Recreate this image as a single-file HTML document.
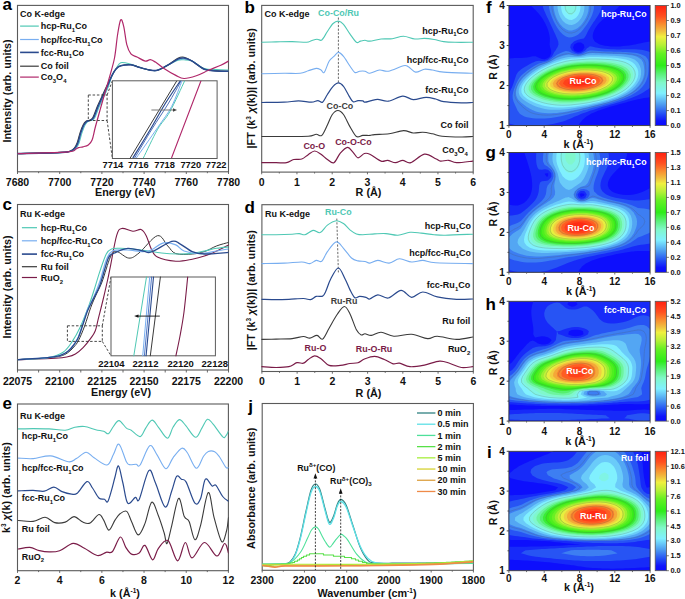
<!DOCTYPE html>
<html><head><meta charset="utf-8"><style>
html,body{margin:0;padding:0;background:#fff;width:685px;height:599px;overflow:hidden}
svg{display:block}
text{font-family:'Liberation Sans',sans-serif}
</style></head><body>
<svg width="685" height="599" viewBox="0 0 685 599">
<rect width="685" height="599" fill="#fff"/>
<text x="2.50" y="10.30" font-size="17" text-anchor="start" fill="#000" font-weight="bold">a</text>
<text x="244.50" y="13.00" font-size="17" text-anchor="start" fill="#000" font-weight="bold">b</text>
<text x="2.50" y="209.80" font-size="17" text-anchor="start" fill="#000" font-weight="bold">c</text>
<text x="244.50" y="213.20" font-size="17" text-anchor="start" fill="#000" font-weight="bold">d</text>
<text x="2.50" y="408.60" font-size="17" text-anchor="start" fill="#000" font-weight="bold">e</text>
<text x="248.30" y="412.00" font-size="17" text-anchor="start" fill="#000" font-weight="bold">j</text>
<text x="486.00" y="13.30" font-size="17" text-anchor="start" fill="#000" font-weight="bold">f</text>
<text x="485.50" y="157.70" font-size="17" text-anchor="start" fill="#000" font-weight="bold">g</text>
<text x="485.50" y="309.50" font-size="17" text-anchor="start" fill="#000" font-weight="bold">h</text>
<text x="487.00" y="458.00" font-size="17" text-anchor="start" fill="#000" font-weight="bold">i</text>
<rect x="17.50" y="5.40" width="211.00" height="166.40" stroke="#5a5a5a" stroke-width="1.1" fill="none"/>
<line x1="17.50" y1="171.80" x2="17.50" y2="174.00" stroke="#5a5a5a" stroke-width="0.9"/>
<text x="17.50" y="186.20" font-size="10.5" text-anchor="middle" fill="#111" font-weight="bold">7680</text>
<line x1="38.60" y1="171.80" x2="38.60" y2="173.20" stroke="#5a5a5a" stroke-width="0.9"/>
<line x1="59.70" y1="171.80" x2="59.70" y2="174.00" stroke="#5a5a5a" stroke-width="0.9"/>
<text x="59.70" y="186.20" font-size="10.5" text-anchor="middle" fill="#111" font-weight="bold">7700</text>
<line x1="80.80" y1="171.80" x2="80.80" y2="173.20" stroke="#5a5a5a" stroke-width="0.9"/>
<line x1="101.90" y1="171.80" x2="101.90" y2="174.00" stroke="#5a5a5a" stroke-width="0.9"/>
<text x="101.90" y="186.20" font-size="10.5" text-anchor="middle" fill="#111" font-weight="bold">7720</text>
<line x1="123.00" y1="171.80" x2="123.00" y2="173.20" stroke="#5a5a5a" stroke-width="0.9"/>
<line x1="144.10" y1="171.80" x2="144.10" y2="174.00" stroke="#5a5a5a" stroke-width="0.9"/>
<text x="144.10" y="186.20" font-size="10.5" text-anchor="middle" fill="#111" font-weight="bold">7740</text>
<line x1="165.20" y1="171.80" x2="165.20" y2="173.20" stroke="#5a5a5a" stroke-width="0.9"/>
<line x1="186.30" y1="171.80" x2="186.30" y2="174.00" stroke="#5a5a5a" stroke-width="0.9"/>
<text x="186.30" y="186.20" font-size="10.5" text-anchor="middle" fill="#111" font-weight="bold">7760</text>
<line x1="207.40" y1="171.80" x2="207.40" y2="173.20" stroke="#5a5a5a" stroke-width="0.9"/>
<line x1="228.50" y1="171.80" x2="228.50" y2="174.00" stroke="#5a5a5a" stroke-width="0.9"/>
<text x="228.50" y="186.20" font-size="10.5" text-anchor="middle" fill="#111" font-weight="bold">7780</text>
<text x="125.00" y="196.30" font-size="10.8" text-anchor="middle" fill="#111" font-weight="bold">Energy (eV)</text>
<text x="11.40" y="91.00" font-size="10.8" text-anchor="middle" fill="#111" font-weight="bold" transform="rotate(-90 11.4 91)">Intensity (arb. units)</text>
<text x="20.10" y="17.00" font-size="9" text-anchor="start" fill="#111" font-weight="bold">Co K-edge</text>
<line x1="20.10" y1="26.10" x2="38.80" y2="26.10" stroke="#4fc8b4" stroke-width="1.2"/>
<text x="40.80" y="29.30" font-size="9" text-anchor="start" fill="#111" font-weight="bold">hcp-Ru<tspan font-size="5.94" dy="2.88">1</tspan><tspan dy="-2.88">Co</tspan></text>
<line x1="20.10" y1="39.50" x2="38.80" y2="39.50" stroke="#78aef0" stroke-width="1.2"/>
<text x="40.80" y="42.70" font-size="9" text-anchor="start" fill="#111" font-weight="bold">hcp/fcc-Ru<tspan font-size="5.94" dy="2.88">1</tspan><tspan dy="-2.88">Co</tspan></text>
<line x1="20.10" y1="52.40" x2="38.80" y2="52.40" stroke="#2a4a8e" stroke-width="1.6"/>
<text x="40.80" y="55.60" font-size="9" text-anchor="start" fill="#111" font-weight="bold">fcc-Ru<tspan font-size="5.94" dy="2.88">1</tspan><tspan dy="-2.88">Co</tspan></text>
<line x1="20.10" y1="66.20" x2="38.80" y2="66.20" stroke="#3a3a3a" stroke-width="1.2"/>
<text x="40.80" y="69.40" font-size="9" text-anchor="start" fill="#111" font-weight="bold">Co foil</text>
<line x1="20.10" y1="77.10" x2="38.80" y2="77.10" stroke="#b0286a" stroke-width="1.2"/>
<text x="40.80" y="80.30" font-size="9" text-anchor="start" fill="#111" font-weight="bold">Co<tspan font-size="5.94" dy="2.88">3</tspan><tspan dy="-2.88">O</tspan><tspan font-size="5.94" dy="2.88">4</tspan></text>
<clipPath id="clipA"><rect x="17.5" y="5.4" width="211" height="166"/></clipPath><g clip-path="url(#clipA)">
<path d="M17.50,153.60 C24.92,153.40 52.88,152.85 62.00,152.40 C71.12,151.95 69.87,151.58 72.20,150.90 C74.53,150.22 74.87,149.62 76.00,148.30 C77.13,146.98 78.00,145.62 79.00,143.00 C80.00,140.38 81.00,135.60 82.00,132.60 C83.00,129.60 84.00,126.88 85.00,125.00 C86.00,123.12 86.87,122.10 88.00,121.30 C89.13,120.50 90.67,120.83 91.80,120.20 C92.93,119.57 93.55,119.82 94.80,117.50 C96.05,115.18 97.80,109.80 99.30,106.30 C100.80,102.80 102.30,99.75 103.80,96.50 C105.30,93.25 106.93,90.30 108.30,86.80 C109.67,83.30 110.72,78.47 112.00,75.50 C113.28,72.53 114.55,71.13 116.00,69.00 C117.45,66.87 118.22,63.50 120.70,62.70 C123.18,61.90 127.85,63.45 130.90,64.20 C133.95,64.95 135.93,66.25 139.00,67.20 C142.07,68.15 146.23,69.38 149.30,69.90 C152.37,70.42 154.33,71.08 157.40,70.30 C160.47,69.52 164.28,66.88 167.70,65.20 C171.12,63.52 175.18,61.10 177.90,60.20 C180.62,59.30 181.62,59.65 184.00,59.80 C186.38,59.95 188.80,59.65 192.20,61.10 C195.60,62.55 200.32,67.10 204.40,68.50 C208.48,69.90 212.68,69.25 216.70,69.50 C220.72,69.75 226.53,69.92 228.50,70.00" fill="none" stroke="#4fc8b4" stroke-width="1.1" stroke-linejoin="round" stroke-linecap="round"/>
<path d="M17.50,153.60 C24.92,153.40 53.00,152.85 62.00,152.40 C71.00,151.95 69.28,151.58 71.50,150.90 C73.72,150.22 74.17,149.62 75.30,148.30 C76.43,146.98 77.30,145.62 78.30,143.00 C79.30,140.38 80.30,135.60 81.30,132.60 C82.30,129.60 83.30,126.88 84.30,125.00 C85.30,123.12 86.17,122.10 87.30,121.30 C88.43,120.50 89.97,120.83 91.10,120.20 C92.23,119.57 92.85,119.82 94.10,117.50 C95.35,115.18 97.10,109.80 98.60,106.30 C100.10,102.80 101.60,99.75 103.10,96.50 C104.60,93.25 106.12,90.30 107.60,86.80 C109.08,83.30 110.60,78.47 112.00,75.50 C113.40,72.53 114.55,70.62 116.00,69.00 C117.45,67.38 118.22,66.50 120.70,65.80 C123.18,65.10 127.85,64.57 130.90,64.80 C133.95,65.03 135.93,66.35 139.00,67.20 C142.07,68.05 146.23,69.38 149.30,69.90 C152.37,70.42 154.33,71.08 157.40,70.30 C160.47,69.52 164.28,66.98 167.70,65.20 C171.12,63.42 175.18,60.67 177.90,59.60 C180.62,58.53 181.62,58.55 184.00,58.80 C186.38,59.05 188.80,59.35 192.20,61.10 C195.60,62.85 200.32,67.67 204.40,69.30 C208.48,70.93 212.68,70.57 216.70,70.90 C220.72,71.23 226.53,71.23 228.50,71.30" fill="none" stroke="#78aef0" stroke-width="1.1" stroke-linejoin="round" stroke-linecap="round"/>
<path d="M17.50,153.60 C24.92,153.40 53.20,152.85 62.00,152.40 C70.80,151.95 68.28,151.58 70.30,150.90 C72.32,150.22 72.97,149.62 74.10,148.30 C75.23,146.98 76.10,145.62 77.10,143.00 C78.10,140.38 79.10,135.60 80.10,132.60 C81.10,129.60 82.10,126.88 83.10,125.00 C84.10,123.12 84.97,122.10 86.10,121.30 C87.23,120.50 88.77,120.83 89.90,120.20 C91.03,119.57 91.65,119.82 92.90,117.50 C94.15,115.18 95.90,109.80 97.40,106.30 C98.90,102.80 100.40,99.75 101.90,96.50 C103.40,93.25 104.72,90.30 106.40,86.80 C108.08,83.30 110.40,78.47 112.00,75.50 C113.60,72.53 114.55,70.62 116.00,69.00 C117.45,67.38 118.22,66.50 120.70,65.80 C123.18,65.10 127.85,64.57 130.90,64.80 C133.95,65.03 135.93,66.35 139.00,67.20 C142.07,68.05 146.23,69.38 149.30,69.90 C152.37,70.42 154.33,71.08 157.40,70.30 C160.47,69.52 164.28,67.22 167.70,65.20 C171.12,63.18 175.18,59.53 177.90,58.20 C180.62,56.87 181.62,56.72 184.00,57.20 C186.38,57.68 188.80,59.08 192.20,61.10 C195.60,63.12 200.32,67.67 204.40,69.30 C208.48,70.93 212.68,70.57 216.70,70.90 C220.72,71.23 226.53,71.23 228.50,71.30" fill="none" stroke="#3a3a3a" stroke-width="1.1" stroke-linejoin="round" stroke-linecap="round"/>
<path d="M17.50,153.60 C24.92,153.40 53.08,152.85 62.00,152.40 C70.92,151.95 68.87,151.58 71.00,150.90 C73.13,150.22 73.67,149.62 74.80,148.30 C75.93,146.98 76.80,145.62 77.80,143.00 C78.80,140.38 79.80,135.60 80.80,132.60 C81.80,129.60 82.80,126.88 83.80,125.00 C84.80,123.12 85.67,122.10 86.80,121.30 C87.93,120.50 89.47,120.83 90.60,120.20 C91.73,119.57 92.35,119.82 93.60,117.50 C94.85,115.18 96.60,109.80 98.10,106.30 C99.60,102.80 101.10,99.75 102.60,96.50 C104.10,93.25 105.53,90.30 107.10,86.80 C108.67,83.30 110.52,78.47 112.00,75.50 C113.48,72.53 114.55,70.62 116.00,69.00 C117.45,67.38 118.22,66.50 120.70,65.80 C123.18,65.10 127.85,64.57 130.90,64.80 C133.95,65.03 135.93,66.35 139.00,67.20 C142.07,68.05 146.23,69.38 149.30,69.90 C152.37,70.42 154.33,71.08 157.40,70.30 C160.47,69.52 164.28,67.08 167.70,65.20 C171.12,63.32 175.18,60.20 177.90,59.00 C180.62,57.80 181.62,57.65 184.00,58.00 C186.38,58.35 188.80,59.22 192.20,61.10 C195.60,62.98 200.32,67.67 204.40,69.30 C208.48,70.93 212.68,70.57 216.70,70.90 C220.72,71.23 226.53,71.23 228.50,71.30" fill="none" stroke="#2a4a8e" stroke-width="1.5" stroke-linejoin="round" stroke-linecap="round"/>
<path d="M17.50,153.60 C25.92,153.30 58.32,152.55 68.00,151.80 C77.68,151.05 73.83,149.80 75.60,149.10 C77.37,148.40 77.37,147.98 78.60,147.60 C79.83,147.22 81.38,147.25 83.00,146.80 C84.62,146.35 86.78,146.03 88.30,144.90 C89.82,143.77 90.97,142.82 92.10,140.00 C93.23,137.18 93.98,132.25 95.10,128.00 C96.22,123.75 97.55,119.00 98.80,114.50 C100.05,110.00 101.40,105.25 102.60,101.00 C103.80,96.75 104.87,92.93 106.00,89.00 C107.13,85.07 107.98,82.57 109.40,77.40 C110.82,72.23 113.13,65.15 114.50,58.00 C115.87,50.85 116.57,40.87 117.60,34.50 C118.63,28.13 119.68,21.17 120.70,19.80 C121.72,18.43 122.68,22.15 123.70,26.30 C124.72,30.45 125.60,40.10 126.80,44.70 C128.00,49.30 129.20,51.85 130.90,53.90 C132.60,55.95 134.62,55.80 137.00,57.00 C139.38,58.20 142.98,60.65 145.20,61.10 C147.42,61.55 148.60,59.53 150.30,59.70 C152.00,59.87 153.18,60.68 155.40,62.10 C157.62,63.52 160.20,65.98 163.60,68.20 C167.00,70.42 172.40,73.68 175.80,75.40 C179.20,77.12 180.58,78.43 184.00,78.50 C187.42,78.57 192.22,77.17 196.30,75.80 C200.38,74.43 204.42,72.07 208.50,70.30 C212.58,68.53 217.47,66.73 220.80,65.20 C224.13,63.67 227.22,61.78 228.50,61.10" fill="none" stroke="#b0286a" stroke-width="1.2" stroke-linejoin="round" stroke-linecap="round"/>
</g>
<rect x="88.3" y="95" width="18.8" height="25.5" fill="none" stroke="#333" stroke-width="0.9" stroke-dasharray="2.5,1.8"/>
<line x1="107.10" y1="95.00" x2="112.40" y2="80.80" stroke="#333" stroke-width="0.9" stroke-dasharray="2.5,1.8"/>
<line x1="107.10" y1="120.50" x2="112.40" y2="158.50" stroke="#333" stroke-width="0.9" stroke-dasharray="2.5,1.8"/>
<rect x="112.40" y="80.80" width="104.70" height="77.70" stroke="#5a5a5a" stroke-width="1.0" fill="#fff"/>
<clipPath id="clipAi"><rect x="112.4" y="80.8" width="104.7" height="77.7"/></clipPath><g clip-path="url(#clipAi)">
<path d="M129.9,158.5 L176.8,80.8" fill="none" stroke="#3a3a3a" stroke-width="1.0" stroke-linejoin="round" stroke-linecap="round"/>
<path d="M133.00,157.70 C135.83,153.08 144.67,138.95 150.00,130.00 C155.33,121.05 159.95,112.20 165.00,104.00 C170.05,95.80 177.75,84.67 180.30,80.80" fill="none" stroke="#2a4a8e" stroke-width="1.2" stroke-linejoin="round" stroke-linecap="round"/>
<path d="M134.80,157.70 C137.67,152.92 146.47,137.95 152.00,129.00 C157.53,120.05 163.13,112.03 168.00,104.00 C172.87,95.97 179.00,84.67 181.20,80.80" fill="none" stroke="#3b5fb0" stroke-width="0.9" stroke-linejoin="round" stroke-linecap="round"/>
<path d="M136.50,157.70 C140.02,152.68 151.75,136.13 157.60,127.60 C163.45,119.07 167.53,114.30 171.60,106.50 C175.67,98.70 180.27,85.08 182.00,80.80" fill="none" stroke="#78aef0" stroke-width="1.0" stroke-linejoin="round" stroke-linecap="round"/>
<path d="M143.50,157.70 C145.85,152.97 153.22,136.95 157.60,129.30 C161.98,121.65 165.28,119.88 169.80,111.80 C174.32,103.72 182.22,85.97 184.70,80.80" fill="none" stroke="#4fc8b4" stroke-width="1.0" stroke-linejoin="round" stroke-linecap="round"/>
<path d="M171.6,157.7 L201,80.8" fill="none" stroke="#b0286a" stroke-width="1.1" stroke-linejoin="round" stroke-linecap="round"/>
</g>
<line x1="151.40" y1="110.00" x2="174.00" y2="110.00" stroke="#777" stroke-width="1.0"/>
<path d="M177,110 L173,108.2 L173,111.8 Z" fill="#444"/>
<text x="112.90" y="168.00" font-size="9.3" text-anchor="middle" fill="#111" font-weight="bold">7714</text>
<text x="138.30" y="168.00" font-size="9.3" text-anchor="middle" fill="#111" font-weight="bold">7716</text>
<text x="164.60" y="168.00" font-size="9.3" text-anchor="middle" fill="#111" font-weight="bold">7718</text>
<text x="190.80" y="168.00" font-size="9.3" text-anchor="middle" fill="#111" font-weight="bold">7720</text>
<text x="216.20" y="168.00" font-size="9.3" text-anchor="middle" fill="#111" font-weight="bold">7722</text>
<rect x="261.70" y="5.40" width="211.50" height="166.70" stroke="#5a5a5a" stroke-width="1.1" fill="none"/>
<line x1="261.70" y1="172.10" x2="261.70" y2="174.30" stroke="#5a5a5a" stroke-width="0.9"/>
<text x="261.70" y="185.90" font-size="10.5" text-anchor="middle" fill="#111" font-weight="bold">0</text>
<line x1="279.32" y1="172.10" x2="279.32" y2="173.50" stroke="#5a5a5a" stroke-width="0.9"/>
<line x1="296.95" y1="172.10" x2="296.95" y2="174.30" stroke="#5a5a5a" stroke-width="0.9"/>
<text x="296.95" y="185.90" font-size="10.5" text-anchor="middle" fill="#111" font-weight="bold">1</text>
<line x1="314.57" y1="172.10" x2="314.57" y2="173.50" stroke="#5a5a5a" stroke-width="0.9"/>
<line x1="332.20" y1="172.10" x2="332.20" y2="174.30" stroke="#5a5a5a" stroke-width="0.9"/>
<text x="332.20" y="185.90" font-size="10.5" text-anchor="middle" fill="#111" font-weight="bold">2</text>
<line x1="349.82" y1="172.10" x2="349.82" y2="173.50" stroke="#5a5a5a" stroke-width="0.9"/>
<line x1="367.45" y1="172.10" x2="367.45" y2="174.30" stroke="#5a5a5a" stroke-width="0.9"/>
<text x="367.45" y="185.90" font-size="10.5" text-anchor="middle" fill="#111" font-weight="bold">3</text>
<line x1="385.07" y1="172.10" x2="385.07" y2="173.50" stroke="#5a5a5a" stroke-width="0.9"/>
<line x1="402.70" y1="172.10" x2="402.70" y2="174.30" stroke="#5a5a5a" stroke-width="0.9"/>
<text x="402.70" y="185.90" font-size="10.5" text-anchor="middle" fill="#111" font-weight="bold">4</text>
<line x1="420.32" y1="172.10" x2="420.32" y2="173.50" stroke="#5a5a5a" stroke-width="0.9"/>
<line x1="437.95" y1="172.10" x2="437.95" y2="174.30" stroke="#5a5a5a" stroke-width="0.9"/>
<text x="437.95" y="185.90" font-size="10.5" text-anchor="middle" fill="#111" font-weight="bold">5</text>
<line x1="455.57" y1="172.10" x2="455.57" y2="173.50" stroke="#5a5a5a" stroke-width="0.9"/>
<line x1="473.20" y1="172.10" x2="473.20" y2="174.30" stroke="#5a5a5a" stroke-width="0.9"/>
<text x="473.20" y="185.90" font-size="10.5" text-anchor="middle" fill="#111" font-weight="bold">6</text>
<text x="368.50" y="196.30" font-size="10.8" text-anchor="middle" fill="#111" font-weight="bold">R (Å)</text>
<text x="255.40" y="88.30" font-size="10.8" text-anchor="middle" fill="#111" font-weight="bold" transform="rotate(-90 255.4 88.3)">|FT (k<tspan font-size="6.5" dy="-4">3</tspan><tspan dy="4"> <tspan font-style="italic">χ</tspan>(k))| (arb. units)</tspan></text>
<text x="264.50" y="17.00" font-size="9" text-anchor="start" fill="#111" font-weight="bold">Co K-edge</text>
<line x1="338.40" y1="17.50" x2="338.40" y2="83.00" stroke="#444" stroke-width="0.8" stroke-dasharray="2.2,1.5"/>
<path d="M261.90,42.30 C264.27,42.23 271.07,42.02 276.10,41.90 C281.13,41.78 287.02,41.53 292.10,41.60 C297.18,41.67 303.38,42.45 306.60,42.30 C309.82,42.15 309.67,41.22 311.40,40.70 C313.13,40.18 315.27,39.32 317.00,39.20 C318.73,39.08 320.07,41.28 321.80,40.00 C323.53,38.72 325.52,34.25 327.40,31.50 C329.28,28.75 331.27,25.23 333.10,23.50 C334.93,21.77 336.67,20.97 338.40,21.10 C340.13,21.23 341.58,22.17 343.50,24.30 C345.42,26.43 347.75,30.90 349.90,33.90 C352.05,36.90 354.65,41.10 356.40,42.30 C358.15,43.50 358.97,41.43 360.40,41.10 C361.83,40.77 363.43,40.30 365.00,40.30 C366.57,40.30 367.12,41.32 369.80,41.10 C372.48,40.88 377.35,39.40 381.10,39.00 C384.85,38.60 388.57,39.15 392.30,38.70 C396.03,38.25 399.75,36.25 403.50,36.30 C407.25,36.35 411.32,38.65 414.80,39.00 C418.28,39.35 421.18,38.32 424.40,38.40 C427.62,38.48 430.88,38.97 434.10,39.50 C437.32,40.03 440.23,41.13 443.70,41.60 C447.17,42.07 450.08,42.18 454.90,42.30 C459.72,42.42 469.65,42.30 472.60,42.30" fill="none" stroke="#4fc8b4" stroke-width="1.1" stroke-linejoin="round" stroke-linecap="round"/>
<path d="M261.90,73.70 C265.60,73.63 277.73,73.37 284.10,73.30 C290.47,73.23 296.08,73.72 300.10,73.30 C304.12,72.88 305.52,71.62 308.20,70.80 C310.88,69.98 314.07,68.53 316.20,68.40 C318.33,68.27 319.67,69.33 321.00,70.00 C322.33,70.67 322.85,73.87 324.20,72.40 C325.55,70.93 327.48,63.87 329.10,61.20 C330.72,58.53 332.35,57.87 333.90,56.40 C335.45,54.93 336.80,52.40 338.40,52.40 C340.00,52.40 341.58,54.13 343.50,56.40 C345.42,58.67 348.02,63.33 349.90,66.00 C351.78,68.67 353.18,71.53 354.80,72.40 C356.42,73.27 357.90,71.40 359.60,71.20 C361.30,71.00 363.30,70.85 365.00,71.20 C366.70,71.55 367.38,73.50 369.80,73.30 C372.22,73.10 376.42,70.35 379.50,70.00 C382.58,69.65 384.30,71.92 388.30,71.20 C392.30,70.48 400.15,66.43 403.50,65.70 C406.85,64.97 406.38,65.73 408.40,66.80 C410.42,67.87 412.93,71.70 415.60,72.10 C418.27,72.50 421.60,69.55 424.40,69.20 C427.20,68.85 429.18,69.52 432.40,70.00 C435.62,70.48 437.00,71.55 443.70,72.10 C450.40,72.65 467.78,73.10 472.60,73.30" fill="none" stroke="#78aef0" stroke-width="1.1" stroke-linejoin="round" stroke-linecap="round"/>
<path d="M261.90,102.50 C265.60,102.45 278.00,102.47 284.10,102.20 C290.20,101.93 293.95,100.90 298.50,100.90 C303.05,100.90 308.18,102.25 311.40,102.20 C314.62,102.15 315.93,100.60 317.80,100.60 C319.67,100.60 321.00,103.22 322.60,102.20 C324.20,101.18 325.65,97.13 327.40,94.50 C329.15,91.87 331.27,88.33 333.10,86.40 C334.93,84.47 336.67,82.90 338.40,82.90 C340.13,82.90 341.72,84.20 343.50,86.40 C345.28,88.60 347.50,93.55 349.10,96.10 C350.70,98.65 351.62,100.95 353.10,101.70 C354.58,102.45 356.38,100.73 358.00,100.60 C359.62,100.47 361.63,100.63 362.80,100.90 C363.97,101.17 363.57,102.25 365.00,102.20 C366.43,102.15 369.27,101.08 371.40,100.60 C373.53,100.12 374.98,99.20 377.80,99.30 C380.62,99.40 384.15,101.73 388.30,101.20 C392.45,100.67 398.55,96.37 402.70,96.10 C406.85,95.83 409.32,99.40 413.20,99.60 C417.08,99.80 422.25,97.40 426.00,97.30 C429.75,97.20 432.75,98.27 435.70,99.00 C438.65,99.73 439.42,101.07 443.70,101.70 C447.98,102.33 456.58,102.67 461.40,102.80 C466.22,102.93 470.73,102.55 472.60,102.50" fill="none" stroke="#2a4a8e" stroke-width="1.2" stroke-linejoin="round" stroke-linecap="round"/>
<path d="M261.90,136.50 C265.60,136.50 276.38,136.55 284.10,136.50 C291.82,136.45 302.85,136.57 308.20,136.20 C313.55,135.83 313.93,134.43 316.20,134.30 C318.47,134.17 319.93,136.95 321.80,135.40 C323.67,133.85 325.65,128.48 327.40,125.00 C329.15,121.52 330.55,116.92 332.30,114.50 C334.05,112.08 336.03,110.50 337.90,110.50 C339.77,110.50 341.50,111.82 343.50,114.50 C345.50,117.18 347.75,122.93 349.90,126.60 C352.05,130.27 354.25,135.03 356.40,136.50 C358.55,137.97 360.53,135.58 362.80,135.40 C365.07,135.22 368.03,135.53 370.00,135.40 C371.97,135.27 371.42,134.87 374.60,134.60 C377.78,134.33 384.28,134.47 389.10,133.80 C393.92,133.13 399.48,130.73 403.50,130.60 C407.52,130.47 409.98,132.73 413.20,133.00 C416.42,133.27 419.60,132.07 422.80,132.20 C426.00,132.33 429.18,133.13 432.40,133.80 C435.62,134.47 437.27,135.67 442.10,136.20 C446.93,136.73 456.32,136.95 461.40,137.00 C466.48,137.05 470.73,136.58 472.60,136.50" fill="none" stroke="#3a3a3a" stroke-width="1.1" stroke-linejoin="round" stroke-linecap="round"/>
<path d="M261.90,162.70 C264.27,162.70 272.00,162.70 276.10,162.70 C280.20,162.70 283.57,163.23 286.50,162.70 C289.43,162.17 291.15,160.12 293.70,159.50 C296.25,158.88 299.38,159.80 301.80,159.00 C304.22,158.20 306.07,156.03 308.20,154.70 C310.33,153.37 312.47,151.08 314.60,151.00 C316.73,150.92 318.87,152.78 321.00,154.20 C323.13,155.62 325.25,158.08 327.40,159.50 C329.55,160.92 331.75,163.77 333.90,162.70 C336.05,161.63 338.03,155.65 340.30,153.10 C342.57,150.55 345.37,147.53 347.50,147.40 C349.63,147.27 351.35,150.55 353.10,152.30 C354.85,154.05 356.12,157.70 358.00,157.90 C359.88,158.10 362.43,154.12 364.40,153.50 C366.37,152.88 367.02,152.93 369.80,154.20 C372.58,155.47 378.15,160.08 381.10,161.10 C384.05,162.12 385.10,160.03 387.50,160.30 C389.90,160.57 392.97,162.70 395.50,162.70 C398.03,162.70 400.15,160.30 402.70,160.30 C405.25,160.30 407.18,163.72 410.80,162.70 C414.42,161.68 420.25,154.87 424.40,154.20 C428.55,153.53 433.02,157.55 435.70,158.70 C438.38,159.85 438.37,160.83 440.50,161.10 C442.63,161.37 445.83,160.03 448.50,160.30 C451.17,160.57 452.48,162.57 456.50,162.70 C460.52,162.83 469.92,161.37 472.60,161.10" fill="none" stroke="#7a1c48" stroke-width="1.2" stroke-linejoin="round" stroke-linecap="round"/>
<text x="318.10" y="15.90" font-size="8.9" text-anchor="start" fill="#4fc8b4" font-weight="bold">Co-Co/Ru</text>
<text x="326.60" y="108.90" font-size="8.9" text-anchor="start" fill="#404040" font-weight="bold">Co-Co</text>
<text x="303.40" y="149.10" font-size="8.9" text-anchor="start" fill="#7a1c48" font-weight="bold">Co-O</text>
<text x="335.20" y="145.00" font-size="8.9" text-anchor="start" fill="#7a1c48" font-weight="bold">Co-O-Co</text>
<text x="468.60" y="33.60" font-size="9" text-anchor="end" fill="#111" font-weight="bold">hcp-Ru<tspan font-size="5.94" dy="2.88">1</tspan><tspan dy="-2.88">Co</tspan></text>
<text x="468.60" y="62.80" font-size="9" text-anchor="end" fill="#111" font-weight="bold">hcp/fcc-Ru<tspan font-size="5.94" dy="2.88">1</tspan><tspan dy="-2.88">Co</tspan></text>
<text x="468.60" y="93.20" font-size="9" text-anchor="end" fill="#111" font-weight="bold">fcc-Ru<tspan font-size="5.94" dy="2.88">1</tspan><tspan dy="-2.88">Co</tspan></text>
<text x="468.60" y="127.90" font-size="9" text-anchor="end" fill="#111" font-weight="bold">Co foil</text>
<text x="467.80" y="153.10" font-size="9" text-anchor="end" fill="#111" font-weight="bold">Co<tspan font-size="5.94" dy="2.88">3</tspan><tspan dy="-2.88">O</tspan><tspan font-size="5.94" dy="2.88">4</tspan></text>
<rect x="17.50" y="204.50" width="211.00" height="165.50" stroke="#5a5a5a" stroke-width="1.1" fill="none"/>
<line x1="17.50" y1="370.00" x2="17.50" y2="372.50" stroke="#5a5a5a" stroke-width="0.9"/>
<text x="17.50" y="384.50" font-size="10.5" text-anchor="middle" fill="#111" font-weight="bold">22075</text>
<line x1="38.60" y1="370.00" x2="38.60" y2="372.50" stroke="#5a5a5a" stroke-width="0.9"/>
<line x1="59.70" y1="370.00" x2="59.70" y2="372.50" stroke="#5a5a5a" stroke-width="0.9"/>
<text x="59.70" y="384.50" font-size="10.5" text-anchor="middle" fill="#111" font-weight="bold">22100</text>
<line x1="80.80" y1="370.00" x2="80.80" y2="372.50" stroke="#5a5a5a" stroke-width="0.9"/>
<line x1="101.90" y1="370.00" x2="101.90" y2="372.50" stroke="#5a5a5a" stroke-width="0.9"/>
<text x="101.90" y="384.50" font-size="10.5" text-anchor="middle" fill="#111" font-weight="bold">22125</text>
<line x1="123.00" y1="370.00" x2="123.00" y2="372.50" stroke="#5a5a5a" stroke-width="0.9"/>
<line x1="144.10" y1="370.00" x2="144.10" y2="372.50" stroke="#5a5a5a" stroke-width="0.9"/>
<text x="144.10" y="384.50" font-size="10.5" text-anchor="middle" fill="#111" font-weight="bold">22150</text>
<line x1="165.20" y1="370.00" x2="165.20" y2="372.50" stroke="#5a5a5a" stroke-width="0.9"/>
<line x1="186.30" y1="370.00" x2="186.30" y2="372.50" stroke="#5a5a5a" stroke-width="0.9"/>
<text x="186.30" y="384.50" font-size="10.5" text-anchor="middle" fill="#111" font-weight="bold">22175</text>
<line x1="207.40" y1="370.00" x2="207.40" y2="372.50" stroke="#5a5a5a" stroke-width="0.9"/>
<line x1="228.50" y1="370.00" x2="228.50" y2="372.50" stroke="#5a5a5a" stroke-width="0.9"/>
<text x="228.50" y="384.50" font-size="10.5" text-anchor="middle" fill="#111" font-weight="bold">22200</text>
<text x="121.00" y="395.60" font-size="10.8" text-anchor="middle" fill="#111" font-weight="bold">Energy (eV)</text>
<text x="11.40" y="287.00" font-size="10.8" text-anchor="middle" fill="#111" font-weight="bold" transform="rotate(-90 11.4 287)">Intensity (arb. units)</text>
<text x="20.10" y="217.00" font-size="9" text-anchor="start" fill="#111" font-weight="bold">Ru K-edge</text>
<line x1="21.90" y1="227.70" x2="37.00" y2="227.70" stroke="#4fc8b4" stroke-width="1.2"/>
<text x="40.80" y="230.90" font-size="9" text-anchor="start" fill="#111" font-weight="bold">hcp-Ru<tspan font-size="5.94" dy="2.88">1</tspan><tspan dy="-2.88">Co</tspan></text>
<line x1="21.90" y1="240.80" x2="37.00" y2="240.80" stroke="#78aef0" stroke-width="1.2"/>
<text x="40.80" y="244.00" font-size="9" text-anchor="start" fill="#111" font-weight="bold">hcp/fcc-Ru<tspan font-size="5.94" dy="2.88">1</tspan><tspan dy="-2.88">Co</tspan></text>
<line x1="21.90" y1="254.10" x2="37.00" y2="254.10" stroke="#2a4a8e" stroke-width="1.6"/>
<text x="40.80" y="257.30" font-size="9" text-anchor="start" fill="#111" font-weight="bold">fcc-Ru<tspan font-size="5.94" dy="2.88">1</tspan><tspan dy="-2.88">Co</tspan></text>
<line x1="21.90" y1="266.70" x2="37.00" y2="266.70" stroke="#3a3a3a" stroke-width="1.2"/>
<text x="40.80" y="269.90" font-size="9" text-anchor="start" fill="#111" font-weight="bold">Ru foil</text>
<line x1="21.90" y1="277.50" x2="37.00" y2="277.50" stroke="#7a1c48" stroke-width="1.2"/>
<text x="40.80" y="280.70" font-size="9" text-anchor="start" fill="#111" font-weight="bold">RuO<tspan font-size="5.94" dy="2.88">2</tspan><tspan dy="-2.88"></tspan></text>
<clipPath id="clipC"><rect x="17.5" y="204.5" width="211" height="166"/></clipPath><g clip-path="url(#clipC)">
<path d="M18.20,359.60 C24.40,359.38 47.15,358.77 55.40,358.30 C63.65,357.83 64.37,357.52 67.70,356.80 C71.03,356.08 72.83,355.53 75.40,354.00 C77.97,352.47 80.55,350.20 83.10,347.60 C85.65,345.00 88.67,341.22 90.70,338.40 C92.73,335.58 94.02,334.03 95.30,330.70 C96.58,327.37 97.12,323.52 98.40,318.40 C99.68,313.28 101.47,306.40 103.00,300.00 C104.53,293.60 106.37,285.62 107.60,280.00 C108.83,274.38 108.90,273.68 110.40,266.30 C111.90,258.92 114.72,242.00 116.60,235.70 C118.48,229.40 118.98,229.25 121.70,228.50 C124.42,227.75 129.67,231.03 132.90,231.20 C136.13,231.37 138.88,228.75 141.10,229.50 C143.32,230.25 144.50,232.47 146.20,235.70 C147.90,238.93 149.43,245.33 151.30,248.90 C153.17,252.47 153.32,255.05 157.40,257.10 C161.48,259.15 170.00,260.85 175.80,261.20 C181.60,261.55 187.43,260.05 192.20,259.20 C196.97,258.35 200.32,257.47 204.40,256.10 C208.48,254.73 212.67,252.87 216.70,251.00 C220.73,249.13 226.62,245.92 228.60,244.90" fill="none" stroke="#7a1c48" stroke-width="1.1" stroke-linejoin="round" stroke-linecap="round"/>
<path d="M18.20,359.60 C23.12,359.30 40.73,358.37 47.70,357.80 C54.67,357.23 56.67,357.03 60.00,356.20 C63.33,355.37 65.40,354.33 67.70,352.80 C70.00,351.27 72.02,349.02 73.80,347.00 C75.58,344.98 76.60,344.18 78.40,340.70 C80.20,337.22 82.55,331.62 84.60,326.10 C86.65,320.58 88.80,312.78 90.70,307.60 C92.60,302.42 94.12,299.27 96.00,295.00 C97.88,290.73 99.60,288.33 102.00,282.00 C104.40,275.67 107.97,262.08 110.40,257.00 C112.83,251.92 113.53,251.32 116.60,251.50 C119.67,251.68 125.07,257.85 128.80,258.10 C132.53,258.35 134.23,256.73 139.00,253.00 C143.77,249.27 152.62,236.88 157.40,235.70 C162.18,234.52 164.63,242.92 167.70,245.90 C170.77,248.88 171.72,252.25 175.80,253.60 C179.88,254.95 187.43,254.33 192.20,254.00 C196.97,253.67 200.32,252.95 204.40,251.60 C208.48,250.25 212.67,247.43 216.70,245.90 C220.73,244.37 226.62,242.98 228.60,242.40" fill="none" stroke="#3a3a3a" stroke-width="1.0" stroke-linejoin="round" stroke-linecap="round"/>
<path d="M18.20,359.60 C23.12,359.27 40.22,358.83 47.70,357.60 C55.18,356.37 59.00,354.90 63.10,352.20 C67.20,349.50 69.48,345.50 72.30,341.40 C75.12,337.30 77.18,333.73 80.00,327.60 C82.82,321.47 86.85,310.87 89.20,304.60 C91.55,298.33 92.27,295.70 94.10,290.00 C95.93,284.30 98.17,276.40 100.20,270.40 C102.23,264.40 104.42,257.58 106.30,254.00 C108.18,250.42 109.10,249.85 111.50,248.90 C113.90,247.95 115.77,248.12 120.70,248.30 C125.63,248.48 134.30,249.22 141.10,250.00 C147.90,250.78 155.37,252.33 161.50,253.00 C167.63,253.67 172.78,253.93 177.90,254.00 C183.02,254.07 187.78,253.90 192.20,253.40 C196.62,252.90 200.32,251.85 204.40,251.00 C208.48,250.15 212.67,248.98 216.70,248.30 C220.73,247.62 226.62,247.13 228.60,246.90" fill="none" stroke="#4fc8b4" stroke-width="1.1" stroke-linejoin="round" stroke-linecap="round"/>
<path d="M18.20,359.60 C23.12,359.27 40.73,358.27 47.70,357.60 C54.67,356.93 56.67,356.63 60.00,355.60 C63.33,354.57 65.40,353.25 67.70,351.40 C70.00,349.55 72.02,346.93 73.80,344.50 C75.58,342.07 76.85,340.38 78.40,336.80 C79.95,333.22 81.55,327.60 83.10,323.00 C84.65,318.40 85.92,313.55 87.70,309.20 C89.48,304.85 91.75,301.60 93.80,296.90 C95.85,292.20 97.92,287.15 100.00,281.00 C102.08,274.85 104.22,265.00 106.30,260.00 C108.38,255.00 109.08,252.67 112.50,251.00 C115.92,249.33 121.70,249.90 126.80,250.00 C131.90,250.10 139.02,251.60 143.10,251.60 C147.18,251.60 147.88,251.47 151.30,250.00 C154.72,248.53 159.52,243.65 163.60,242.80 C167.68,241.95 172.40,243.53 175.80,244.90 C179.20,246.27 179.90,249.55 184.00,251.00 C188.10,252.45 194.95,253.60 200.40,253.60 C205.85,253.60 212.00,251.78 216.70,251.00 C221.40,250.22 226.62,249.25 228.60,248.90" fill="none" stroke="#78aef0" stroke-width="1.2" stroke-linejoin="round" stroke-linecap="round"/>
<path d="M18.20,359.60 C23.12,359.27 40.73,358.27 47.70,357.60 C54.67,356.93 56.67,356.60 60.00,355.60 C63.33,354.60 65.40,353.37 67.70,351.60 C70.00,349.83 72.02,347.35 73.80,345.00 C75.58,342.65 76.85,341.00 78.40,337.50 C79.95,334.00 81.55,328.50 83.10,324.00 C84.65,319.50 85.92,314.83 87.70,310.50 C89.48,306.17 91.75,302.25 93.80,298.00 C95.85,293.75 97.57,291.67 100.00,285.00 C102.43,278.33 105.98,263.33 108.40,258.00 C110.82,252.67 111.27,254.62 114.50,253.00 C117.73,251.38 123.03,248.63 127.80,248.30 C132.57,247.97 139.18,250.38 143.10,251.00 C147.02,251.62 146.53,253.60 151.30,252.00 C156.07,250.40 166.93,242.77 171.70,241.40 C176.47,240.03 176.48,242.10 179.90,243.80 C183.32,245.50 188.12,249.90 192.20,251.60 C196.28,253.30 198.33,253.87 204.40,254.00 C210.47,254.13 224.57,252.67 228.60,252.40" fill="none" stroke="#2a4a8e" stroke-width="1.3" stroke-linejoin="round" stroke-linecap="round"/>
</g>
<rect x="67.4" y="325.8" width="34.9" height="15.6" fill="none" stroke="#333" stroke-width="0.9" stroke-dasharray="2.5,1.8"/>
<line x1="102.30" y1="325.80" x2="111.00" y2="277.00" stroke="#333" stroke-width="0.9" stroke-dasharray="2.5,1.8"/>
<line x1="102.30" y1="341.40" x2="111.00" y2="355.80" stroke="#333" stroke-width="0.9" stroke-dasharray="2.5,1.8"/>
<rect x="111.00" y="277.00" width="104.40" height="78.80" stroke="#5a5a5a" stroke-width="1.0" fill="#fff"/>
<path d="M133.8,355.8 L146.5,277" fill="none" stroke="#4fc8b4" stroke-width="1.0" stroke-linejoin="round" stroke-linecap="round"/>
<path d="M142.7,355.8 L149.7,277" fill="none" stroke="#78aef0" stroke-width="1.0" stroke-linejoin="round" stroke-linecap="round"/>
<path d="M144.4,355.8 L151.6,277" fill="none" stroke="#3b66c0" stroke-width="0.9" stroke-linejoin="round" stroke-linecap="round"/>
<path d="M146.1,355.8 L153.5,277" fill="none" stroke="#2a4a8e" stroke-width="1.1" stroke-linejoin="round" stroke-linecap="round"/>
<path d="M150.3,355.8 L160.4,277" fill="none" stroke="#3a3a3a" stroke-width="1.0" stroke-linejoin="round" stroke-linecap="round"/>
<path d="M175.90,355.80 C176.58,352.50 178.65,343.30 180.00,336.00 C181.35,328.70 182.72,321.83 184.00,312.00 C185.28,302.17 187.08,282.83 187.70,277.00" fill="none" stroke="#7a1c48" stroke-width="1.1" stroke-linejoin="round" stroke-linecap="round"/>
<line x1="137.00" y1="316.10" x2="159.80" y2="316.10" stroke="#111" stroke-width="0.9"/>
<path d="M134.2,316.1 L138.5,314.4 L138.5,317.8 Z" fill="#111"/>
<text x="111.40" y="366.80" font-size="9.5" text-anchor="middle" fill="#111" font-weight="bold">22104</text>
<text x="145.50" y="366.80" font-size="9.5" text-anchor="middle" fill="#111" font-weight="bold">22112</text>
<text x="180.70" y="366.80" font-size="9.5" text-anchor="middle" fill="#111" font-weight="bold">22120</text>
<text x="214.80" y="366.80" font-size="9.5" text-anchor="middle" fill="#111" font-weight="bold">22128</text>
<rect x="261.90" y="204.70" width="211.40" height="166.80" stroke="#5a5a5a" stroke-width="1.1" fill="none"/>
<line x1="261.90" y1="371.50" x2="261.90" y2="373.70" stroke="#5a5a5a" stroke-width="0.9"/>
<text x="261.90" y="384.60" font-size="10.5" text-anchor="middle" fill="#111" font-weight="bold">0</text>
<line x1="279.52" y1="371.50" x2="279.52" y2="372.90" stroke="#5a5a5a" stroke-width="0.9"/>
<line x1="297.13" y1="371.50" x2="297.13" y2="373.70" stroke="#5a5a5a" stroke-width="0.9"/>
<text x="297.13" y="384.60" font-size="10.5" text-anchor="middle" fill="#111" font-weight="bold">1</text>
<line x1="314.75" y1="371.50" x2="314.75" y2="372.90" stroke="#5a5a5a" stroke-width="0.9"/>
<line x1="332.37" y1="371.50" x2="332.37" y2="373.70" stroke="#5a5a5a" stroke-width="0.9"/>
<text x="332.37" y="384.60" font-size="10.5" text-anchor="middle" fill="#111" font-weight="bold">2</text>
<line x1="349.98" y1="371.50" x2="349.98" y2="372.90" stroke="#5a5a5a" stroke-width="0.9"/>
<line x1="367.60" y1="371.50" x2="367.60" y2="373.70" stroke="#5a5a5a" stroke-width="0.9"/>
<text x="367.60" y="384.60" font-size="10.5" text-anchor="middle" fill="#111" font-weight="bold">3</text>
<line x1="385.22" y1="371.50" x2="385.22" y2="372.90" stroke="#5a5a5a" stroke-width="0.9"/>
<line x1="402.83" y1="371.50" x2="402.83" y2="373.70" stroke="#5a5a5a" stroke-width="0.9"/>
<text x="402.83" y="384.60" font-size="10.5" text-anchor="middle" fill="#111" font-weight="bold">4</text>
<line x1="420.45" y1="371.50" x2="420.45" y2="372.90" stroke="#5a5a5a" stroke-width="0.9"/>
<line x1="438.07" y1="371.50" x2="438.07" y2="373.70" stroke="#5a5a5a" stroke-width="0.9"/>
<text x="438.07" y="384.60" font-size="10.5" text-anchor="middle" fill="#111" font-weight="bold">5</text>
<line x1="455.68" y1="371.50" x2="455.68" y2="372.90" stroke="#5a5a5a" stroke-width="0.9"/>
<line x1="473.30" y1="371.50" x2="473.30" y2="373.70" stroke="#5a5a5a" stroke-width="0.9"/>
<text x="473.30" y="384.60" font-size="10.5" text-anchor="middle" fill="#111" font-weight="bold">6</text>
<text x="368.50" y="397.20" font-size="10.8" text-anchor="middle" fill="#111" font-weight="bold">R (Å)</text>
<text x="255.40" y="290.20" font-size="10.8" text-anchor="middle" fill="#111" font-weight="bold" transform="rotate(-90 255.4 290.2)">|FT (k<tspan font-size="6.5" dy="-4">3</tspan><tspan dy="4"> <tspan font-style="italic">χ</tspan>(k))| (arb. units)</tspan></text>
<text x="265.10" y="216.60" font-size="9" text-anchor="start" fill="#111" font-weight="bold">Ru K-edge</text>
<line x1="336.80" y1="218.60" x2="338.40" y2="272.40" stroke="#444" stroke-width="0.8" stroke-dasharray="2.2,1.5"/>
<path d="M261.90,234.70 C264.27,234.70 271.07,234.78 276.10,234.70 C281.13,234.62 288.23,234.38 292.10,234.20 C295.97,234.02 297.15,233.52 299.30,233.60 C301.45,233.68 302.72,235.23 305.00,234.70 C307.28,234.17 310.47,230.75 313.00,230.40 C315.53,230.05 317.80,233.48 320.20,232.60 C322.60,231.72 324.72,227.08 327.40,225.10 C330.08,223.12 333.62,220.97 336.30,220.70 C338.98,220.43 341.23,221.97 343.50,223.50 C345.77,225.03 347.75,228.17 349.90,229.90 C352.05,231.63 354.25,233.10 356.40,233.90 C358.55,234.70 359.77,234.70 362.80,234.70 C365.83,234.70 370.75,234.08 374.60,233.90 C378.45,233.72 382.02,233.38 385.90,233.60 C389.78,233.82 393.88,235.42 397.90,235.20 C401.92,234.98 406.12,232.65 410.00,232.30 C413.88,231.95 417.18,232.70 421.20,233.10 C425.22,233.50 430.08,234.35 434.10,234.70 C438.12,235.05 438.88,235.28 445.30,235.20 C451.72,235.12 468.05,234.37 472.60,234.20" fill="none" stroke="#4fc8b4" stroke-width="1.1" stroke-linejoin="round" stroke-linecap="round"/>
<path d="M261.90,263.60 C265.60,263.52 277.45,263.37 284.10,263.10 C290.75,262.83 297.52,261.92 301.80,262.00 C306.08,262.08 307.40,263.87 309.80,263.60 C312.20,263.33 314.20,260.80 316.20,260.40 C318.20,260.00 319.93,262.67 321.80,261.20 C323.67,259.73 324.98,254.82 327.40,251.60 C329.82,248.38 333.62,242.43 336.30,241.90 C338.98,241.37 340.97,245.72 343.50,248.40 C346.03,251.08 349.08,255.92 351.50,258.00 C353.92,260.08 355.75,260.32 358.00,260.90 C360.25,261.48 363.03,261.13 365.00,261.50 C366.97,261.87 367.67,263.28 369.80,263.10 C371.93,262.92 374.58,260.40 377.80,260.40 C381.02,260.40 385.48,263.37 389.10,263.10 C392.72,262.83 395.75,258.98 399.50,258.80 C403.25,258.62 407.72,261.73 411.60,262.00 C415.48,262.27 418.78,260.27 422.80,260.40 C426.82,260.53 427.40,262.27 435.70,262.80 C444.00,263.33 466.45,263.47 472.60,263.60" fill="none" stroke="#78aef0" stroke-width="1.1" stroke-linejoin="round" stroke-linecap="round"/>
<path d="M261.90,299.30 C264.27,299.35 271.60,299.60 276.10,299.60 C280.60,299.60 284.35,299.48 288.90,299.30 C293.45,299.12 299.78,298.45 303.40,298.50 C307.02,298.55 308.47,299.95 310.60,299.60 C312.73,299.25 314.20,296.98 316.20,296.40 C318.20,295.82 321.00,296.97 322.60,296.10 C324.20,295.23 324.45,294.05 325.80,291.20 C327.15,288.35 328.60,282.87 330.70,279.00 C332.80,275.13 336.00,268.00 338.40,268.00 C340.80,268.00 343.18,275.40 345.10,279.00 C347.02,282.60 348.28,286.48 349.90,289.60 C351.52,292.72 353.18,296.57 354.80,297.70 C356.42,298.83 357.73,296.47 359.60,296.40 C361.47,296.33 364.30,296.87 366.00,297.30 C367.70,297.73 367.83,299.42 369.80,299.00 C371.77,298.58 374.72,294.97 377.80,294.80 C380.88,294.63 384.42,298.73 388.30,298.00 C392.18,297.27 397.22,290.52 401.10,290.40 C404.98,290.28 407.98,297.03 411.60,297.30 C415.22,297.57 418.52,292.07 422.80,292.00 C427.08,291.93 431.68,295.68 437.30,296.90 C442.92,298.12 450.62,298.95 456.50,299.30 C462.38,299.65 469.92,299.05 472.60,299.00" fill="none" stroke="#2a4a8e" stroke-width="1.2" stroke-linejoin="round" stroke-linecap="round"/>
<path d="M261.90,339.40 C264.27,339.35 271.07,339.23 276.10,339.10 C281.13,338.97 287.55,339.03 292.10,338.60 C296.65,338.17 300.45,336.58 303.40,336.50 C306.35,336.42 307.53,338.28 309.80,338.10 C312.07,337.92 314.87,335.23 317.00,335.40 C319.13,335.57 320.58,340.30 322.60,339.10 C324.62,337.90 326.68,332.30 329.10,328.20 C331.52,324.10 334.57,318.12 337.10,314.50 C339.63,310.88 342.17,306.63 344.30,306.50 C346.43,306.37 347.88,309.82 349.90,313.70 C351.92,317.58 354.52,326.27 356.40,329.80 C358.28,333.33 359.77,334.23 361.20,334.90 C362.63,335.57 363.30,333.72 365.00,333.80 C366.70,333.88 368.72,335.67 371.40,335.40 C374.08,335.13 377.35,332.07 381.10,332.20 C384.85,332.33 388.82,335.85 393.90,336.20 C398.98,336.55 405.98,333.90 411.60,334.30 C417.22,334.70 423.32,338.28 427.60,338.60 C431.88,338.92 432.48,336.07 437.30,336.20 C442.12,336.33 450.62,339.27 456.50,339.40 C462.38,339.53 469.92,337.40 472.60,337.00" fill="none" stroke="#3a3a3a" stroke-width="1.1" stroke-linejoin="round" stroke-linecap="round"/>
<path d="M261.90,366.70 C264.27,366.83 271.60,367.50 276.10,367.50 C280.60,367.50 285.43,367.50 288.90,366.70 C292.37,365.90 294.48,363.28 296.90,362.70 C299.32,362.12 301.52,363.73 303.40,363.20 C305.28,362.67 306.33,360.73 308.20,359.50 C310.07,358.27 312.47,355.93 314.60,355.80 C316.73,355.67 318.58,357.10 321.00,358.70 C323.42,360.30 325.88,364.28 329.10,365.40 C332.32,366.52 336.83,365.72 340.30,365.40 C343.77,365.08 346.95,363.95 349.90,363.50 C352.85,363.05 355.58,363.45 358.00,362.70 C360.42,361.95 361.63,360.07 364.40,359.00 C367.17,357.93 371.28,356.22 374.60,356.30 C377.92,356.38 381.22,358.25 384.30,359.50 C387.38,360.75 390.57,363.18 393.10,363.80 C395.63,364.42 396.68,362.72 399.50,363.20 C402.32,363.68 405.85,366.38 410.00,366.70 C414.15,367.02 419.45,366.03 424.40,365.10 C429.35,364.17 435.42,361.37 439.70,361.10 C443.98,360.83 446.48,362.43 450.10,363.50 C453.72,364.57 457.65,366.97 461.40,367.50 C465.15,368.03 470.73,366.83 472.60,366.70" fill="none" stroke="#7a1c48" stroke-width="1.2" stroke-linejoin="round" stroke-linecap="round"/>
<text x="325.00" y="215.40" font-size="8.9" text-anchor="start" fill="#4fc8b4" font-weight="bold">Ru-Co</text>
<text x="330.70" y="304.40" font-size="8.9" text-anchor="start" fill="#404040" font-weight="bold">Ru-Ru</text>
<text x="304.60" y="350.70" font-size="8.9" text-anchor="start" fill="#7a1c48" font-weight="bold">Ru-O</text>
<text x="355.80" y="352.30" font-size="8.9" text-anchor="start" fill="#7a1c48" font-weight="bold">Ru-O-Ru</text>
<text x="471.00" y="229.10" font-size="9" text-anchor="end" fill="#111" font-weight="bold">hcp-Ru<tspan font-size="5.94" dy="2.88">1</tspan><tspan dy="-2.88">Co</tspan></text>
<text x="471.00" y="255.60" font-size="9" text-anchor="end" fill="#111" font-weight="bold">hcp/fcc-Ru<tspan font-size="5.94" dy="2.88">1</tspan><tspan dy="-2.88">Co</tspan></text>
<text x="470.20" y="287.70" font-size="9" text-anchor="end" fill="#111" font-weight="bold">fcc-Ru<tspan font-size="5.94" dy="2.88">1</tspan><tspan dy="-2.88">Co</tspan></text>
<text x="470.20" y="324.20" font-size="9" text-anchor="end" fill="#111" font-weight="bold">Ru foil</text>
<text x="470.20" y="351.90" font-size="9" text-anchor="end" fill="#111" font-weight="bold">RuO<tspan font-size="5.94" dy="2.88">2</tspan><tspan dy="-2.88"></tspan></text>
<rect x="17.50" y="404.00" width="210.90" height="166.70" stroke="#5a5a5a" stroke-width="1.1" fill="none"/>
<line x1="17.50" y1="570.70" x2="17.50" y2="572.90" stroke="#5a5a5a" stroke-width="0.9"/>
<text x="17.50" y="584.20" font-size="10.5" text-anchor="middle" fill="#111" font-weight="bold">2</text>
<line x1="38.59" y1="570.70" x2="38.59" y2="572.10" stroke="#5a5a5a" stroke-width="0.9"/>
<line x1="59.68" y1="570.70" x2="59.68" y2="572.90" stroke="#5a5a5a" stroke-width="0.9"/>
<text x="59.68" y="584.20" font-size="10.5" text-anchor="middle" fill="#111" font-weight="bold">4</text>
<line x1="80.77" y1="570.70" x2="80.77" y2="572.10" stroke="#5a5a5a" stroke-width="0.9"/>
<line x1="101.86" y1="570.70" x2="101.86" y2="572.90" stroke="#5a5a5a" stroke-width="0.9"/>
<text x="101.86" y="584.20" font-size="10.5" text-anchor="middle" fill="#111" font-weight="bold">6</text>
<line x1="122.95" y1="570.70" x2="122.95" y2="572.10" stroke="#5a5a5a" stroke-width="0.9"/>
<line x1="144.04" y1="570.70" x2="144.04" y2="572.90" stroke="#5a5a5a" stroke-width="0.9"/>
<text x="144.04" y="584.20" font-size="10.5" text-anchor="middle" fill="#111" font-weight="bold">8</text>
<line x1="165.13" y1="570.70" x2="165.13" y2="572.10" stroke="#5a5a5a" stroke-width="0.9"/>
<line x1="186.22" y1="570.70" x2="186.22" y2="572.90" stroke="#5a5a5a" stroke-width="0.9"/>
<text x="186.22" y="584.20" font-size="10.5" text-anchor="middle" fill="#111" font-weight="bold">10</text>
<line x1="207.31" y1="570.70" x2="207.31" y2="572.10" stroke="#5a5a5a" stroke-width="0.9"/>
<line x1="228.40" y1="570.70" x2="228.40" y2="572.90" stroke="#5a5a5a" stroke-width="0.9"/>
<text x="228.40" y="584.20" font-size="10.5" text-anchor="middle" fill="#111" font-weight="bold">12</text>
<text x="125.00" y="596.50" font-size="10.8" text-anchor="middle" fill="#111" font-weight="bold">k (Å<tspan font-size="6.5" dy="-4">-1</tspan><tspan dy="4">)</tspan></text>
<text x="10.20" y="487.60" font-size="10.8" text-anchor="middle" fill="#111" font-weight="bold" transform="rotate(-90 10.2 487.6)">k<tspan font-size="6.5" dy="-4">3</tspan><tspan dy="4"> <tspan font-style="italic">χ</tspan>(k) (arb. units)</tspan></text>
<clipPath id="clipE"><rect x="17.5" y="404" width="211" height="166.7"/></clipPath><g clip-path="url(#clipE)">
<path d="M18.30,428.90 C20.77,428.85 27.97,428.60 33.10,428.60 C38.23,428.60 43.75,428.63 49.10,428.90 C54.45,429.17 60.92,430.47 65.20,430.20 C69.48,429.93 71.60,427.92 74.80,427.30 C78.00,426.68 80.92,426.10 84.40,426.50 C87.88,426.90 92.48,428.90 95.70,429.70 C98.92,430.50 101.57,430.63 103.70,431.30 C105.83,431.97 106.88,434.50 108.50,433.70 C110.12,432.90 111.65,428.68 113.40,426.50 C115.15,424.32 116.83,420.33 119.00,420.60 C121.17,420.87 124.37,426.50 126.40,428.10 C128.43,429.70 128.92,428.78 131.20,430.20 C133.48,431.62 137.68,436.95 140.10,436.60 C142.52,436.25 143.70,430.85 145.70,428.10 C147.70,425.35 149.97,420.23 152.10,420.10 C154.23,419.97 155.95,424.28 158.50,427.30 C161.05,430.32 164.98,438.20 167.40,438.20 C169.82,438.20 171.00,430.40 173.00,427.30 C175.00,424.20 177.27,419.87 179.40,419.60 C181.53,419.33 183.12,422.75 185.80,425.70 C188.48,428.65 192.82,436.90 195.50,437.30 C198.18,437.70 199.90,431.10 201.90,428.10 C203.90,425.10 205.63,419.97 207.50,419.30 C209.37,418.63 210.55,421.17 213.10,424.10 C215.65,427.03 220.65,434.97 222.80,436.90 C224.95,438.83 225.07,436.63 226.00,435.70 C226.93,434.77 228.00,432.03 228.40,431.30" fill="none" stroke="#4fc8b4" stroke-width="1.1" stroke-linejoin="round" stroke-linecap="round"/>
<path d="M18.30,458.10 C20.77,458.18 27.70,458.97 33.10,458.60 C38.50,458.23 44.82,455.37 50.70,455.90 C56.58,456.43 64.12,461.35 68.40,461.80 C72.68,462.25 73.45,460.20 76.40,458.60 C79.35,457.00 83.15,452.33 86.10,452.20 C89.05,452.07 90.62,455.67 94.10,457.80 C97.58,459.93 103.78,465.53 107.00,465.00 C110.22,464.47 111.40,458.07 113.40,454.60 C115.40,451.13 116.83,443.00 119.00,444.20 C121.17,445.40 124.63,458.40 126.40,461.80 C128.17,465.20 127.98,464.20 129.60,464.60 C131.22,465.00 134.35,464.13 136.10,464.20 C137.85,464.27 137.83,468.07 140.10,465.00 C142.37,461.93 146.90,447.53 149.70,445.80 C152.50,444.07 154.22,450.78 156.90,454.60 C159.58,458.42 163.12,468.17 165.80,468.70 C168.48,469.23 170.33,461.22 173.00,457.80 C175.67,454.38 179.38,449.00 181.80,448.20 C184.22,447.40 185.08,449.65 187.50,453.00 C189.92,456.35 193.63,467.77 196.30,468.30 C198.97,468.83 201.50,459.02 203.50,456.20 C205.50,453.38 206.43,452.15 208.30,451.40 C210.17,450.65 212.82,450.77 214.70,451.70 C216.58,452.63 217.72,454.38 219.60,457.00 C221.48,459.62 224.53,465.67 226.00,467.40 C227.47,469.13 228.00,467.40 228.40,467.40" fill="none" stroke="#78aef0" stroke-width="1.1" stroke-linejoin="round" stroke-linecap="round"/>
<path d="M18.30,490.90 C20.77,490.82 28.77,490.35 33.10,490.40 C37.43,490.45 40.83,491.73 44.30,491.20 C47.77,490.67 50.95,487.13 53.90,487.20 C56.85,487.27 59.05,490.45 62.00,491.60 C64.95,492.75 69.07,493.83 71.60,494.10 C74.13,494.37 74.65,495.28 77.20,493.20 C79.75,491.12 84.35,482.47 86.90,481.60 C89.45,480.73 90.50,485.27 92.50,488.00 C94.50,490.73 96.90,496.12 98.90,498.00 C100.90,499.88 103.03,498.68 104.50,499.30 C105.97,499.92 106.50,503.32 107.70,501.70 C108.90,500.08 110.48,493.72 111.70,489.60 C112.92,485.48 113.87,480.93 115.00,477.00 C116.13,473.07 117.18,465.00 118.50,466.00 C119.82,467.00 121.37,476.80 122.90,483.00 C124.43,489.20 125.62,500.80 127.70,503.20 C129.78,505.60 133.48,498.03 135.40,497.40 C137.32,496.77 136.97,503.87 139.20,499.40 C141.43,494.93 146.08,473.33 148.80,470.60 C151.52,467.87 152.78,476.93 155.50,483.00 C158.22,489.07 162.38,505.72 165.10,507.00 C167.82,508.28 169.88,495.82 171.80,490.70 C173.72,485.58 175.00,478.22 176.60,476.30 C178.20,474.38 179.80,478.23 181.40,479.20 C183.00,480.17 183.95,478.10 186.20,482.10 C188.45,486.10 192.50,500.48 194.90,503.20 C197.30,505.92 198.85,502.40 200.60,498.40 C202.35,494.40 203.48,481.28 205.40,479.20 C207.32,477.12 210.33,484.88 212.10,485.90 C213.87,486.92 214.23,483.53 216.00,485.30 C217.77,487.07 220.62,493.83 222.70,496.50 C224.78,499.17 227.53,500.50 228.50,501.30" fill="none" stroke="#2a4a8e" stroke-width="1.2" stroke-linejoin="round" stroke-linecap="round"/>
<path d="M18.30,520.50 C20.77,520.65 28.63,521.93 33.10,521.40 C37.57,520.87 41.50,517.10 45.10,517.30 C48.70,517.50 51.35,521.80 54.70,522.60 C58.05,523.40 61.98,523.10 65.20,522.10 C68.42,521.10 71.07,516.60 74.00,516.60 C76.93,516.60 80.12,521.03 82.80,522.10 C85.48,523.17 87.42,524.27 90.10,523.00 C92.78,521.73 96.63,514.98 98.90,514.50 C101.17,514.02 102.03,517.50 103.70,520.10 C105.37,522.70 107.02,530.10 108.90,530.10 C110.78,530.10 113.15,522.82 115.00,520.10 C116.85,517.38 118.05,515.25 120.00,513.80 C121.95,512.35 124.78,510.13 126.70,511.40 C128.62,512.67 129.58,517.48 131.50,521.40 C133.42,525.32 135.95,534.57 138.20,534.90 C140.45,535.23 142.75,528.85 145.00,523.40 C147.25,517.95 149.47,503.48 151.70,502.20 C153.93,500.92 156.32,510.57 158.40,515.70 C160.48,520.83 162.77,528.37 164.20,533.00 C165.63,537.63 165.73,544.78 167.00,543.50 C168.27,542.22 169.87,532.82 171.80,525.30 C173.73,517.78 176.52,499.85 178.60,498.40 C180.68,496.95 182.55,512.77 184.30,516.60 C186.05,520.43 187.33,517.55 189.10,521.40 C190.87,525.25 192.98,539.05 194.90,539.70 C196.82,540.35 198.37,533.15 200.60,525.30 C202.83,517.45 206.05,493.88 208.30,492.60 C210.55,491.32 211.87,509.43 214.10,517.60 C216.33,525.77 219.63,539.37 221.70,541.60 C223.77,543.83 225.37,535.00 226.50,531.00 C227.63,527.00 228.17,519.83 228.50,517.60" fill="none" stroke="#3a3a3a" stroke-width="1.1" stroke-linejoin="round" stroke-linecap="round"/>
<path d="M18.30,549.00 C20.22,548.73 26.27,547.12 29.80,547.40 C33.33,547.68 36.28,549.95 39.50,550.70 C42.72,551.45 45.75,551.90 49.10,551.90 C52.45,551.90 55.58,552.12 59.60,550.70 C63.62,549.28 69.07,543.80 73.20,543.40 C77.33,543.00 80.38,546.28 84.40,548.30 C88.42,550.32 93.68,554.83 97.30,555.50 C100.92,556.17 103.57,552.97 106.10,552.30 C108.63,551.63 110.13,554.05 112.50,551.50 C114.87,548.95 118.08,537.70 120.30,537.00 C122.52,536.30 123.93,544.45 125.80,547.30 C127.67,550.15 129.27,553.13 131.50,554.10 C133.73,555.07 136.95,554.55 139.20,553.10 C141.45,551.65 142.77,544.28 145.00,545.40 C147.23,546.52 150.37,559.32 152.60,559.80 C154.83,560.28 155.83,551.50 158.40,548.30 C160.97,545.10 164.80,538.52 168.00,540.60 C171.20,542.68 174.72,560.48 177.60,560.80 C180.48,561.12 182.90,542.98 185.30,542.50 C187.70,542.02 188.80,557.90 192.00,557.90 C195.20,557.90 200.35,542.82 204.50,542.50 C208.65,542.18 213.55,555.83 216.90,556.00 C220.25,556.17 222.67,543.98 224.60,543.50 C226.53,543.02 227.85,551.50 228.50,553.10" fill="none" stroke="#7a1c48" stroke-width="1.2" stroke-linejoin="round" stroke-linecap="round"/>
</g>
<text x="19.90" y="419.00" font-size="9" text-anchor="start" fill="#111" font-weight="bold">Ru K-edge</text>
<text x="21.80" y="439.30" font-size="9" text-anchor="start" fill="#111" font-weight="bold">hcp-Ru<tspan font-size="5.94" dy="2.88">1</tspan><tspan dy="-2.88">Co</tspan></text>
<text x="21.80" y="470.70" font-size="9" text-anchor="start" fill="#111" font-weight="bold">hcp/fcc-Ru<tspan font-size="5.94" dy="2.88">1</tspan><tspan dy="-2.88">Co</tspan></text>
<text x="21.80" y="500.90" font-size="9" text-anchor="start" fill="#111" font-weight="bold">fcc-Ru<tspan font-size="5.94" dy="2.88">1</tspan><tspan dy="-2.88">Co</tspan></text>
<text x="21.80" y="531.70" font-size="9" text-anchor="start" fill="#111" font-weight="bold">Ru foil</text>
<text x="21.80" y="559.50" font-size="9" text-anchor="start" fill="#111" font-weight="bold">RuO<tspan font-size="5.94" dy="2.88">2</tspan><tspan dy="-2.88"></tspan></text>
<rect x="262.20" y="403.50" width="211.20" height="166.80" stroke="#5a5a5a" stroke-width="1.1" fill="none"/>
<clipPath id="clipJ"><rect x="262.2" y="403.5" width="211.2" height="166.5"/></clipPath><g clip-path="url(#clipJ)">
<path d="M262.50,564.30 C265.42,564.28 276.08,564.33 280.00,564.20 C283.92,564.07 284.33,563.87 286.00,563.50 C287.67,563.13 288.45,563.57 290.00,562.00 C291.55,560.43 293.55,558.33 295.30,554.10 C297.05,549.87 298.75,543.62 300.50,536.60 C302.25,529.58 304.05,519.75 305.80,512.00 C307.55,504.25 309.40,494.77 311.00,490.10 C312.60,485.43 313.93,484.13 315.40,484.00 C316.87,483.87 318.20,485.22 319.80,489.30 C321.40,493.38 323.40,503.02 325.00,508.50 C326.60,513.98 327.93,521.03 329.40,522.20 C330.87,523.37 332.48,518.50 333.80,515.50 C335.12,512.50 336.13,506.88 337.30,504.20 C338.47,501.52 339.33,499.27 340.80,499.40 C342.27,499.53 344.05,500.57 346.10,505.00 C348.15,509.43 350.77,518.98 353.10,526.00 C355.43,533.02 357.77,541.55 360.10,547.10 C362.43,552.65 364.77,556.68 367.10,559.30 C369.43,561.92 368.62,562.15 374.10,562.80 C379.58,563.45 389.02,563.17 400.00,563.20 C410.98,563.23 427.83,563.20 440.00,563.00 C452.17,562.80 467.50,562.17 473.00,562.00" fill="none" stroke="#2f8080" stroke-width="1.2" stroke-linejoin="round" stroke-linecap="round"/>
<path d="M262.50,564.40 C265.42,564.38 276.08,564.40 280.00,564.30 C283.92,564.20 284.33,564.08 286.00,563.80 C287.67,563.52 288.45,564.07 290.00,562.60 C291.55,561.13 293.55,559.10 295.30,555.00 C297.05,550.90 298.75,544.83 300.50,538.00 C302.25,531.17 304.05,521.58 305.80,514.00 C307.55,506.42 309.40,497.08 311.00,492.50 C312.60,487.92 313.93,486.67 315.40,486.50 C316.87,486.33 318.20,487.50 319.80,491.50 C321.40,495.50 323.40,505.05 325.00,510.50 C326.60,515.95 327.93,523.03 329.40,524.20 C330.87,525.37 332.48,520.53 333.80,517.50 C335.12,514.47 336.13,508.67 337.30,506.00 C338.47,503.33 339.33,501.33 340.80,501.50 C342.27,501.67 344.05,502.75 346.10,507.00 C348.15,511.25 350.77,520.50 353.10,527.00 C355.43,533.50 357.77,540.92 360.10,546.00 C362.43,551.08 364.45,554.70 367.10,557.50 C369.75,560.30 370.52,561.78 376.00,562.80 C381.48,563.82 389.33,563.43 400.00,563.60 C410.67,563.77 427.83,563.90 440.00,563.80 C452.17,563.70 467.50,563.13 473.00,563.00" fill="none" stroke="#5ee0e6" stroke-width="1.3" stroke-linejoin="round" stroke-linecap="round"/>
<path d="M262.50,564.00 C265.42,563.97 275.42,564.00 280.00,563.80 C284.58,563.60 286.58,564.72 290.00,562.80 C293.42,560.88 297.58,556.38 300.50,552.30 C303.42,548.22 305.67,542.02 307.50,538.30 C309.33,534.58 310.18,531.90 311.50,530.00 C312.82,528.10 314.23,527.07 315.40,526.90 C316.57,526.73 317.48,527.68 318.50,529.00 C319.52,530.32 320.33,532.63 321.50,534.80 C322.67,536.97 324.18,539.95 325.50,542.00 C326.82,544.05 328.32,546.60 329.40,547.10 C330.48,547.60 330.98,546.17 332.00,545.00 C333.02,543.83 334.03,541.85 335.50,540.10 C336.97,538.35 339.38,535.18 340.80,534.50 C342.22,533.82 342.83,535.07 344.00,536.00 C345.17,536.93 345.70,537.08 347.80,540.10 C349.90,543.12 353.68,550.45 356.60,554.10 C359.52,557.75 362.38,560.40 365.30,562.00 C368.22,563.60 368.32,563.37 374.10,563.70 C379.88,564.03 383.52,564.03 400.00,564.00 C416.48,563.97 460.83,563.58 473.00,563.50" fill="none" stroke="#4ee09a" stroke-width="1.1" stroke-linejoin="round" stroke-linecap="round"/>
<path d="M262.5,565.63 L263.5,565.72 L264.5,565.80 L265.5,565.84 L266.5,565.84 L267.5,565.78 L268.5,565.66 L269.5,565.49 L270.5,565.29 L271.5,565.10 L272.5,564.94 L273.5,564.81 L274.5,564.73 L275.5,564.67 L276.5,564.64 L277.5,564.60 L278.5,564.56 L279.5,564.53 L280.5,564.49 L281.5,564.45 L282.5,564.42 L283.5,564.36 L284.5,564.26 L285.5,564.14 L286.5,563.98 L287.5,563.79 L288.5,563.58 L289.5,563.33 L290.5,563.07 L291.5,562.78 L292.5,562.78 L292.5,562.50 L293.5,562.50 L294.5,562.50 L294.5,561.25 L295.5,561.25 L296.5,561.25 L297.5,561.25 L297.5,560.00 L298.5,560.00 L299.5,560.00 L299.5,558.75 L300.5,558.75 L301.5,558.75 L301.5,557.50 L302.5,557.50 L303.5,557.50 L303.5,556.25 L304.5,556.25 L305.5,556.25 L306.5,556.25 L306.5,555.00 L307.5,555.00 L308.5,555.00 L309.5,555.00 L309.5,553.75 L310.5,553.75 L311.5,553.75 L312.5,553.75 L313.5,553.75 L314.5,553.75 L315.5,553.75 L316.5,553.75 L317.5,553.75 L318.5,553.75 L319.5,553.75 L320.5,553.75 L321.5,553.75 L322.5,553.75 L323.5,553.75 L323.5,555.00 L324.5,555.00 L325.5,555.00 L326.5,555.00 L327.5,555.00 L328.5,555.00 L329.5,555.00 L330.5,555.00 L331.5,555.00 L332.5,555.00 L333.5,555.00 L333.5,556.25 L334.5,556.25 L335.5,556.25 L336.5,556.25 L337.5,556.25 L338.5,556.25 L339.5,556.25 L340.5,556.25 L341.5,556.25 L342.5,556.25 L343.5,556.25 L344.5,556.25 L344.5,557.50 L345.5,557.50 L346.5,557.50 L347.5,557.50 L348.5,557.50 L349.5,557.50 L350.5,557.50 L351.5,557.50 L351.5,558.75 L352.5,558.75 L353.5,558.75 L354.5,558.75 L355.5,558.75 L355.5,560.00 L356.5,560.00 L357.5,560.00 L358.5,560.00 L358.5,561.25 L359.5,561.25 L360.5,561.25 L361.5,561.25 L362.5,561.25 L362.5,562.50 L363.5,562.50 L364.5,562.50 L365.5,562.50 L366.5,562.50 L366.5,563.75 L367.5,563.75 L368.5,563.75 L369.5,563.75 L370.5,563.75 L371.5,563.75 L372.5,564.16 L373.5,564.18 L374.5,564.17 L375.5,564.16 L376.5,564.16 L377.5,564.15 L378.5,564.14 L379.5,564.14 L380.5,564.13 L381.5,564.12 L382.5,564.12 L383.5,564.11 L384.5,564.10 L385.5,564.10 L386.5,564.09 L387.5,564.08 L388.5,564.08 L389.5,564.07 L390.5,564.06 L391.5,564.06 L392.5,564.05 L393.5,564.04 L394.5,564.04 L395.5,564.03 L396.5,564.02 L397.5,564.01 L398.5,564.00 L399.5,563.99 L400.5,563.97 L401.5,563.95 L402.5,563.92 L403.5,563.89 L404.5,563.86 L405.5,563.83 L406.5,563.81 L407.5,563.77 L408.5,563.74 L409.5,563.71 L410.5,563.68 L411.5,563.65 L412.5,563.62 L413.5,563.59 L414.5,563.57 L415.5,563.53 L416.5,563.50 L417.5,563.47 L418.5,563.44 L419.5,563.41 L420.5,563.38 L421.5,563.35 L422.5,563.33 L423.5,563.29 L424.5,563.26 L425.5,563.23 L426.5,563.20 L427.5,563.17 L428.5,563.14 L429.5,563.11 L430.5,563.09 L431.5,563.05 L432.5,563.02 L433.5,562.99 L434.5,562.96 L435.5,562.93 L436.5,562.90 L437.5,562.87 L438.5,562.84 L439.5,562.80 L440.5,562.76 L441.5,562.71 L442.5,562.66 L443.5,562.61 L444.5,562.55 L445.5,562.50 L446.5,562.45 L447.5,562.39 L448.5,562.34 L449.5,562.28 L450.5,562.23 L451.5,562.17 L452.5,562.12 L453.5,562.06 L454.5,562.01 L455.5,561.95 L456.5,561.90 L457.5,561.85 L458.5,561.79 L459.5,561.74 L460.5,561.68 L461.5,561.63 L462.5,561.57 L463.5,561.52 L464.5,561.46 L465.5,561.41 L466.5,561.35 L467.5,561.30 L468.5,561.25 L469.5,561.19 L470.5,561.14 L471.5,561.11 L472.5,561.07" fill="none" stroke="#58e048" stroke-width="1.2" stroke-linejoin="round" stroke-linecap="round"/>
<path d="M262.50,564.20 C268.75,564.22 285.42,564.27 300.00,564.30 C314.58,564.33 333.33,564.48 350.00,564.40 C366.67,564.32 385.00,564.03 400.00,563.80 C415.00,563.57 427.83,563.50 440.00,563.00 C452.17,562.50 467.50,561.17 473.00,560.80" fill="none" stroke="#a6ee3c" stroke-width="1.1" stroke-linejoin="round" stroke-linecap="round"/>
<path d="M262.50,565.00 C268.75,565.00 285.42,564.97 300.00,565.00 C314.58,565.03 333.33,565.27 350.00,565.20 C366.67,565.13 385.00,564.87 400.00,564.60 C415.00,564.33 427.83,564.15 440.00,563.60 C452.17,563.05 467.50,561.68 473.00,561.30" fill="none" stroke="#d6d232" stroke-width="1.1" stroke-linejoin="round" stroke-linecap="round"/>
<path d="M262.50,565.30 C264.55,565.55 271.05,566.72 274.80,566.80 C278.55,566.88 277.47,565.97 285.00,565.80 C292.53,565.63 307.50,565.83 320.00,565.80 C332.50,565.77 346.67,565.73 360.00,565.60 C373.33,565.47 386.67,565.30 400.00,565.00 C413.33,564.70 427.83,564.38 440.00,563.80 C452.17,563.22 467.50,561.88 473.00,561.50" fill="none" stroke="#dca040" stroke-width="1.1" stroke-linejoin="round" stroke-linecap="round"/>
<path d="M262.50,565.50 C264.55,565.78 271.05,567.12 274.80,567.20 C278.55,567.28 277.47,566.20 285.00,566.00 C292.53,565.80 307.50,566.03 320.00,566.00 C332.50,565.97 346.67,565.92 360.00,565.80 C373.33,565.68 386.67,565.57 400.00,565.30 C413.33,565.03 427.83,564.75 440.00,564.20 C452.17,563.65 467.50,562.37 473.00,562.00" fill="none" stroke="#ef8a48" stroke-width="1.4" stroke-linejoin="round" stroke-linecap="round"/>
</g>
<line x1="315.40" y1="477.00" x2="315.40" y2="570.00" stroke="#111" stroke-width="0.8" stroke-dasharray="2,1.4"/>
<line x1="340.70" y1="492.00" x2="340.70" y2="570.00" stroke="#111" stroke-width="0.8" stroke-dasharray="2,1.4"/>
<path d="M315.4,473.2 L313.5,478.6 L317.3,478.6 Z" fill="#111"/>
<path d="M340.7,488.3 L338.8,493.7 L342.6,493.7 Z" fill="#111"/>
<text x="297.20" y="470.80" font-size="8.8" text-anchor="start" fill="#111" font-weight="bold">Ru<tspan font-size="6.2" dy="-3.4">δ+</tspan><tspan dy="3.4">(CO)</tspan></text>
<text x="330.10" y="483.90" font-size="8.8" text-anchor="start" fill="#111" font-weight="bold">Ru<tspan font-size="6.2" dy="-3.4">δ+</tspan><tspan dy="3.4">(CO)</tspan><tspan font-size="6.2" dy="2.2">3</tspan></text>
<line x1="417.00" y1="413.00" x2="435.40" y2="413.00" stroke="#2f8080" stroke-width="1.3"/>
<text x="437.60" y="416.10" font-size="9" text-anchor="start" fill="#111" font-weight="bold">0 min</text>
<line x1="417.00" y1="424.21" x2="435.40" y2="424.21" stroke="#5ee0e6" stroke-width="1.3"/>
<text x="437.60" y="427.31" font-size="9" text-anchor="start" fill="#111" font-weight="bold">0.5 min</text>
<line x1="417.00" y1="435.42" x2="435.40" y2="435.42" stroke="#4ee09a" stroke-width="1.3"/>
<text x="437.60" y="438.52" font-size="9" text-anchor="start" fill="#111" font-weight="bold">1 min</text>
<line x1="417.00" y1="446.63" x2="435.40" y2="446.63" stroke="#58e048" stroke-width="1.3"/>
<text x="437.60" y="449.73" font-size="9" text-anchor="start" fill="#111" font-weight="bold">2 min</text>
<line x1="417.00" y1="457.84" x2="435.40" y2="457.84" stroke="#a6ee3c" stroke-width="1.3"/>
<text x="437.60" y="460.94" font-size="9" text-anchor="start" fill="#111" font-weight="bold">5 min</text>
<line x1="417.00" y1="469.05" x2="435.40" y2="469.05" stroke="#d6d232" stroke-width="1.3"/>
<text x="437.60" y="472.15" font-size="9" text-anchor="start" fill="#111" font-weight="bold">10 min</text>
<line x1="417.00" y1="480.26" x2="435.40" y2="480.26" stroke="#dca040" stroke-width="1.3"/>
<text x="437.60" y="483.36" font-size="9" text-anchor="start" fill="#111" font-weight="bold">20 min</text>
<line x1="417.00" y1="491.47" x2="435.40" y2="491.47" stroke="#ef8a48" stroke-width="1.3"/>
<text x="437.60" y="494.57" font-size="9" text-anchor="start" fill="#111" font-weight="bold">30 min</text>
<line x1="262.20" y1="570.30" x2="262.20" y2="572.50" stroke="#5a5a5a" stroke-width="0.9"/>
<text x="262.20" y="583.80" font-size="10.5" text-anchor="middle" fill="#111" font-weight="bold">2300</text>
<line x1="283.32" y1="570.30" x2="283.32" y2="571.70" stroke="#5a5a5a" stroke-width="0.9"/>
<line x1="304.44" y1="570.30" x2="304.44" y2="572.50" stroke="#5a5a5a" stroke-width="0.9"/>
<text x="304.44" y="583.80" font-size="10.5" text-anchor="middle" fill="#111" font-weight="bold">2200</text>
<line x1="325.56" y1="570.30" x2="325.56" y2="571.70" stroke="#5a5a5a" stroke-width="0.9"/>
<line x1="346.68" y1="570.30" x2="346.68" y2="572.50" stroke="#5a5a5a" stroke-width="0.9"/>
<text x="346.68" y="583.80" font-size="10.5" text-anchor="middle" fill="#111" font-weight="bold">2100</text>
<line x1="367.80" y1="570.30" x2="367.80" y2="571.70" stroke="#5a5a5a" stroke-width="0.9"/>
<line x1="388.92" y1="570.30" x2="388.92" y2="572.50" stroke="#5a5a5a" stroke-width="0.9"/>
<text x="388.92" y="583.80" font-size="10.5" text-anchor="middle" fill="#111" font-weight="bold">2000</text>
<line x1="410.04" y1="570.30" x2="410.04" y2="571.70" stroke="#5a5a5a" stroke-width="0.9"/>
<line x1="431.16" y1="570.30" x2="431.16" y2="572.50" stroke="#5a5a5a" stroke-width="0.9"/>
<text x="431.16" y="583.80" font-size="10.5" text-anchor="middle" fill="#111" font-weight="bold">1900</text>
<line x1="452.28" y1="570.30" x2="452.28" y2="571.70" stroke="#5a5a5a" stroke-width="0.9"/>
<line x1="473.40" y1="570.30" x2="473.40" y2="572.50" stroke="#5a5a5a" stroke-width="0.9"/>
<text x="473.40" y="583.80" font-size="10.5" text-anchor="middle" fill="#111" font-weight="bold">1800</text>
<text x="367.00" y="596.50" font-size="10.8" text-anchor="middle" fill="#111" font-weight="bold">Wavenumber (cm<tspan font-size="6.5" dy="-4">-1</tspan><tspan dy="4">)</tspan></text>
<text x="255.50" y="488.30" font-size="10.8" text-anchor="middle" fill="#111" font-weight="bold" transform="rotate(-90 255.5 488.3)">Absorbance (arb. units)</text>
<clipPath id="clipf"><rect x="0" y="0" width="141.2" height="120.1"/></clipPath>
<g transform="translate(508.9 5.5)" clip-path="url(#clipf)">
<rect x="0" y="0" width="141.2" height="120.1" fill="#0d0ffd"/>
<path d="M21 -3l3 0l3 0l3 0l3 0l3-0.1l3 0l3 0l3 0l3 0l3-0.1l3 0l3 0l3 0l3 0l3 0l3 0l3 0l3 0.1l3 0l3 0l3 0l3 0l3 0.1l3 0l3 0l3 0l3 0l3 0l3 0l3 0l0.7 0l-0.7 1.8l-0.4 1.2l-2.2 3l-0.4 0.2l-3 2.5l-0.2 0.3l-2.8 1.8l-1.5 1.2l-1.5 0.9l-2.7 2.1l-0.3 0.2l-3 2.6l-0.2 0.2l-2.8 2.8l-0.2 0.2l-2.3 3l-0.5 0.7l-1.3 2.3l-1.3 3l-0.4 1.9l-0.2 1.1l0.2 2.5l0.1 0.5l1.8 3l1.1 0.8l3 1.8l1 0.4l2 0.6l3 0.6l3 0.4l3 0.3l3 0.1l3 0l3-0.1l3-0.3l3-0.3l3-0.4l3-0.4l3-0.5l0.2 0l2.8-0.7l3-0.6l3-0.6l3-0.6l3-0.4l1.6-0.1l1.4-0.2l0 0.2l0 3l0 3l0 3l0 3l0 3l0.1 3l0 3l0 3l0 3l0 3l-0.1 3l0 3l0 3l0 3l0 3l0 3l0 3l0 3l0 1.5l-3 0.3l-3 0.4l-3 0.4l-1.9 0.4l-1.1 0.2l-3 0.6l-3 0.7l-3 0.8l-2.9 0.7l-0.1 0l-3 0.9l-3 0.8l-3 0.8l-1.8 0.5l-1.2 0.4l-3 0.9l-3 0.8l-3 0.8l-0.3 0.1l-2.7 1l-3 1l-3 0.9l-0.4 0.1l-2.6 1.2l-3 1.2l-1.5 0.6l-1.5 1l-3 1.7l-0.6 0.3l-2.4 2.2l-1 0.8l-2 2.6l-0.5 0.4l-2.3 3l-0.2 0.3l-3 2.6l-0.2 0.1l-2.8 0l-3 0l-3 0l-3 0l-3 0l-3 0l-3 0l-3 0l-3 0l-3 0l-3 0l-3 0l-3 0l-3 0l-3 0l-3 0l-3 0l-3 0l-3 0l-3 0l-3 0l-3 0l-3 0l0-3l0-3l0-3l-0.1-3l0-3l0-3l0-3l0.1-3l0-3l0-3l0-3l0-3l0-3l0-3l0-3l0-3l0-3l0-3l0-3l0-3l0-3l0-3l0-3l0-0.8l3-0.3l3-0.2l3-0.1l3 0l3-0.1l3-0.2l3-0.4l3-0.5l1.6-0.4l1.4-0.3l3 0.1l0.2 0.2l2.8 1.3l3 1.2l3 0.2l3-1.1l1.9-1.6l1.1-2.6l0.3-0.4l-0.1-3l-0.2-0.8l-0.7-2.2l-0.6-3l0.2-3l0.1-3l-0.4-3l-0.7-3l-0.9-3l-1.2-3l-1.4-3l-0.4-0.7l-1.3-2.3l-1.7-2.7l-0.2-0.3l-2.3-3l-0.5-0.7l-2.2-2.3l-0.8-1.1l-2.1-1.9l-0.9-1.1l-2.2-1.9l-0.8-1l-2.1-2zM66 38.4l-0.7 0.6l-1.2 3l1.3 3l0.6 0.4l3 1l3-0.4l1.7-1l1.3-2.2l0.6-0.8l-0.6-2.7l-0.1-0.3l-2.9-2l-3-0.1zM0 74.9l-0.1 0.1l0.1 0.1l0-0.1l0-0.1" fill="#172af9"/>
<path d="M36 -3l3 0l3-0.1l3 0l3 0l3 0l3 0l3-0.1l3 0l3 0l3 0l3 0.1l3 0l3 0l3 0l3 0l3 0.1l3 0l3 0l2.8 0l0 3l-0.4 3l-1 3l-1.4 2.5l-0.2 0.5l-1.9 3l-0.9 1.2l-1.1 1.8l-1.9 2.6l-0.2 0.4l-2 3l-0.8 1.4l-1 1.6l-1.6 3l-0.4 1l-1 2l-2 2.9l-0.2 0.1l-2.8 0.6l-3 0.6l-3 1.2l-0.9 0.6l-2.1 1.9l-1.1 1.1l-0.6 3l1.7 2.9l0 0.1l3 2.1l3 0.8l3-0.5l3-1.6l1.3-0.8l1.7-2.3l1.4-0.7l1.6-1.2l3 0.5l2.7 0.7l0.3 0.1l3 0.5l3 0.4l3 0.3l3 0.3l3 0.2l3 0l3 0.1l3 0l3-0.1l3 0l3-0.1l3 0l3 0.1l3 0.2l3 0.3l3 0.5l0.9 0.2l2.1 0.5l3 1l3 1.2l0 0.3l0 3l0 3l0 3l0 3l0 3l0 3l0 3l0 3l0 3l0 3l0 1.7l-1.2 1.3l-1.8 1.3l-2 1.7l-1 0.6l-3 1.9l-0.7 0.5l-2.3 1.2l-3 1.5l-0.7 0.3l-2.3 1l-3 1.2l-2 0.8l-1 0.3l-3 1.1l-3 1l-1.9 0.6l-1.1 0.4l-3 0.9l-3 0.9l-3 0.8l-3 1l-3 0.8l-3 0.8l-1.5 0.4l-1.5 0.5l-3 1l-3 0.9l-2.3 0.6l-0.7 0.3l-3 1.1l-3 1l-1.8 0.6l-1.2 0.6l-3 1.3l-2.9 1.1l-0.1 0l-3 1.5l-3 1.2l-1 0.3l-2 0.9l-3 1l-3 0.9l-1 0.2l-2 0.5l-3 0.7l-3 0.6l-3 0.4l-3 0.4l-3 0.3l-1.6 0.1l-1.4 0.1l-3 0.2l-3 0.1l-3 0.1l-3-0.1l-3-0.1l-3-0.2l-1-0.1l-2-0.2l-3-0.4l-3-0.6l-3-0.7l-3-0.9l0-0.2l0-3l0-3l0-3l0-3l0-3l0-3l0-3l0-3l0-1.8l0.8-1.2l2.2-2.1l0.4-0.9l1.5-3l1.1-1.9l0.4-1.1l1.1-3l1-3l0.5-1.6l0.5-1.4l1.1-3l1.4-2.3l0.7-0.7l2.3-2l1.4-1l1.6-1l3-1.7l0.5-0.3l2.5-1.4l3-1.5l0.2-0.1l2.8-1.3l3-0.4l3 0.1l3-0.2l3-1l0.3-0.2l2.7-2.2l1-0.8l1.7-3l0.3-0.9l1.6-2.1l1.4-2.5l0.5-0.5l1.1-3l-0.3-3l-1.1-3l-0.2-0.3l-1.1-2.7l-1.4-3l-0.5-1l-0.9-2l-1.4-3l-0.7-1.5l-0.7-1.5l-1.4-3l-0.9-1.9l-0.6-1.1l-1.4-3l-1-2.5l-0.3-0.5l-1.2-3l-0.8-3l-0.5-3z" fill="#2754f4"/>
<path d="M42 -3l3 0l3-0.1l3 0l3 0l3 0l3-0.1l3 0l3 0.1l3 0l3 0l3 0l3 0.1l3 0l3 0l0.8 0l0.3 3l-0.1 3l-0.6 3l-0.4 1.1l-0.6 1.9l-1.3 3l-1.1 1.9l-0.6 1.1l-1.8 3l-0.6 0.9l-1.5 2.1l-1.5 2.1l-0.7 0.9l-2.3 2.7l-0.4 0.3l-2.6 2.2l-1.4 0.8l-1.6 0.7l-3 1l-3 0.3l-3-0.9l-1.5-1.1l-1.5-1l-2-2l-1-1.1l-1.4-1.9l-1.6-2.3l-0.4-0.7l-1.7-3l-0.9-1.8l-0.6-1.2l-1.3-3l-1.1-2.9l0-0.1l-1-3l-0.7-3l-0.4-3l0-3zM51 47.8l3-1.4l3-0.8l3 0.4l3 1.5l1 0.5l2 0.6l3 0.5l3-0.3l2.2-0.8l0.8-0.4l3-1.6l3-0.9l3-0.1l3 0.2l3 0.3l3 0.2l3 0.2l3 0.1l3 0.1l3 0.1l3 0.1l3 0l3 0.1l3 0.1l3 0.2l3 0.2l3 0.4l3 0.5l0.7 0.2l2.3 0.7l3 1.2l1.8 1.1l1.2 1.4l1.1 1.6l0.6 3l0 3l-0.1 3l-0.1 3l-0.3 3l-0.7 3l-0.5 1.3l-0.6 1.7l-1.5 3l-0.9 1.2l-1.3 1.8l-1.7 1.7l-1.2 1.3l-1.8 1.4l-2.2 1.6l-0.8 0.5l-3 1.8l-1.3 0.7l-1.7 0.8l-3 1.3l-2.1 0.9l-0.9 0.3l-3 1.2l-3 1l-1.7 0.5l-1.3 0.4l-3 1l-3 0.8l-3 0.8l-3 0.9l-3 0.8l-3 0.8l-2.3 0.5l-0.7 0.2l-3 0.9l-3 0.8l-3 0.7l-1.6 0.4l-1.4 0.5l-3 0.9l-3 0.8l-3 0.7l-0.3 0.1l-2.7 0.8l-3 0.8l-3 0.7l-3 0.6l-0.5 0.1l-2.5 0.5l-3 0.5l-3 0.5l-3 0.3l-3 0.2l-3 0.1l-3 0l-3-0.1l-3-0.2l-3-0.5l-3-0.6l-2.4-0.7l-0.6-0.3l-3-1.7l-1.3-1l-1.7-2.4l-0.4-0.6l-1.3-3l-1.3-2.7l-0.1-0.3l-1.3-3l-0.8-3l-0.1-3l0.5-3l0.8-3l1-2.5l0.2-0.5l1.2-3l1.5-3l0.1-0.2l1.8-2.8l1.2-1.4l1.5-1.6l1.5-1.3l2.1-1.7l0.9-0.7l3-2.1l0.3-0.2l2.7-1.8l2.1-1.2l0.9-0.5l3-1.5l3-0.8l0.8-0.2l2.2-0.4l3-1l2.8-1.6l0.2-0.2l3-2.4l0.8-0.4l2.2-1.8l2.7-1.2z" fill="#3d7ef2"/>
<path d="M45 -3l3 0l3-0.1l3 0l3 0l3 0l3 0l3 0l3 0l3 0l3 0.1l3 0l1.5 0l0.4 3l-0.1 3l-0.4 3l-0.9 3l-0.5 1.2l-0.8 1.8l-1.7 3l-0.5 0.8l-1.6 2.2l-1.4 1.7l-1.4 1.3l-1.6 1.4l-2.8 1.6l-0.2 0.1l-3 0.9l-3-0.1l-2.4-0.9l-0.6-0.2l-3-2l-0.7-0.8l-2.3-2.6l-0.3-0.4l-1.9-3l-0.8-1.6l-0.7-1.4l-1.1-3l-0.8-3l-0.4-2.2l-0.2-0.8l-0.1-3l0.1-3zM81 47.7l3-0.1l3 0.1l3 0.1l3 0.2l0.9 0l2.1 0.1l3 0.1l3 0.1l3 0.1l3 0.1l3 0.1l3 0.2l3 0.2l3 0.4l3 0.4l3 0.8l1.4 0.4l1.6 0.7l3 2l0.4 0.3l1.8 3l0.7 3l0.1 0.4l0.3 2.6l0.2 3l-0.3 3l-0.2 0.8l-0.5 2.2l-1.1 3l-1.4 2.3l-0.4 0.7l-2.3 3l-0.3 0.3l-2.8 2.7l-0.2 0.2l-3 2.3l-0.8 0.5l-2.2 1.4l-3 1.6l-0.1 0l-2.9 1.4l-3 1.2l-0.9 0.4l-2.1 0.8l-3 1l-3 0.9l-0.9 0.3l-2.1 0.7l-3 0.8l-3 0.8l-2.9 0.7l-0.1 0l-3 0.8l-3 0.8l-3 0.7l-3 0.6l-0.6 0.1l-2.4 0.6l-3 0.7l-3 0.7l-3 0.6l-2.5 0.4l-0.5 0.1l-3 0.7l-3 0.5l-3 0.4l-3 0.4l-3 0.3l-3 0.2l-3 0.1l-3 0l-3-0.2l-3-0.3l-3-0.5l-3-0.8l-2.3-0.9l-0.7-0.2l-3-1.5l-2-1.3l-1-0.5l-3-2.2l-0.3-0.3l-2.7-2.1l-0.9-0.9l-2.1-2.3l-0.4-0.7l-1.3-3l-0.3-3l0.5-3l1-3l0.5-1.1l0.9-1.9l2-3l0.1-0.1l2.4-2.9l0.6-0.6l2.7-2.4l0.3-0.3l3-2.4l0.4-0.3l2.6-1.9l1.8-1.1l1.2-0.8l3-1.7l1.1-0.5l1.9-0.8l3-1l3-1.2l3-1.5l2.9-1.5l0.1-0.1l3-1.6l3-1l0.9-0.3l2.1-0.8l3-0.8l3-0.3l3 0.4l3 0.6l3 0.2l3-0.3l3-0.8l3-0.9l1.7-0.3z" fill="#53a6f3"/>
<path d="M51 -3l3 0l3-0.1l3 0l3 0l3 0l3 0l3 0.1l3 0l0.1 0l0.4 3l0 3l-0.5 3l-0.9 3l-1.5 3l-0.6 0.9l-1.6 2.1l-1.4 1.4l-2.2 1.6l-0.8 0.5l-3 0.9l-3-0.1l-3-1.2l-0.1-0.1l-2.9-2.5l-0.4-0.5l-2-3l-0.6-1.2l-0.8-1.8l-0.9-3l-0.6-3l-0.1-3l0.3-3zM75 50.7l3-0.6l3-0.3l3-0.1l3 0l3 0.1l3 0.1l3 0.1l3 0.1l3 0.1l3 0.1l3 0.2l3 0.2l2.7 0.3l0.3 0l3 0.5l3 0.6l3 0.9l2.4 1l0.6 0.3l3 2.6l0.1 0.1l1.7 3l1 3l0.2 1.3l0.2 1.7l-0.1 3l-0.1 0.6l-0.5 2.4l-1.2 3l-1.3 2.1l-0.6 0.9l-2.4 2.9l-0.1 0.1l-2.9 2.8l-0.3 0.2l-2.7 2l-1.4 1l-1.6 0.9l-3 1.6l-0.9 0.5l-2.1 1l-3 1.2l-2.2 0.8l-0.8 0.3l-3 1l-3 0.9l-2.7 0.8l-0.3 0.1l-3 0.8l-3 0.8l-3 0.7l-2.9 0.6l-0.1 0l-3 0.7l-3 0.7l-3 0.6l-3 0.5l-3 0.5l-0.1 0l-2.9 0.6l-3 0.4l-3 0.5l-3 0.3l-3 0.3l-3 0.1l-3 0.1l-3 0l-3-0.1l-3-0.3l-3-0.4l-3-0.7l-2.7-0.8l-0.3-0.1l-3-0.9l-3-1.3l-1.3-0.7l-1.7-0.8l-3-1.7l-0.8-0.5l-2.2-1.5l-1.8-1.5l-1.2-1.2l-1.3-1.8l-0.9-3l0.1-3l0.9-3l1.2-2.2l0.4-0.8l2.2-3l0.4-0.5l2.4-2.5l0.6-0.6l2.8-2.4l0.2-0.1l3-2.3l0.8-0.6l2.2-1.5l2.6-1.5l0.4-0.3l3-1.6l2.5-1.1l0.5-0.2l3-1.3l3-1.3l0.5-0.2l2.5-1.2l3-1.2l2-0.6l1-0.4l3-0.9l3-0.7l3-0.5l3-0.1l3 0.1l3 0l3-0.2l1.5-0.3z" fill="#6acbf9"/>
<path d="M54 -3l3 0l3-0.1l3 0l3 0.1l3 0l2.1 0l0.5 3l-0.1 3l-0.6 3l-1.3 3l-0.6 1l-1.7 2l-1.3 1.1l-3 1.3l-3-0.1l-3-1.7l-0.6-0.6l-2.2-3l-0.2-0.3l-1.1-2.7l-0.6-3l-0.2-3l0.4-3zM60 53.4l3-0.4l3-0.1l3-0.1l3-0.2l3-0.4l3-0.4l3-0.2l3 0l3 0l3 0l3 0.1l3 0.1l3 0.1l3 0.2l3 0.2l3 0.2l3 0.4l3 0.5l2.9 0.6l0.1 0l3 1l3 1.5l0.7 0.5l2.3 2.1l0.7 0.9l1.8 3l0.5 1.8l0.3 1.2l0.1 3l-0.4 2.1l-0.2 0.9l-1.2 3l-1.6 2.5l-0.3 0.5l-2.6 3l-0.1 0.1l-3 2.7l-0.3 0.2l-2.7 1.9l-1.7 1.1l-1.3 0.8l-3 1.5l-1.5 0.7l-1.5 0.7l-3 1.2l-3 1l-0.2 0.1l-2.8 0.9l-3 0.9l-3 0.8l-1.6 0.4l-1.4 0.4l-3 0.7l-3 0.7l-3 0.6l-3 0.5l-0.7 0.1l-2.3 0.5l-3 0.5l-3 0.5l-3 0.4l-3 0.3l-3 0.3l-3 0.2l-3 0.2l-3 0l-3 0l-3-0.2l-3-0.2l-3-0.4l-3-0.6l-3-0.8l-2.1-0.7l-0.9-0.3l-3-1l-3-1.3l-0.8-0.4l-2.2-1l-3-1.8l-0.2-0.2l-2.8-2.2l-0.7-0.8l-1.7-3l-0.2-3l0.7-3l1.6-3l0.3-0.3l2-2.7l1-1l2-2l1-0.9l2.6-2.1l0.4-0.3l3-2.2l0.8-0.5l2.2-1.4l2.9-1.6l0.1-0.1l3-1.5l3-1.3l0.2-0.1l2.8-1.2l3-1.3l1.6-0.5l1.4-0.6l3-1l3-0.8l3-0.6z" fill="#80f0fe"/>
<path d="M57 -3l3 0l3 0l3 0l1.2 0l0.5 3l-0.1 3l-1 3l-0.6 0.9l-2.4 2.1l-0.6 0.4l-3-0.1l-0.4-0.3l-2.6-2.5l-0.3-0.5l-0.9-3l-0.3-3l0.6-3zM72 53.9l3-0.3l3-0.2l3-0.2l3 0l3 0l3 0.1l3 0.1l3 0.1l3 0.2l3 0.2l1.3 0.1l1.7 0.2l3 0.3l3 0.5l3 0.8l3 0.9l0.6 0.3l2.4 1.2l2.5 1.8l0.5 0.4l2.2 2.6l0.8 1.7l0.5 1.3l0.4 3l-0.5 3l-0.4 0.9l-0.8 2.1l-2 3l-0.2 0.2l-2.5 2.8l-0.5 0.5l-3 2.5l-0.1 0l-2.9 2l-1.7 1l-1.3 0.7l-3 1.5l-1.9 0.8l-1.1 0.5l-3 1.1l-3 1l-1.2 0.4l-1.8 0.6l-3 0.8l-3 0.8l-3 0.6l-0.8 0.2l-2.2 0.5l-3 0.6l-3 0.6l-3 0.4l-3 0.5l-3 0.4l-0.4 0l-2.6 0.3l-3 0.4l-3 0.2l-3 0.1l-3 0.1l-3 0l-3-0.2l-3-0.2l-3-0.5l-1.2-0.2l-1.8-0.3l-3-0.6l-3-0.8l-3-1l-0.8-0.3l-2.2-0.8l-3-1.3l-1.7-0.9l-1.3-0.7l-3-2.1l-0.2-0.2l-2.3-3l-0.5-2l-0.2-1l0.2-0.9l0.4-2.1l1.6-3l1-1.3l1.3-1.7l1.7-1.7l1.3-1.3l1.7-1.4l2.1-1.6l0.9-0.7l3-2l0.6-0.3l2.4-1.5l3-1.5l3-1.4l3-1.3l0.8-0.3l2.2-0.9l3-1.1l3-0.9l0.5-0.1l2.5-0.7l3-0.8l3-0.5l3-0.4l3-0.3l3-0.2l1.6-0.1z" fill="#80f4e5"/>
<path d="M60 56.4l3-0.4l3-0.4l3-0.2l3-0.2l3-0.3l3-0.1l3-0.1l3 0l3 0l3 0.1l3 0.1l3 0.2l3 0.2l3 0.3l3 0.4l3 0.5l2.2 0.5l0.8 0.2l3 0.9l3 1.3l1 0.6l2 1.3l1.8 1.7l1.2 1.7l0.7 1.3l0.7 3l-0.3 3l-1.1 2.7l-0.1 0.3l-2 3l-0.9 1l-1.9 2l-1.1 0.9l-2.6 2.1l-0.4 0.2l-3 1.9l-1.6 0.9l-1.4 0.7l-3 1.4l-2.2 0.9l-0.8 0.3l-3 1.1l-3 1l-2.3 0.6l-0.7 0.2l-3 0.8l-3 0.7l-3 0.6l-3 0.6l-0.7 0.1l-2.3 0.4l-3 0.5l-3 0.4l-3 0.4l-3 0.3l-3 0.2l-3 0.2l-3 0.1l-3 0l-3-0.1l-3-0.2l-3-0.3l-3-0.5l-3-0.6l-3-0.7l-0.2-0.1l-2.8-0.7l-3-1l-3-1.3l-0.1 0l-2.9-1.4l-2.6-1.6l-0.4-0.3l-2.7-2.7l-0.3-0.9l-0.7-2.1l0.3-3l0.4-0.7l1.1-2.3l1.9-2.4l0.5-0.6l2.5-2.5l0.6-0.5l2.4-1.9l1.4-1.1l1.6-1.1l3-1.8l0.2-0.1l2.8-1.6l3-1.4l3-1.3l3-1.2l1.5-0.5l1.5-0.6l3-0.9l3-0.8l3-0.6l0.3-0.1z" fill="#80f7cc"/>
<path d="M66 56.9l3-0.3l3-0.2l3-0.2l3-0.1l3-0.1l3 0l3 0.1l3 0.1l3 0.1l3 0.3l3 0.3l1 0.1l2 0.2l3 0.5l3 0.7l3 0.8l2.1 0.8l0.9 0.4l3 1.6l1.3 1l1.7 1.7l0.9 1.3l1.1 3l-0.2 3l-1.1 3l-0.7 1l-1.3 2l-1.7 1.8l-1.2 1.2l-1.8 1.4l-2.1 1.6l-0.9 0.6l-3 1.7l-1.3 0.7l-1.7 0.8l-3 1.3l-2.4 0.9l-0.6 0.2l-3 1l-3 0.9l-3 0.8l-0.6 0.1l-2.4 0.6l-3 0.6l-3 0.6l-3 0.5l-3 0.4l-2.2 0.3l-0.8 0.1l-3 0.4l-3 0.3l-3 0.2l-3 0.1l-3 0l-3 0l-3-0.2l-3-0.3l-3-0.4l-1.2-0.2l-1.8-0.3l-3-0.6l-3-0.7l-3-1l-1.2-0.4l-1.8-0.7l-3-1.3l-1.9-1l-1.1-0.7l-2.7-2.3l-0.3-0.5l-1.3-2.5l0.1-3l1.2-2.5l0.2-0.5l2.3-3l0.5-0.5l2.7-2.5l0.3-0.2l3-2.3l0.7-0.5l2.3-1.4l2.8-1.6l0.2-0.1l3-1.6l3-1.3l0.1 0l2.9-1.2l3-1l2.6-0.8l0.4-0.1l3-0.9l3-0.7l3-0.6l3-0.4l2.5-0.3z" fill="#6df49f"/>
<path d="M57 59.5l3-0.6l3-0.4l3-0.4l3-0.3l3-0.2l3-0.2l3-0.1l3 0l3 0l3 0.1l3 0.1l3 0.2l3 0.3l3 0.3l3 0.5l3 0.6l2.4 0.6l0.6 0.2l3 1l3 1.4l0.6 0.4l2.4 1.9l1.1 1.1l1.5 3l0 3l-1 3l-1.6 2.3l-0.5 0.7l-2.5 2.5l-0.5 0.5l-2.5 1.9l-1.6 1.1l-1.4 0.8l-3 1.7l-1.1 0.5l-1.9 0.8l-3 1.2l-2.8 1l-0.2 0.1l-3 0.9l-3 0.8l-3 0.7l-2.3 0.5l-0.7 0.1l-3 0.6l-3 0.5l-3 0.5l-3 0.3l-3 0.3l-3 0.3l-3 0.1l-3 0.1l-3 0l-3-0.1l-3-0.2l-3-0.3l-3-0.4l-3-0.6l-3-0.7l-2-0.5l-1-0.3l-3-1l-3-1.2l-1.1-0.5l-1.9-1l-2.8-2l-0.2-0.3l-1.8-2.7l-0.2-3l1.3-3l0.7-0.9l1.6-2.1l1.4-1.3l1.8-1.7l1.2-0.9l3-2.1l3-1.8l2.3-1.2l0.7-0.3l3-1.4l3-1.2l0.2-0.1l2.8-1l3-1l3-0.7l1.1-0.3z" fill="#55f06e"/>
<path d="M63 59.6l3-0.4l3-0.3l3-0.2l3-0.2l3 0l3-0.1l3 0.1l3 0.1l3 0.1l3 0.3l3 0.3l3 0.4l1.4 0.3l1.6 0.3l3 0.7l3 0.9l2.7 1.1l0.3 0.2l3 1.8l1.2 1l1.8 2.8l0.1 0.2l0.3 3l-0.4 1.2l-0.6 1.8l-2 3l-0.4 0.4l-2.7 2.6l-0.3 0.2l-3 2.1l-1 0.7l-2 1.1l-3 1.5l-0.9 0.4l-2.1 0.9l-3 1l-3 1l-0.4 0.1l-2.6 0.7l-3 0.8l-3 0.6l-3 0.6l-2 0.3l-1 0.2l-3 0.4l-3 0.4l-3 0.2l-3 0.3l-3 0.1l-3 0l-3 0l-3-0.1l-3-0.3l-3-0.3l-3-0.5l-1.9-0.4l-1.1-0.2l-3-0.7l-3-0.9l-3-1.1l-0.2-0.1l-2.8-1.3l-2.7-1.7l-0.3-0.3l-2.3-2.7l-0.5-3l1.1-3l1.7-2.2l0.6-0.8l2.4-2.2l0.9-0.8l2.1-1.5l2.3-1.5l0.7-0.4l3-1.7l2-0.9l1-0.5l3-1.2l3-1.1l0.6-0.2l2.4-0.8l3-0.8l3-0.7l3-0.6l0.7-0.1z" fill="#3aed35"/>
<path d="M72 59.8l3-0.1l3-0.1l3 0l3 0l3 0.2l3 0.2l0.3 0l2.7 0.2l3 0.4l3 0.5l3 0.6l3 0.9l1.3 0.4l1.7 0.7l3 1.6l1.1 0.7l1.9 2.2l0.6 0.8l0.6 3l-0.9 3l-0.3 0.5l-1.7 2.5l-1.3 1.2l-1.9 1.8l-1.1 0.8l-3 1.9l-0.5 0.3l-2.5 1.3l-3 1.4l-0.8 0.3l-2.2 0.8l-3 1l-3 0.9l-1.2 0.3l-1.8 0.4l-3 0.7l-3 0.6l-3 0.5l-3 0.4l-3 0.3l-1.3 0.1l-1.7 0.2l-3 0.2l-3 0.1l-3 0l-3-0.1l-3-0.2l-2.4-0.2l-0.6-0.1l-3-0.3l-3-0.5l-3-0.7l-3-0.8l-1.9-0.6l-1.1-0.4l-3-1.2l-2.6-1.4l-0.4-0.4l-2.7-2.6l-0.3-0.9l-0.5-2.1l0.5-1.6l0.4-1.4l2.2-3l0.4-0.3l3-2.7l3-2l1.6-1l1.4-0.8l3-1.5l1.7-0.7l1.3-0.6l3-1.1l3-1l1.2-0.3l1.8-0.5l3-0.7l3-0.6l3-0.5l3-0.4l3-0.3l0.4 0z" fill="#38ed1b"/>
<path d="M57 62.8l3-0.6l3-0.5l3-0.4l3-0.3l3-0.2l3-0.1l3-0.1l3 0l3 0.1l3 0.2l3 0.2l3 0.3l3 0.5l3 0.5l2.3 0.6l0.7 0.2l3 1l3 1.3l0.8 0.5l2.2 1.9l1 1.1l0.9 3l-0.7 3l-1.2 1.7l-0.9 1.3l-2.1 2l-1.2 1l-1.8 1.2l-2.9 1.8l-0.1 0l-3 1.4l-3 1.3l-0.8 0.3l-2.2 0.7l-3 0.9l-3 0.8l-2.6 0.6l-0.4 0.1l-3 0.6l-3 0.5l-3 0.4l-3 0.3l-3 0.2l-3 0.2l-3 0.1l-3 0l-3-0.1l-3-0.2l-3-0.3l-3-0.5l-3-0.5l-3-0.7l-0.2-0.1l-2.8-0.8l-3-1.2l-2.2-1l-0.8-0.5l-3-2.4l-0.1-0.1l-1.1-3l0.7-3l0.5-0.7l1.7-2.3l1.3-1.2l2.2-1.8l0.8-0.6l3-1.9l0.9-0.5l2.1-1l3-1.4l1.5-0.6l1.5-0.6l3-1l3-0.8l2.4-0.6z" fill="#4fee1f"/>
<path d="M63 62.8l3-0.5l3-0.3l3-0.2l3-0.1l3 0l3 0l3 0.1l3 0.2l3 0.3l3 0.3l2.2 0.4l0.8 0.1l3 0.7l3 0.9l3 1.2l0.3 0.1l2.7 1.8l1.3 1.2l1.3 3l-0.6 3l-2 3l-3 2.6l-0.4 0.4l-2.6 1.6l-2.5 1.4l-0.5 0.2l-3 1.3l-3 1.1l-1.1 0.4l-1.9 0.6l-3 0.8l-3 0.7l-3 0.6l-2 0.3l-1 0.2l-3 0.4l-3 0.3l-3 0.2l-3 0.2l-3 0.1l-3-0.1l-3-0.1l-3-0.2l-3-0.4l-3-0.5l-0.6-0.1l-2.4-0.5l-3-0.8l-3-1l-1.7-0.7l-1.3-0.7l-3-2l-0.3-0.3l-1.6-3l0.6-3l1.3-1.9l0.8-1.1l2.2-1.9l1.3-1.1l1.7-1l3-1.8l0.4-0.2l2.6-1.2l3-1.2l1.6-0.6l1.4-0.5l3-0.9l3-0.7l3-0.6l1.6-0.3z" fill="#69f024"/>
<path d="M72 62.8l3-0.1l3 0l3 0l3 0.2l2 0.1l1 0.1l3 0.3l3 0.4l3 0.6l3 0.8l2.4 0.8l0.6 0.3l3 1.6l1.5 1.1l1.5 2.6l0.2 0.4l-0.2 1.3l-0.2 1.7l-2 3l-0.8 0.7l-2.8 2.3l-0.2 0.1l-3 1.8l-2.2 1.1l-0.8 0.3l-3 1.2l-3 1l-1.6 0.5l-1.4 0.4l-3 0.7l-3 0.6l-3 0.5l-3 0.4l-3 0.3l-1.3 0.1l-1.7 0.1l-3 0.2l-3 0l-3 0l-3-0.2l-1.1-0.1l-1.9-0.2l-3-0.4l-3-0.5l-3-0.7l-3-0.9l-0.8-0.3l-2.2-1l-3-1.7l-0.4-0.3l-2.1-3l0.4-3l2-3l0.1-0.1l3-2.4l0.6-0.5l2.4-1.4l2.9-1.6l0.1 0l3-1.3l3-1.1l1.9-0.6l1.1-0.3l3-0.8l3-0.6l3-0.5l3-0.4l3-0.3l0.8-0.1z" fill="#98f030"/>
<path d="M57 65.9l3-0.6l3-0.5l3-0.4l3-0.3l3-0.2l3-0.2l3 0l3 0.1l3 0.1l3 0.3l3 0.4l3 0.5l3 0.6l1 0.3l2 0.7l3 1.4l1.4 0.9l1.6 2l0.7 1l-0.2 3l-0.5 0.7l-1.5 2.3l-1.5 1.2l-2.2 1.8l-0.8 0.4l-3 1.6l-2.1 1l-0.9 0.4l-3 1l-3 0.9l-2.7 0.7l-0.3 0.1l-3 0.6l-3 0.5l-3 0.4l-3 0.3l-3 0.2l-3 0.1l-3 0.1l-3-0.1l-3-0.2l-3-0.3l-3-0.5l-3-0.6l-2.5-0.6l-0.5-0.2l-3-1.1l-3-1.5l-0.3-0.2l-2.6-3l0-3l2.1-3l0.8-0.7l2.9-2.3l0.1 0l3-1.7l2.7-1.3l0.3-0.1l3-1.2l3-0.9l2.8-0.8z" fill="#c3f039"/>
<path d="M63 65.8l3-0.4l3-0.3l3-0.3l3-0.1l3 0l3 0.1l3 0.2l3 0.3l3 0.4l1.5 0.3l1.5 0.3l3 0.9l3 1.2l1.1 0.6l1.9 1.8l1 1.2l0.1 3l-1.1 1.6l-0.9 1.4l-2.1 1.7l-1.8 1.3l-1.2 0.6l-3 1.5l-2.2 0.9l-0.8 0.3l-3 0.9l-3 0.8l-3 0.7l-1.8 0.3l-1.2 0.2l-3 0.4l-3 0.3l-3 0.2l-3 0.1l-3 0l-3-0.1l-3-0.2l-3-0.4l-3-0.5l-0.1 0l-2.9-0.7l-3-1l-3-1.3l-3-2.7l-0.2-0.3l-0.3-3l0.5-0.7l1.5-2.3l1.5-1.2l2.4-1.8l0.6-0.3l3-1.5l2.7-1.2l0.3-0.1l3-1l3-0.9l3-0.7l1.7-0.3z" fill="#e7f03f"/>
<path d="M72 65.8l3 0l3 0l3 0.1l1.9 0.1l1.1 0.1l3 0.4l3 0.5l3 0.8l3 1l0.5 0.2l2.5 1.9l1.2 1.1l0.3 3l-1.5 2.4l-0.4 0.6l-2.6 1.9l-1.6 1.1l-1.4 0.7l-3 1.3l-2.7 1l-0.3 0.1l-3 0.8l-3 0.7l-3 0.5l-3 0.5l-3 0.3l-1.5 0.1l-1.5 0.1l-3 0.1l-3 0l-3-0.2l-0.4 0l-2.6-0.3l-3-0.4l-3-0.7l-3-0.8l-2.3-0.8l-0.7-0.4l-3-2.3l-0.4-0.3l-0.5-3l0.9-1.4l1-1.6l2-1.5l2.1-1.5l0.9-0.5l3-1.3l3-1.2l3-0.9l3-0.7l3-0.6l3-0.4l3-0.3l0.7-0.1z" fill="#f0cf40"/>
<path d="M60 68.5l3-0.6l3-0.4l3-0.3l3-0.3l3 0l3 0l3 0.1l3 0.3l3 0.5l3 0.6l2.1 0.6l0.9 0.4l3 1.8l1.1 0.8l0.7 3l-1.8 2.9l-0.1 0.1l-2.9 2l-1.6 1l-1.4 0.6l-3 1.2l-3 1l-0.9 0.2l-2.1 0.5l-3 0.5l-3 0.5l-3 0.3l-3 0.2l-3 0.1l-3-0.1l-3-0.2l-3-0.3l-3-0.5l-3-0.7l-0.9-0.3l-2.1-1l-3-1.8l-0.2-0.2l-1-3l1.2-2l0.6-1l2.4-1.7l2-1.3l1-0.4l3-1.2l3-1.1l1-0.3z" fill="#f4a838"/>
<path d="M66 68.6l3-0.3l3-0.2l3-0.1l3 0.1l3 0.1l3 0.4l2.5 0.4l0.5 0.1l3 1.1l3 1.4l0.6 0.4l1.2 3l-1.8 3l-3 1.9l-1.9 1.1l-1.1 0.4l-3 1l-3 0.8l-3 0.7l-0.4 0.1l-2.6 0.4l-3 0.3l-3 0.2l-3 0l-3-0.1l-3-0.2l-3-0.4l-1.1-0.2l-1.9-0.5l-3-1.1l-2.7-1.4l-0.3-0.5l-1.2-2.5l1.2-2.1l0.5-0.9l2.5-1.6l2.3-1.4l0.7-0.3l3-1l3-0.9l3-0.8l0.2 0z" fill="#f9832d"/>
<path d="M60 71.2l3-0.8l3-0.5l3-0.4l3-0.3l3 0l3 0.1l3 0.3l3 0.6l3 0.8l2.5 1l0.5 0.6l1.5 2.4l-1.5 2.5l-0.3 0.5l-2.7 1.5l-2.9 1.5l-0.1 0l-3 0.9l-3 0.6l-3 0.6l-3 0.3l-3 0.2l-3 0.1l-3-0.2l-3-0.4l-3-0.6l-3-0.9l-1.5-0.6l-1.5-1.7l-0.9-1.3l0.9-1.6l0.8-1.4l2.2-1.3l3-1.6l0.2-0.1z" fill="#fe5d23"/>
<path d="M63 71.8l3-0.5l3-0.4l3-0.2l3 0l3 0.2l3 0.4l3 0.6l0.2 0.1l2.8 2.3l0.6 0.7l-0.6 1.1l-1.2 1.9l-1.8 0.9l-3 1.3l-2.3 0.8l-0.7 0.1l-3 0.5l-3 0.4l-3 0.1l-3 0l-3-0.2l-3-0.4l-2-0.5l-1-0.6l-3-2.4l1.7-3l1.3-0.7l3-1.4l2.4-0.9z" fill="#ff411b"/>
<path d="M63 74.2l3-0.9l3-0.6l3-0.3l3 0.1l3 0.5l3 1.1l1.5 0.9l-1.5 2.5l-0.3 0.5l-2.7 0.9l-3 0.8l-3 0.5l-3 0.2l-3-0.2l-3-0.6l-3-1.2l-0.7-0.4l0.7-1.6l0.7-1.4z" fill="#ff2b14"/>
<path d="M81.5 -3l0.3 3l-0.1 3l-0.5 3l-0.2 0.7l-0.6 2.3l-1.3 3l-1.1 2.1l-0.5 0.9l-2 3l-0.5 0.7l-1.9 2.3l-1.1 1.3l-1.9 1.7l-1.1 1l-3 1.7l-1.3 0.3l-1.7 0.5l-3-0.1l-1.2-0.4l-1.8-0.6l-3-2l-0.4-0.4l-2.6-2.7l-0.2-0.3l-2.1-3l-0.7-1.2l-0.9-1.8l-1.4-3l-0.7-1.8l-0.5-1.2l-0.8-3l-0.6-3l-0.2-3l0.1-3M78 47.4l3-0.7l3-0.1l3 0.1l3 0.2l3 0.2l3 0.1l3 0.1l3 0.1l3 0.1l3 0.1l3 0.1l3 0.1l2.5 0.2l0.5 0l3 0.3l3 0.4l3 0.6l3 0.8l2.3 0.9l0.7 0.4l3 2.6l1.3 3l0.4 3l0.2 3l0 3l-0.2 3l-0.7 3l-1 2.4l-0.2 0.6l-1.6 3l-1.2 1.5l-1.1 1.5l-1.9 1.9l-1.1 1.1l-1.9 1.5l-2.1 1.5l-0.9 0.6l-3 1.7l-1.3 0.7l-1.7 0.8l-3 1.4l-2.1 0.8l-0.9 0.3l-3 1.2l-3 0.9l-1.9 0.6l-1.1 0.4l-3 0.9l-3 0.8l-3 0.8l-0.5 0.1l-2.5 0.7l-3 0.8l-3 0.7l-3 0.7l-0.6 0.1l-2.4 0.7l-3 0.7l-3 0.7l-3 0.7l-1.1 0.2l-1.9 0.5l-3 0.8l-3 0.6l-3 0.6l-3 0.4l-0.5 0.1l-2.5 0.5l-3 0.4l-3 0.3l-3 0.3l-3 0.1l-3 0l-3-0.2l-3-0.3l-3-0.5l-2.3-0.6l-0.7-0.2l-3-1.2l-2.7-1.6l-0.3-0.2l-3-2.3l-0.5-0.5l-2.5-2.2l-0.7-0.8l-2.3-2.4l-0.4-0.6l-1.9-3l-0.7-2.6l-0.1-0.4l0-3l0.1-0.2l0.6-2.8l1-3l1.3-3l0.1-0.1l1.7-2.9l1.3-1.8l1.1-1.2l1.9-2l1.1-1l1.9-1.6l1.8-1.4l1.2-0.9l3-2l0.2-0.1l2.8-1.8l2.2-1.2l0.8-0.4l3-1.2l3-0.9l1.3-0.5l1.7-0.6l3-1.5l1.6-0.9l1.4-1.1l3-1.6l0.9-0.3l2.1-1l3-1l3-0.7l3-0.2l3 0.6l3 0.8l3 0.3l3-0.3l3-0.9l1.8-0.6z" fill="none" stroke="#505050" stroke-opacity="0.4" stroke-width="0.5"/>
<path d="M66.4 -3l0.6 3l-0.3 3l-0.7 2.1l-0.5 0.9l-2.5 2.2l-3-0.1l-2.2-2.1l-0.8-1.4l-0.5-1.6l-0.3-3l0.6-3M75 53.9l3-0.2l3-0.2l3 0l3 0l3 0.1l3 0.1l3 0.1l2.9 0.2l0.1 0l3 0.2l3 0.3l3 0.4l3 0.6l3 0.7l2.3 0.8l0.7 0.3l3 1.5l1.7 1.2l1.3 1.2l1.5 1.8l1.4 3l0.1 0.3l0.4 2.7l-0.4 2.4l-0.1 0.6l-1.2 3l-1.7 2.6l-0.3 0.4l-2.7 3l-3 2.6l-0.6 0.4l-2.4 1.6l-2.3 1.4l-0.7 0.4l-3 1.5l-2.5 1.1l-0.5 0.2l-3 1.2l-3 1l-2 0.6l-1 0.3l-3 0.9l-3 0.7l-3 0.7l-1.9 0.4l-1.1 0.2l-3 0.7l-3 0.5l-3 0.5l-3 0.4l-3 0.4l-2.8 0.3l-0.2 0l-3 0.3l-3 0.3l-3 0.1l-3 0.1l-3-0.1l-3-0.2l-3-0.3l-1.6-0.2l-1.4-0.2l-3-0.5l-3-0.6l-3-0.8l-2.5-0.9l-0.5-0.1l-3-1.1l-3-1.4l-0.8-0.4l-2.2-1.2l-2.5-1.8l-0.5-0.5l-2-2.5l-0.7-3l0.6-3l1.5-3l0.6-0.8l1.7-2.2l1.3-1.3l1.8-1.7l1.2-1l2.5-2l0.5-0.3l3-2l1.1-0.7l1.9-1.1l3-1.6l0.6-0.3l2.4-1.2l3-1.2l1.5-0.6l1.5-0.6l3-1.1l3-0.9l1.6-0.4l1.4-0.4l3-0.8l3-0.5l3-0.5l3-0.2l3-0.2l3-0.3l1.9-0.1z" fill="none" stroke="#505050" stroke-opacity="0.4" stroke-width="0.5"/>
<path d="M72 59.8l3-0.1l3-0.1l3 0l3 0l3 0.2l3 0.2l0.3 0l2.7 0.2l3 0.4l3 0.5l3 0.6l3 0.9l1.3 0.4l1.7 0.7l3 1.6l1.1 0.7l1.9 2.2l0.6 0.8l0.6 3l-0.9 3l-0.3 0.5l-1.7 2.5l-1.3 1.2l-1.9 1.8l-1.1 0.8l-3 1.9l-0.5 0.3l-2.5 1.3l-3 1.4l-0.8 0.3l-2.2 0.8l-3 1l-3 0.9l-1.2 0.3l-1.8 0.4l-3 0.7l-3 0.6l-3 0.5l-3 0.4l-3 0.3l-1.3 0.1l-1.7 0.2l-3 0.2l-3 0.1l-3 0l-3-0.1l-3-0.2l-2.4-0.2l-0.6-0.1l-3-0.3l-3-0.5l-3-0.7l-3-0.8l-1.9-0.6l-1.1-0.4l-3-1.2l-2.6-1.4l-0.4-0.4l-2.7-2.6l-0.3-0.9l-0.5-2.1l0.5-1.6l0.4-1.4l2.2-3l0.4-0.3l3-2.7l3-2l1.6-1l1.4-0.8l3-1.5l1.7-0.7l1.3-0.6l3-1.1l3-1l1.2-0.3l1.8-0.5l3-0.7l3-0.6l3-0.5l3-0.4l3-0.3l0.4 0z" fill="none" stroke="#505050" stroke-opacity="0.4" stroke-width="0.5"/>
<path d="M63 65.6l3-0.4l3-0.3l3-0.3l3-0.1l3 0l3 0.1l3 0.2l3 0.3l3 0.4l2.8 0.5l0.2 0.1l3 0.8l3 1.2l1.8 0.9l1.2 1.1l1.5 1.9l0 3l-1.5 2.4l-0.4 0.6l-2.6 2l-1.3 1l-1.7 0.9l-3 1.4l-1.6 0.7l-1.4 0.5l-3 0.9l-3 0.8l-3 0.7l-0.7 0.1l-2.3 0.4l-3 0.4l-3 0.3l-3 0.2l-3 0.1l-3 0l-3-0.1l-3-0.2l-3-0.3l-3-0.5l-1.3-0.3l-1.7-0.4l-3-1l-3-1.3l-0.7-0.3l-2.3-2.1l-0.8-0.9l-0.1-3l0.9-1.4l1-1.6l2-1.5l1.9-1.5l1.1-0.6l3-1.5l2.1-0.9l0.9-0.4l3-0.9l3-0.9l3-0.7l0.6-0.1z" fill="none" stroke="#505050" stroke-opacity="0.4" stroke-width="0.5"/>
<path d="M69 68.7l3-0.2l3 0l3 0l3 0.2l2.4 0.3l0.6 0.1l3 0.8l3 1.1l2.1 1l0.9 1.7l0.6 1.3l-0.6 1l-1.3 2l-1.7 1.1l-3 1.7l-0.4 0.2l-2.6 0.8l-3 0.9l-3 0.7l-3 0.5l-0.7 0.1l-2.3 0.2l-3 0.2l-3 0l-3-0.1l-3-0.2l-0.8-0.1l-2.2-0.4l-3-0.9l-3-1.1l-1.1-0.6l-1.9-3l1.8-3l1.2-0.8l3-1.8l0.8-0.4l2.2-0.8l3-0.9l3-0.7l3-0.6l0.2 0z" fill="none" stroke="#505050" stroke-opacity="0.4" stroke-width="0.5"/>
</g>
<rect x="508.90" y="5.50" width="141.20" height="120.10" stroke="#333" stroke-width="0.9" fill="none"/>
<linearGradient id="cbf" x1="0" y1="1" x2="0" y2="0"><stop offset="0.0" stop-color="#0a0aff"/><stop offset="0.04" stop-color="#0f14fc"/><stop offset="0.09" stop-color="#2046f5"/><stop offset="0.17" stop-color="#4a96f0"/><stop offset="0.27" stop-color="#80f0ff"/><stop offset="0.36" stop-color="#80f8c8"/><stop offset="0.43" stop-color="#5af078"/><stop offset="0.5" stop-color="#2dec19"/><stop offset="0.6" stop-color="#64f023"/><stop offset="0.67" stop-color="#b4f037"/><stop offset="0.74" stop-color="#f0f040"/><stop offset="0.785" stop-color="#f0c040"/><stop offset="0.84" stop-color="#f89030"/><stop offset="0.91" stop-color="#ff5020"/><stop offset="1.0" stop-color="#ff2010"/></linearGradient><rect x="655.2" y="5.5" width="11.199999999999932" height="120.1" fill="url(#cbf)" stroke="#555" stroke-width="0.8"/>
<line x1="666.40" y1="5.50" x2="668.90" y2="5.50" stroke="#555" stroke-width="0.8"/>
<text x="670.40" y="8.10" font-size="7.4" text-anchor="start" fill="#111" font-weight="bold">1.0</text>
<line x1="666.40" y1="20.51" x2="668.90" y2="20.51" stroke="#555" stroke-width="0.8"/>
<text x="670.40" y="23.11" font-size="7.4" text-anchor="start" fill="#111" font-weight="bold">0.9</text>
<line x1="666.40" y1="35.52" x2="668.90" y2="35.52" stroke="#555" stroke-width="0.8"/>
<text x="670.40" y="38.12" font-size="7.4" text-anchor="start" fill="#111" font-weight="bold">0.7</text>
<line x1="666.40" y1="50.54" x2="668.90" y2="50.54" stroke="#555" stroke-width="0.8"/>
<text x="670.40" y="53.14" font-size="7.4" text-anchor="start" fill="#111" font-weight="bold">0.6</text>
<line x1="666.40" y1="65.55" x2="668.90" y2="65.55" stroke="#555" stroke-width="0.8"/>
<text x="670.40" y="68.15" font-size="7.4" text-anchor="start" fill="#111" font-weight="bold">0.5</text>
<line x1="666.40" y1="80.56" x2="668.90" y2="80.56" stroke="#555" stroke-width="0.8"/>
<text x="670.40" y="83.16" font-size="7.4" text-anchor="start" fill="#111" font-weight="bold">0.4</text>
<line x1="666.40" y1="95.57" x2="668.90" y2="95.57" stroke="#555" stroke-width="0.8"/>
<text x="670.40" y="98.17" font-size="7.4" text-anchor="start" fill="#111" font-weight="bold">0.2</text>
<line x1="666.40" y1="110.59" x2="668.90" y2="110.59" stroke="#555" stroke-width="0.8"/>
<text x="670.40" y="113.19" font-size="7.4" text-anchor="start" fill="#111" font-weight="bold">0.1</text>
<line x1="666.40" y1="125.60" x2="668.90" y2="125.60" stroke="#555" stroke-width="0.8"/>
<text x="670.40" y="128.20" font-size="7.4" text-anchor="start" fill="#111" font-weight="bold">0.0</text>
<line x1="508.90" y1="125.60" x2="508.90" y2="127.80" stroke="#5a5a5a" stroke-width="0.9"/>
<text x="508.90" y="137.50" font-size="10" text-anchor="middle" fill="#111" font-weight="bold">0</text>
<line x1="526.55" y1="125.60" x2="526.55" y2="127.00" stroke="#5a5a5a" stroke-width="0.9"/>
<line x1="544.20" y1="125.60" x2="544.20" y2="127.80" stroke="#5a5a5a" stroke-width="0.9"/>
<text x="544.20" y="137.50" font-size="10" text-anchor="middle" fill="#111" font-weight="bold">4</text>
<line x1="561.85" y1="125.60" x2="561.85" y2="127.00" stroke="#5a5a5a" stroke-width="0.9"/>
<line x1="579.50" y1="125.60" x2="579.50" y2="127.80" stroke="#5a5a5a" stroke-width="0.9"/>
<text x="579.50" y="137.50" font-size="10" text-anchor="middle" fill="#111" font-weight="bold">8</text>
<line x1="597.15" y1="125.60" x2="597.15" y2="127.00" stroke="#5a5a5a" stroke-width="0.9"/>
<line x1="614.80" y1="125.60" x2="614.80" y2="127.80" stroke="#5a5a5a" stroke-width="0.9"/>
<text x="614.80" y="137.50" font-size="10" text-anchor="middle" fill="#111" font-weight="bold">12</text>
<line x1="632.45" y1="125.60" x2="632.45" y2="127.00" stroke="#5a5a5a" stroke-width="0.9"/>
<line x1="650.10" y1="125.60" x2="650.10" y2="127.80" stroke="#5a5a5a" stroke-width="0.9"/>
<text x="650.10" y="137.50" font-size="10" text-anchor="middle" fill="#111" font-weight="bold">16</text>
<line x1="508.90" y1="125.60" x2="506.70" y2="125.60" stroke="#3a3a3a" stroke-width="0.9"/>
<text x="504.90" y="129.30" font-size="10" text-anchor="end" fill="#111" font-weight="bold">1</text>
<line x1="508.90" y1="105.58" x2="507.50" y2="105.58" stroke="#3a3a3a" stroke-width="0.9"/>
<line x1="508.90" y1="85.57" x2="506.70" y2="85.57" stroke="#3a3a3a" stroke-width="0.9"/>
<text x="504.90" y="89.27" font-size="10" text-anchor="end" fill="#111" font-weight="bold">2</text>
<line x1="508.90" y1="65.55" x2="507.50" y2="65.55" stroke="#3a3a3a" stroke-width="0.9"/>
<line x1="508.90" y1="45.53" x2="506.70" y2="45.53" stroke="#3a3a3a" stroke-width="0.9"/>
<text x="504.90" y="49.23" font-size="10" text-anchor="end" fill="#111" font-weight="bold">3</text>
<line x1="508.90" y1="25.52" x2="507.50" y2="25.52" stroke="#3a3a3a" stroke-width="0.9"/>
<line x1="508.90" y1="5.50" x2="506.70" y2="5.50" stroke="#3a3a3a" stroke-width="0.9"/>
<text x="504.90" y="9.20" font-size="10" text-anchor="end" fill="#111" font-weight="bold">4</text>
<text x="578.50" y="147.60" font-size="10.9" text-anchor="middle" fill="#111" font-weight="bold">k (Å<tspan font-size="6.5" dy="-4">-1</tspan><tspan dy="4">)</tspan></text>
<text x="497.30" y="67.15" font-size="10.5" text-anchor="middle" fill="#111" font-weight="bold" transform="rotate(-90 497.3 67.14999999999999)">R (Å)</text>
<text x="601.30" y="17.00" font-size="8.8" text-anchor="start" fill="#fff" font-weight="bold">hcp-Ru<tspan font-size="5.81" dy="2.82">1</tspan><tspan dy="-2.82">Co</tspan></text>
<text x="569.60" y="84.30" font-size="9" text-anchor="start" fill="#fff" font-weight="bold">Ru-Co</text>
<clipPath id="clipg"><rect x="0" y="0" width="141.2" height="119.8"/></clipPath>
<g transform="translate(508.9 152.5)" clip-path="url(#clipg)">
<rect x="0" y="0" width="141.2" height="119.8" fill="#0d0ffd"/>
<path d="M15 -3l3 0l3 0l3 0l3 0l3 0l3-0.1l3 0l3 0l3 0l3 0l3-0.1l3 0l3 0l3 0l3 0l3 0l3 0l3 0l3 0l3 0l3 0.1l3 0l3 0l3 0l3 0l3 0l3 0.1l3 0l3 0l3 0l3 0l3 0l3 0l3 0l0.7 0l0.4 3l-0.1 3l-0.8 3l-0.2 0.3l-1.3 2.7l-1.7 2l-0.6 1l-2.4 2.3l-0.5 0.7l-2.5 2.3l-0.6 0.7l-2.4 2.4l-0.5 0.6l-2.5 3l-1.8 3l-1.1 3l-0.1 1.3l-0.1 1.7l0.1 0.3l1 2.7l2 2.1l1.1 0.9l1.9 0.9l3 1.1l3 0.8l1.2 0.2l1.8 0.2l3 0.2l3 0l3-0.2l1.7-0.2l1.3-0.2l3-0.8l3-1l2.6-1l0.4-0.2l3-1.6l2.5-1.2l0.5-0.4l3-1.9l0 2.3l0 3l0 3l0 3l0 3l0.1 3l0 3l0 3l0 3l0 3l0 3l0 3l0 3l0 3l0 3l0 3l0 3l0 3l-0.1 3l0 3l0 3l0 2.5l-3-0.1l-3 0l-3 0.1l-3 0l-3 0.1l-3 0.2l-1.8 0.2l-1.2 0.1l-3 0.4l-3 0.5l-3 0.5l-3 0.6l-3 0.5l-2.2 0.4l-0.8 0.2l-3 0.7l-3 0.7l-3 0.6l-3 0.7l-0.5 0.1l-2.5 0.8l-3 1l-3 0.9l-1 0.3l-2 1l-3 1.5l-1.1 0.5l-1.9 1.6l-1.9 1.4l-1.1 1.5l-1.3 1.5l-1.7 3l-1.6 3l-1.4 0l-3 0l-3 0l-3 0l-3 0l-3 0l-3 0l-3 0l-3 0l-3 0l-3 0l-3 0l-3 0l-3 0l-3 0l-3 0l-3 0l-3 0l-3 0l-3 0l-3 0l-3 0l-3 0l-3 0l0-3l0-3l0-3l-0.1-3l0-3l0-3l0-3l0-3l0-3l0-3l0-3l0-3l0-3l0-3l0-3l0-3l0-3l0-3l0.1-3l0-3l0-3l0-3l0-3l0-3l0-0.2l0.5 0.2l2.5 0.9l3 0.8l3 0.4l3-0.2l3-0.8l2-1.1l1-0.6l2.8-2.4l0.2-0.2l2.1-2.8l0.9-1.6l0.7-1.4l0.9-3l0.5-3l0.2-3l-0.1-3l-0.3-3l-0.4-3l-0.7-3l-0.7-3l-0.1-0.4l-0.8-2.6l-0.9-3l-0.9-3l-0.4-1.4l-0.6-1.6l-1-3l-0.9-3l-0.5-2.5l-0.2-0.5zM36 21l-0.1 0l0.1 0.7l1.5 2.3l1.5 0.1l0.1-0.1l0.2-3l-0.3-0.3zM72 40.7l-1.2 1.3l1.2 2.5l3-1.2l0.6-1.3l-0.6-0.8l-3-0.5" fill="#172af9"/>
<path d="M30 -3l3 0l3 0l3-0.1l3 0l3 0l3 0l3-0.1l3 0l3 0l3 0l3 0l3 0l3 0l3 0l3 0.1l3 0l3 0l3 0l3 0.1l3 0l3 0l3 0l2.7 0l0.3 1.3l0.5 1.7l0.5 3l0.1 3l-0.2 3l-0.7 3l-0.2 0.5l-0.8 2.5l-1.4 3l-0.8 1.5l-0.7 1.5l-1.4 3l-0.9 2.1l-0.4 0.9l-0.8 3l-0.3 3l0.4 3l1.1 2.1l0.6 0.9l2.4 2l1.4 1l1.6 0.7l3 1.2l3 0.9l0.6 0.2l2.4 0.5l3 0.6l3 0.4l3 0.5l3 0.4l3 0.4l2.6 0.2l0.4 0l3 0.1l1.1-0.1l1.9-0.2l3-0.4l3-0.4l3-0.3l3-0.4l0 1.7l0 3l0 3l0 3l0 3l0 3l0 3l0 3l0 3l0 3l0 3l0 3l0 3l0 3l0 3l0 0.4l-3 0.6l-3 0.4l-3 0.5l-3 0.4l-3 0.5l-0.8 0.2l-2.2 0.5l-3 0.8l-3 0.9l-2.8 0.8l-0.2 0.1l-3 0.8l-3 0.8l-3 0.7l-3 0.6l-0.1 0l-2.9 0.7l-3 0.6l-3 0.7l-3 0.5l-2.7 0.5l-0.3 0.1l-3 0.7l-3 0.7l-3 0.6l-3 0.6l-1.6 0.3l-1.4 0.4l-3 0.9l-3 0.8l-3 0.8l-0.5 0.1l-2.5 1l-3 1.1l-2.6 0.9l-0.4 0.2l-3 1.3l-3 1.2l-0.8 0.3l-2.2 1l-3 1.1l-2.9 0.9l-0.1 0l-3 1l-3 0.7l-3 0.6l-3 0.4l-2.8 0.3l-0.2 0l-3 0.2l-3 0.1l-3 0l-3-0.2l-1-0.1l-2-0.2l-3-0.4l-3-0.5l-3-0.7l-3-0.8l-1.3-0.4l-1.7-0.5l0-2.5l0-3l0-3l0-3l0-3l-0.1-3l0-3l0-3l0-3l0-3l0-3l0-3l0.1-3l0-3l0-3l0-3l0-3l0-2.5l3-0.3l2-0.2l1-0.1l3-0.4l3-0.6l3-1.2l0.9-0.7l2.1-1.5l1.7-1.5l1.3-1.1l2.2-1.9l0.8-0.8l2.3-2.2l0.7-0.8l2-2.2l1-1.6l0.9-1.4l1.2-3l0.7-3l0.2-2l0.1-1l0.2-3l0.9-3l1.8-1.3l3-0.1l3-0.7l1.1-0.9l1.9-2l0.5-1l-0.1-3l-0.4-0.8l-2.1-2.2l-0.9-0.7l-3-0.6l-3 0.5l-3-0.2l-1.4-2l-0.9-3l-0.4-3l-0.1-3l0-3l0.2-3l0.4-3zM72 38.4l-0.9 0.6l-2.1 2.4l-0.3 0.6l0.3 1.1l0.8 1.9l2.2 1.2l3-0.3l1.5-0.9l1.4-3l-1.9-3l-1-0.5z" fill="#2754f4"/>
<path d="M36 -3l3 0l3 0l3-0.1l3 0l3 0l3 0l3-0.1l3 0l3 0l3 0l3 0.1l3 0l3 0l3 0l3 0l3 0.1l3 0l2.5 0l0.5 1.9l0.3 1.1l0.7 3l0.4 3l0 3l-0.3 3l-0.6 3l-0.5 1.6l-0.4 1.4l-1 3l-1.2 3l-0.4 1.1l-0.7 1.9l-0.9 3l-0.6 3l-0.2 3l0.6 3l1.8 1.6l1.3 1.4l1.7 0.9l3 1.6l1.1 0.5l1.9 0.6l3 0.9l3 0.8l2.6 0.7l0.4 0.1l3 0.6l3 0.6l3 0.7l3 0.8l0.8 0.2l2.2 0.7l3 1.1l2.8 1.2l0.2 0.1l3 1.3l3 0.4l3 0.3l3 0.5l2.2 0.4l0.8 0.2l3 1l0 1.8l0 3l0 3l0 3l0 3l0 3l0 3l0 0.4l-3 1.7l-1.7 0.9l-1.3 0.6l-3 1.2l-2.9 1.2l-0.1 0l-3 1.1l-2.6 1.9l-0.4 0.2l-3 2.1l-1 0.7l-2 1.1l-3 1.4l-1.2 0.5l-1.8 0.7l-3 1.1l-3 0.8l-1.4 0.4l-1.6 0.5l-3 0.7l-3 0.7l-3 0.6l-2.8 0.5l-0.2 0l-3 0.7l-3 0.5l-3 0.6l-3 0.4l-3 0.5l-2.5 0.3l-0.5 0.1l-3 0.6l-3 0.5l-3 0.5l-3 0.5l-3 0.4l-2.7 0.4l-0.3 0.1l-3 0.6l-3 0.6l-3 0.6l-3 0.5l-3 0.5l-0.7 0.1l-2.3 0.5l-3 0.5l-3 0.4l-3 0.4l-3 0.2l-3 0.1l-3 0l-3-0.1l-3-0.3l-3-0.5l-3-0.6l-2.5-0.6l-0.5-0.1l-3-0.9l-3-1.2l-1.8-0.8l-1.2-0.6l0-2.4l0-3l0-3l0-3l0-3l0-3l0-3l0-3l0-3l0-2.5l0.8-0.5l2.2-1.1l3-1.3l1.5-0.6l1.5-0.6l3-1.1l2.1-1.3l0.9-0.5l2.2-2.5l0.8-0.8l1.8-2.2l1.2-1.3l1.6-1.7l1.4-1.3l1.9-1.7l1.1-1l2.4-2l0.6-0.5l3-2.5l3-2.8l0.2-0.2l2.4-3l0.4-0.9l0.9-2.1l0.5-3l0.3-3l1-3l0.3-0.3l2.3-2.7l0.7-0.5l1.6-2.5l1-3l-0.2-3l-1.4-3l-1-1.3l-2.3-1.7l-0.7-0.7l-3-1.9l-0.5-0.4l-1.4-3l-0.1-3l0.2-3l0.4-3l0.7-3zM69 38.3l-0.7 0.7l-1.4 3l0.8 3l1.3 1.2l3 1.3l3-0.2l3-1.6l1.2-0.7l1.6-3l-0.3-3l-2.5-1.8l-3-0.8l-3 0.3z" fill="#3d7ef2"/>
<path d="M42 -3l3 0l3-0.1l3 0l3 0l3 0l3 0l3 0l3 0l3 0l3 0l3 0l3 0.1l3 0l2.4 0l0.6 2.4l0.2 0.6l0.6 3l0.4 3l0 3l-0.2 3l-0.5 3l-0.5 2l-0.2 1l-1 3l-1.2 3l-0.6 1.6l-0.6 1.4l-1.3 3l-1.1 1.6l-1.6 1.4l-1.4 0.4l-3 0.8l-3 1.7l-0.1 0.1l-2.9 2.8l-0.2 0.2l-1.2 3l1 3l0.4 0.3l3 2.5l0.4 0.2l2.6 0.7l3-0.1l2.1-0.6l0.9-0.4l3-1.6l3-0.6l3 0.6l3 0.9l3 0.9l0.6 0.2l2.4 0.5l3 0.7l3 0.7l3 0.7l1.7 0.4l1.3 0.3l3 0.8l3 0.9l2.6 1l0.4 0.2l3 1.6l1.8 1.2l1.2 1.2l1.8 1.8l1.2 2.4l0.5 0.6l1.2 3l0.4 3l-0.1 3l-0.7 3l-1.2 3l-0.1 0.2l-1.2 2.8l-1.8 2.6l-0.3 0.4l-2.7 2.8l-0.2 0.2l-2.8 2.1l-1.4 0.9l-1.6 0.8l-3 1.4l-2.2 0.8l-0.8 0.3l-3 1l-3 0.8l-3 0.7l-0.8 0.2l-2.2 0.5l-3 0.7l-3 0.5l-3 0.5l-3 0.5l-2.6 0.3l-0.4 0.1l-3 0.4l-3 0.5l-3 0.3l-3 0.4l-3 0.3l-3 0.3l-3 0.3l-3 0.2l-2.2 0.2l-0.8 0.1l-3 0.3l-3 0.3l-3 0.3l-3 0.3l-3 0.2l-3 0.2l-3 0.2l-3 0.1l-3 0l-3-0.2l-3-0.2l-3-0.4l-3-0.7l-1.8-0.5l-1.2-0.3l-3-0.9l-3-1.2l-1.3-0.6l-1.7-1.1l-2.4-1.9l-0.6-0.9l-1.3-2.1l-0.5-3l0.8-3l1-1.7l0.9-1.3l2.1-2.1l1.1-0.9l1.9-1.3l2.8-1.7l0.2-0.1l3-2.2l0.4-0.7l2.2-3l0.4-0.5l1.5-2.5l1.5-2.1l0.6-0.9l2.4-2.9l0.1-0.1l2.9-3l3-2.6l0.6-0.4l2.4-1.8l1.9-1.2l1.1-0.8l3-1.9l0.6-0.3l2.4-1.7l2.2-1.3l0.8-0.8l2.5-2.2l0.5-0.9l1.1-2.1l0.1-3l-0.6-3l-0.3-3l0.5-3l0.7-3l0.3-3l-0.3-3l-1.2-3l-0.3-0.5l-1.7-2.5l-1.3-1.9l-1.1-1.1l-1.4-3l-0.2-3l0.1-3l0.5-3l0.6-3z" fill="#53a6f3"/>
<path d="M45 -3l3 0l3-0.1l3 0l3 0l3 0l3 0l3 0l3 0l3 0l3 0.1l3 0l0.7 0l0.8 3l0.5 3l0.3 3l0 3l-0.3 3l-0.5 3l-0.9 3l-0.6 1.6l-0.6 1.4l-1.4 3l-1 1.9l-0.7 1.1l-2.3 2.9l-0.1 0.1l-2.9 2l-1.4 1l-1.6 1l-2.8 2l-0.2 0.2l-3 1.4l-3-1.1l-0.5-0.5l-2.5-1.9l-0.8-1.1l-2.2-3l-0.9-3l-0.6-3l-0.7-3l-0.8-1.9l-0.4-1.1l-1.4-3l-1.2-2.5l-0.3-0.5l-0.9-3l-0.3-3l0.2-3l0.4-3l0.7-3zM60 44.4l0.5 0.6l2.5 0.9l3 2.1l3 1.2l3 0.6l3 0l3-0.6l3-0.7l3-0.1l3 0.4l3 0.6l3 0.7l3 0.6l1.1 0.3l1.9 0.4l3 0.6l3 0.7l3 0.9l1.4 0.4l1.6 0.5l3 1.3l2.3 1.2l0.7 0.5l2.8 2.5l0.2 0.2l1.9 2.8l0.9 3l0.2 1.2l0.3 1.8l0 3l-0.3 1.9l-0.1 1.1l-0.8 3l-1.3 3l-0.8 1.1l-1.3 1.9l-1.7 1.7l-1.5 1.3l-1.5 1.1l-3 1.7l-0.4 0.2l-2.6 1.2l-3 1.1l-2.1 0.7l-0.9 0.3l-3 0.9l-3 0.7l-3 0.6l-2.9 0.5l-0.1 0l-3 0.6l-3 0.5l-3 0.4l-3 0.4l-3 0.3l-3 0.3l-3 0.2l-3 0.2l-1 0.1l-2 0.2l-3 0.2l-3 0.2l-3 0.2l-3 0.2l-3 0.1l-3 0.1l-3 0.1l-3 0.1l-3 0l-3 0l-3-0.1l-3-0.3l-3-0.4l-3-0.6l-3-0.9l-3-1.3l-1.4-0.8l-1.6-1.4l-2-1.6l-1-2.1l-0.4-0.9l0.4-2l0.2-1l1.8-3l1-1.1l1-1.9l1.8-3l0.2-0.3l1.4-2.7l1.6-2.9l0-0.1l1.7-3l1.3-1.9l0.8-1.1l2.2-2.6l0.4-0.4l2.6-2.5l0.7-0.5l2.3-1.8l1.9-1.2l1.1-0.7l3-1.7l1.3-0.6l1.7-1l3-1.4l1.7-0.6l1.3-0.7l3-1.4l2.6-0.9l0.4-0.3l3-1.5l3-1.1l0.8-0.1z" fill="#6acbf9"/>
<path d="M51 -3l3 0l3-0.1l3 0l3 0l3 0l3 0.1l3 0l2.5 0l0.5 1.7l0.3 1.3l0.5 3l0.2 3l-0.1 3l-0.4 3l-0.5 1.9l-0.3 1.1l-1.2 3l-1.5 2.8l-0.1 0.2l-2.4 3l-0.5 0.5l-3 2.3l-0.6 0.2l-2.4 0.9l-3 0l-2.2-0.9l-0.8-0.3l-3-2.6l-0.1-0.1l-1.6-3l-1.3-2.3l-0.3-0.7l-1.2-3l-1.2-3l-0.3-1.4l-0.4-1.6l-0.2-3l0.1-3l0.4-3l0.1-0.4l0.6-2.6zM54 50.3l3-0.8l3-0.4l3 0.1l3 0.6l3 0.8l3 0.3l3 0l3-0.3l3-0.2l3 0.1l3 0.5l0.2 0l2.8 0.4l3 0.5l3 0.6l3 0.6l3 0.8l0.4 0.1l2.6 0.7l3 0.9l3 1.2l0.3 0.2l2.7 1.5l2 1.5l1 1.2l1.4 1.8l1.3 3l0.3 1.9l0.2 1.1l0.1 3l-0.3 2.2l-0.1 0.8l-0.8 3l-1.4 3l-0.7 1l-1.6 2l-1.4 1.3l-2.1 1.7l-0.9 0.6l-3 1.6l-1.7 0.8l-1.3 0.6l-3 1.1l-3 0.9l-1.7 0.4l-1.3 0.3l-3 0.8l-3 0.6l-3 0.5l-3 0.4l-3 0.4l-0.3 0l-2.7 0.4l-3 0.3l-3 0.3l-3 0.3l-3 0.2l-3 0.1l-3 0.2l-3 0.1l-3 0.1l-3 0l-3 0.1l-3 0l-3 0l-3-0.1l-3-0.1l-3-0.2l-3-0.2l-3-0.5l-3-0.7l-0.8-0.3l-2.2-0.8l-3-1.9l-0.4-0.3l-2.1-3l-0.4-3l0.5-3l1-3l1.3-3l0.1-0.1l1.2-2.9l1.5-3l0.3-0.5l1.4-2.5l1.6-2.3l0.5-0.7l2.5-2.7l0.3-0.3l2.7-2.2l1.1-0.8l1.9-1.3l3-1.7l0.1 0l2.9-1.5l3-1.2l0.8-0.3l2.2-0.9l3-1.1l3-0.8l0.9-0.2z" fill="#80f0fe"/>
<path d="M54 -3l3 0l3 0l3 0l3 0l3 0l1.3 0l0.9 3l0.5 3l0.2 3l-0.4 3l-0.7 3l-1.3 3l-0.5 0.8l-1.9 2.2l-1.1 1.1l-3 1.4l-3-0.1l-3-1.5l-0.8-0.9l-2.2-2.7l-0.2-0.3l-1.2-3l-0.9-3l-0.3-3l0-3l0.4-3l0.9-3zM51 53.3l3-0.7l3-0.6l3-0.4l3-0.2l3 0.1l3 0.4l3 0.2l3 0l3-0.1l3-0.1l3 0.2l3 0.4l3 0.5l3 0.6l2.1 0.4l0.9 0.2l3 0.6l3 0.7l3 0.9l1.5 0.6l1.5 0.6l3 1.5l1.3 0.9l1.7 1.5l1.4 1.5l1.5 3l0.1 0.4l0.6 2.6l0.1 3l-0.3 3l-0.4 1.4l-0.4 1.6l-1.6 3l-1 1.3l-1.5 1.7l-1.5 1.3l-2.5 1.7l-0.5 0.3l-3 1.6l-2.8 1.1l-0.2 0.1l-3 1l-3 0.9l-3 0.7l-1.6 0.3l-1.4 0.3l-3 0.6l-3 0.5l-3 0.4l-3 0.3l-3 0.3l-3 0.3l-3 0.1l-2.9 0.2l-0.1 0l-3 0.2l-3 0.1l-3 0.1l-3 0l-3 0l-3 0l-3-0.1l-3-0.1l-3-0.2l-0.5 0l-2.5-0.2l-3-0.3l-3-0.5l-3-0.7l-3-1.1l-0.3-0.2l-2.7-2l-1-1l-1.2-3l0-3l0.6-3l1.1-3l0.5-1.2l0.7-1.8l1.3-3l1-1.7l0.7-1.3l2.3-2.9l0-0.1l3-2.9l0.1-0.1l2.9-2.2l1.4-0.8l1.6-1l3-1.5l1.3-0.5l1.7-0.8l3-1.1l3-0.9l0.9-0.2z" fill="#80f4e5"/>
<path d="M60 -3l3 0l0.7 0l2.3 3l0.6 3l0 3l-0.6 2.4l-0.3 0.6l-2.7 3l-3-0.1l-2.6-2.9l-0.4-0.8l-0.6-2.2l0-3l0.5-3l0.1-0.2l2.2-2.8zM57 53.8l3-0.5l3-0.2l3-0.1l3 0.1l3 0.2l3 0l3 0l3 0.1l3 0.2l2.5 0.4l0.5 0.1l3 0.4l3 0.5l3 0.5l3 0.8l2.6 0.7l0.4 0.1l3 1.1l3 1.4l0.8 0.4l2.2 1.6l1.5 1.4l1.5 2.3l0.4 0.7l0.9 3l0.1 3l-0.3 3l-0.9 3l-0.2 0.4l-1.4 2.6l-1.6 1.8l-1.2 1.2l-1.8 1.4l-2.6 1.6l-0.4 0.2l-3 1.4l-3 1.1l-0.8 0.3l-2.2 0.7l-3 0.8l-3 0.6l-3 0.6l-2 0.3l-1 0.2l-3 0.4l-3 0.4l-3 0.3l-3 0.2l-3 0.2l-3 0.2l-3 0.1l-3 0.1l-3 0l-3 0l-3-0.1l-3 0l-3-0.2l-3-0.1l-3-0.3l-3-0.3l-3-0.6l-2.3-0.5l-0.7-0.2l-3-1.1l-2.7-1.7l-0.3-0.3l-1.9-2.7l-0.5-3l0.3-3l0.9-3l1.1-3l0.1-0.2l1.2-2.8l1.8-3l2.4-3l0.6-0.6l2.8-2.4l0.2-0.2l3-1.9l1.6-0.9l1.4-0.7l3-1.4l2.6-0.9l0.4-0.1l3-1.1l3-0.8l3-0.6l2.3-0.4z" fill="#80f7cc"/>
<path d="M51 56.5l3-0.7l3-0.6l3-0.4l3-0.3l3-0.1l3 0l3 0l3 0l3 0.1l3 0.1l3 0.3l3 0.4l3 0.4l3 0.6l3 0.6l0.3 0.1l2.7 0.7l3 0.9l3 1.3l0.3 0.1l2.7 1.7l1.7 1.3l1.3 1.6l1 1.4l1 3l0.3 3l-0.3 3l-0.9 3l-1.1 1.8l-0.8 1.2l-2.2 2.3l-0.8 0.7l-2.2 1.5l-2.7 1.5l-0.3 0.1l-3 1.3l-3 1l-2 0.6l-1 0.3l-3 0.7l-3 0.6l-3 0.5l-3 0.4l-3 0.4l-1.3 0.1l-1.7 0.2l-3 0.2l-3 0.2l-3 0.2l-3 0.1l-3 0l-3 0l-3 0l-3-0.1l-3-0.2l-3-0.2l-3-0.2l-1.3-0.2l-1.7-0.2l-3-0.5l-3-0.7l-3-1l-1.2-0.6l-1.8-1.3l-1.7-1.7l-1.1-3l0.1-3l0.7-3l1-3l1-2.4l0.3-0.6l1.8-3l0.9-1.1l1.7-1.9l1.3-1.2l2.4-1.8l0.6-0.4l3-1.7l1.9-0.9l1.1-0.5l3-1.2l3-0.9l1.4-0.4z" fill="#6df49f"/>
<path d="M57 56.6l3-0.5l3-0.4l3-0.2l3 0l3 0l3 0l3 0.1l3 0.2l3 0.3l3 0.4l3 0.5l0.1 0l2.9 0.5l3 0.7l3 0.9l2.6 0.9l0.4 0.2l3 1.5l2 1.3l1 1l1.7 2l1.2 3l0.1 1.3l0.2 1.7l-0.2 1.9l-0.1 1.1l-1 3l-1.9 3l-3 2.8l-0.3 0.2l-2.7 1.6l-2.8 1.4l-0.2 0.1l-3 1.1l-3 1l-3 0.7l-0.4 0.1l-2.6 0.6l-3 0.5l-3 0.5l-3 0.3l-3 0.3l-3 0.2l-3 0.2l-3 0.1l-3 0.1l-3 0l-3 0l-3-0.1l-3-0.1l-3-0.2l-3-0.3l-3-0.3l-3-0.5l-3-0.6l-2.3-0.7l-0.7-0.3l-3-1.6l-1.4-1.1l-1.6-2.6l-0.2-0.4l-0.3-3l0.5-2.6l0.1-0.4l0.9-3l1.3-3l0.7-1.2l1.2-1.8l1.8-2.1l0.9-0.9l2.1-1.6l2-1.4l1-0.6l3-1.5l2.3-0.9l0.7-0.3l3-1l3-0.9l3-0.6l0.9-0.2z" fill="#55f06e"/>
<path d="M63 57l3-0.3l3-0.1l3 0l3 0l3 0.1l3 0.2l0.6 0.1l2.4 0.2l3 0.4l3 0.5l3 0.6l3 0.8l1.7 0.5l1.3 0.5l3 1.3l2.2 1.2l0.8 0.7l2.3 2.3l0.7 1.3l0.8 1.7l0.4 3l-0.3 3l-0.9 2.7l-0.1 0.3l-2.1 3l-0.8 0.8l-2.8 2.2l-0.2 0.1l-3 1.6l-2.9 1.3l-0.1 0l-3 1l-3 0.9l-3 0.6l-2.5 0.5l-0.5 0.1l-3 0.5l-3 0.4l-3 0.3l-3 0.2l-3 0.2l-3 0.1l-3 0l-3 0l-3 0l-3-0.1l-3-0.2l-3-0.2l-3-0.4l-3-0.4l-2.4-0.5l-0.6-0.1l-3-0.9l-3-1.4l-1-0.6l-2-2.1l-0.6-0.9l-0.6-3l0.3-3l0.9-3l0-0.1l1.2-2.9l1.8-2.7l0.2-0.3l2.8-2.8l0.2-0.2l2.8-2l1.7-1l1.3-0.7l3-1.3l2.9-1l0.1 0l3-1l3-0.7l3-0.6l3-0.4l2.7-0.3z" fill="#3aed35"/>
<path d="M54 59.4l3-0.6l3-0.5l3-0.3l3-0.3l3-0.1l3 0l3 0l3 0.1l3 0.2l3 0.4l3 0.4l3 0.5l3 0.7l0.5 0.1l2.5 0.8l3 1.1l2.3 1.1l0.7 0.5l3 2.5l1.7 3l0.5 3l-0.3 3l-1 3l-0.9 1.2l-1.4 1.8l-1.6 1.4l-2.3 1.6l-0.7 0.4l-3 1.4l-3 1.1l-0.2 0.1l-2.8 0.8l-3 0.8l-3 0.6l-3 0.4l-2.8 0.4l-0.2 0l-3 0.3l-3 0.3l-3 0.2l-3 0.1l-3 0l-3 0l-3-0.1l-3-0.2l-3-0.2l-3-0.3l-0.8-0.1l-2.2-0.3l-3-0.6l-3-0.8l-3-1.1l-0.4-0.2l-2.6-2l-0.9-1l-1.1-3l0.2-3l0.7-3l1.1-2.6l0.2-0.4l2-3l0.8-0.8l2.4-2.2l0.6-0.4l3-1.9l1.4-0.7l1.6-0.7l3-1.2l3-0.9l0.9-0.2z" fill="#38ed1b"/>
<path d="M57 59.9l3-0.5l3-0.4l3-0.3l3-0.1l3-0.1l3 0.1l3 0.1l3 0.2l3 0.4l3 0.4l1.4 0.3l1.6 0.3l3 0.8l3 1l2.3 0.9l0.7 0.4l3 2.1l0.6 0.5l2 3l0.4 2.1l0.2 0.9l-0.2 2.4l0 0.6l-1.1 3l-1.9 2.4l-0.5 0.6l-2.5 1.8l-1.9 1.2l-1.1 0.5l-3 1.3l-3 1l-0.8 0.2l-2.2 0.6l-3 0.6l-3 0.5l-3 0.4l-3 0.4l-3 0.2l-3 0.1l-3 0.1l-3 0.1l-3-0.1l-3-0.1l-3-0.2l-3-0.3l-3-0.3l-3-0.5l-3-0.7l-2.4-0.8l-0.6-0.3l-3-1.7l-1.2-1l-1.6-3l0-3l0.7-3l1.2-3l0.9-1.3l1.2-1.7l1.8-1.6l1.7-1.4l1.3-0.8l3-1.6l1.3-0.6l1.7-0.7l3-1l3-0.8l2.5-0.5z" fill="#4fee1f"/>
<path d="M63 60l3-0.3l3-0.2l3 0l3 0l3 0.2l3 0.2l0.6 0.1l2.4 0.3l3 0.5l3 0.6l3 0.9l2.1 0.7l0.9 0.4l3 1.7l1.2 0.9l1.8 2.3l0.5 0.7l0.7 3l-0.2 3l-1 2.6l-0.2 0.4l-2.6 3l-0.2 0.2l-3 1.9l-1.6 0.9l-1.4 0.6l-3 1.1l-3 0.9l-1.8 0.4l-1.2 0.3l-3 0.5l-3 0.4l-3 0.4l-3 0.2l-3 0.2l-3 0.1l-3 0l-3-0.1l-3-0.1l-3-0.3l-3-0.3l-3-0.5l-3-0.6l-0.9-0.2l-2.1-0.7l-3-1.4l-1.3-0.9l-1.7-2.2l-0.4-0.8l-0.3-3l0.5-3l0.2-0.4l1.1-2.6l1.9-2.6l0.3-0.4l2.7-2.2l1.1-0.8l1.9-1.1l3-1.4l1.4-0.5l1.6-0.6l3-0.8l3-0.7l3-0.5l3-0.4z" fill="#69f024"/>
<path d="M54 62.6l3-0.7l3-0.5l3-0.4l3-0.3l3-0.2l3-0.1l3 0.1l3 0.1l3 0.3l3 0.4l3 0.6l3 0.7l1.5 0.4l1.5 0.6l3 1.4l1.7 1l1.3 1.4l1.3 1.6l0.8 3l-0.1 3l-1.2 3l-0.8 0.9l-2 2.1l-1 0.6l-3 1.7l-1.4 0.7l-1.6 0.6l-3 0.9l-3 0.8l-3 0.6l-0.6 0.1l-2.4 0.4l-3 0.3l-3 0.3l-3 0.1l-3 0.1l-3 0l-3-0.1l-3-0.2l-3-0.3l-3-0.4l-1.3-0.2l-1.7-0.3l-3-0.9l-3-1.2l-1.2-0.6l-1.8-1.7l-1.1-1.3l-0.5-3l0.5-3l1.1-2.8l0.1-0.2l2.3-3l0.6-0.5l3-2.2l0.5-0.3l2.5-1.2l3-1.2l1.8-0.6z" fill="#98f030"/>
<path d="M57 62.9l3-0.6l3-0.4l3-0.3l3-0.2l3 0l3 0l3 0.2l3 0.3l3 0.4l3 0.6l0.4 0.1l2.6 0.8l3 1.2l2 1l1 0.9l2.1 2.1l0.9 2.7l0.1 0.3l-0.1 1.7l-0.1 1.3l-1.3 3l-1.6 1.7l-1.4 1.3l-1.6 0.9l-3 1.5l-1.4 0.6l-1.6 0.5l-3 0.8l-3 0.6l-3 0.5l-3 0.4l-2 0.2l-1 0.1l-3 0.1l-3 0.1l-3 0l-3-0.1l-2.3-0.2l-0.7-0.1l-3-0.3l-3-0.5l-3-0.8l-3-0.9l-0.9-0.4l-2.1-1.5l-1.5-1.5l-1-3l0.4-3l1.2-3l0.9-1.1l1.6-1.9l1.4-1l3-1.9l0.1-0.1l2.9-1.2l3-1l2.7-0.8z" fill="#c3f039"/>
<path d="M63 62.9l3-0.4l3-0.1l3-0.1l3 0.1l3 0.1l3 0.4l0.9 0.1l2.1 0.4l3 0.7l3 1l2.1 0.9l0.9 0.6l2.8 2.4l0.2 0.6l0.9 2.4l-0.1 3l-0.8 1.8l-0.5 1.2l-2.5 2.3l-0.9 0.7l-2.1 1.1l-3 1.2l-1.9 0.7l-1.1 0.3l-3 0.7l-3 0.5l-3 0.4l-3 0.3l-3 0.1l-3 0.1l-3-0.1l-3-0.1l-3-0.3l-3-0.4l-3-0.6l-3-0.9l-0.1 0l-2.9-1.6l-1.9-1.4l-1.1-2.5l-0.2-0.5l0.2-2.3l0.1-0.7l1.2-3l1.7-2l0.9-1l2.1-1.4l2.9-1.6l0.1 0l3-1.1l3-0.9l3-0.6l2.1-0.4z" fill="#e7f03f"/>
<path d="M57 65.1l3-0.7l3-0.5l3-0.4l3-0.2l3-0.1l3 0.1l3 0.3l3 0.4l3 0.6l3 0.8l1.8 0.6l1.2 0.7l3 2.1l0.3 0.2l1.4 3l-0.1 3l-1.4 3l-0.2 0.1l-3 2.5l-0.6 0.4l-2.4 1.1l-3 1l-3 0.9l-3 0.6l-3 0.4l-3 0.2l-3 0.2l-3 0l-3 0l-3-0.2l-3-0.4l-3-0.5l-1.6-0.3l-1.4-0.5l-3-1.3l-2-1.2l-1-1.5l-0.8-1.5l0.1-3l0.7-1.8l0.5-1.2l2.5-2.7l0.4-0.3l2.6-1.5l3-1.5l0.1 0z" fill="#f0cf40"/>
<path d="M60 65.5l3-0.6l3-0.3l3-0.2l3-0.1l3 0.1l3 0.3l3 0.4l3 0.6l0.9 0.3l2.1 0.9l3 1.7l0.6 0.4l1.7 3l-0.1 3l-1.5 3l-0.7 0.6l-3 2.1l-0.6 0.3l-2.4 0.9l-3 0.9l-3 0.7l-2.8 0.5l-0.2 0l-3 0.3l-3 0.2l-3 0l-3-0.1l-3-0.2l-1.3-0.2l-1.7-0.3l-3-0.7l-3-1.1l-1.9-0.9l-1.1-1.3l-1.2-1.7l-0.1-3l1.2-3l0.1-0.1l3-2.9l3-1.5l3-1.2l0.9-0.3z" fill="#f4a838"/>
<path d="M63 66l3-0.4l3-0.2l3-0.1l3 0.2l3 0.2l1.7 0.3l1.3 0.3l3 1l3 1.4l0.6 0.3l2.1 3l0 3l-1.7 3l-1 0.7l-3 1.8l-1 0.5l-2 0.6l-3 0.7l-3 0.6l-3 0.3l-3 0.2l-3 0l-3-0.2l-3-0.3l-3-0.6l-3-0.9l-1.2-0.4l-1.8-1.5l-1.4-1.5l-0.3-3l1.2-3l0.5-0.5l2.9-2.5l0.1 0l3-1.3l3-1l3-0.7z" fill="#f9832d"/>
<path d="M60 68.2l3-0.8l3-0.5l3-0.3l3-0.1l3 0.2l3 0.5l3 0.7l3 1.1l0.1 0l2.8 3l0 3l-2 3l-0.9 0.6l-3 1.4l-2.4 1l-0.6 0.1l-3 0.6l-3 0.3l-3 0.2l-3 0l-3-0.2l-3-0.4l-2.6-0.6l-0.4-0.2l-3-1.8l-1.2-1l-0.6-3l1.2-3l0.6-0.5l3-2.2l0.5-0.3z" fill="#fe5d23"/>
<path d="M63 68.8l3-0.5l3-0.3l3 0l3 0.2l3 0.5l1.2 0.3l1.8 1l2.4 2l0.2 3l-2.3 3l-0.3 0.1l-3 1.2l-3 0.9l-3 0.5l-3 0.3l-3-0.1l-3-0.4l-3-0.8l-3-1.4l-0.5-0.3l-1-3l1.2-3l0.3-0.2l3-1.8l2.2-1z" fill="#ff411b"/>
<path d="M63 71.2l3-0.9l3-0.5l3 0l3 0.5l3 1.1l0.9 0.6l0.5 3l-1.4 1.4l-2.1 1.6l-0.9 0.3l-3 0.5l-3 0.2l-3-0.2l-3-0.5l-1-0.3l-2-2.4l-0.3-0.6l0.3-0.7l1.3-2.3z" fill="#ff2b14"/>
<path d="M85.6 -3l0.8 3l0.6 3l0.4 3l0.1 3l-0.2 3l-0.3 1.5l-0.2 1.5l-0.8 3l-1 3l-1 2.7l-0.1 0.3l-1.1 3l-1.1 3l-0.7 1.9l-0.6 1.1l-2.4 1.4l-3 0.3l-3 0.6l-1.2 0.7l-1.8 0.9l-2.1 2.1l-0.9 2.5l-0.2 0.5l0.2 0.6l0.5 2.4l2.5 2.2l2.1 0.8l0.9 0.2l3-0.1l0.4-0.1l2.6-1.2l3-1.8l3-1.5l3 0.9l1.1 0.6l1.9 0.6l3 0.9l3 1l1.8 0.5l1.2 0.3l3 0.6l3 0.7l3 0.7l2.8 0.7l0.2 0.1l3 0.7l3 1l2.8 1.2l0.2 0.1l3 1.8l1.6 1.1l1.4 1.5l1.8 1.5l1.2 1.9l2.3 1.1l0.7 0.7l2.9 2.3l0.1 0.4l0.9 2.6l-0.9 2.8l-0.1 0.2l-2.5 3l-0.4 0.3l-3 2.6l0 0.1l-1.7 3l-1.3 1.4l-1 1.6l-2 2l-1 1l-2 1.5l-2.2 1.5l-0.8 0.5l-3 1.5l-2.6 1l-0.4 0.2l-3 1l-3 0.9l-3 0.8l-0.5 0.1l-2.5 0.6l-3 0.7l-3 0.6l-3 0.5l-3 0.5l-0.7 0.1l-2.3 0.4l-3 0.5l-3 0.5l-3 0.4l-3 0.4l-3 0.3l-3 0.4l-1.5 0.1l-1.5 0.2l-3 0.5l-3 0.4l-3 0.3l-3 0.4l-3 0.3l-3 0.4l-3 0.3l-2.4 0.2l-0.6 0.1l-3 0.3l-3 0.3l-3 0.2l-3 0.1l-3 0l-3-0.2l-3-0.3l-3-0.5l-0.1 0l-2.9-0.6l-3-0.7l-3-0.9l-2.1-0.8l-0.9-0.4l-3-1.7l-1.3-0.9l-1.7-1.6M-3 83.1l2-2.1l1-0.8l3-2.1l0.2-0.1l2.8-1.6l2.9-1.4l0.1 0l3-2.1l0.6-0.9l2.4-3l2-3l1-1.1l1.5-1.9l1.5-1.6l1.4-1.4l1.6-1.5l1.8-1.5l1.2-1l2.7-2l0.3-0.2l3-2.2l0.9-0.6l2.1-1.7l1.9-1.3l1.1-1.2l1.8-1.8l1.2-2.6l0.2-0.4l0.3-3l-0.1-3l0.4-3l1.2-3l1-2.1l0.3-0.9l0.6-3l-0.3-3l-0.6-1.5l-0.6-1.5l-2.3-3l-0.1-0.1l-2.9-2.9l-0.1-0.3l-1.5-2.7l-0.2-3l0.2-3l0.4-3l0.7-3" fill="none" stroke="#505050" stroke-opacity="0.4" stroke-width="0.5"/>
<path d="M69.4 -3l0.9 3l0.5 3l0.1 3l-0.3 3l-0.9 3l-0.7 1.6l-0.9 1.4l-2.1 2.4l-1 0.6l-2 1l-3-0.1l-1.8-0.9l-1.2-0.7l-1.8-2.3l-1.2-1.9l-0.5-1.1l-0.8-3l-0.4-3l0-3l0.4-3l0.9-3M51 53.7l3-0.7l3-0.6l3-0.5l3-0.2l3 0.1l3 0.3l3 0.2l3 0.1l3-0.2l3 0l3 0.2l3 0.4l3 0.5l3 0.6l0.6 0.1l2.4 0.4l3 0.7l3 0.7l3 1l0.6 0.2l2.4 1l3 1.6l0.6 0.4l2.4 2.1l0.8 0.9l1.6 3l0.6 2.5l0.1 0.5l0.1 3l-0.2 2.2l-0.1 0.8l-0.8 3l-1.6 3l-0.5 0.6l-2 2.4l-1 0.8l-3 2.1l-0.1 0.1l-2.9 1.5l-3 1.3l-0.6 0.2l-2.4 0.8l-3 0.9l-3 0.7l-2.8 0.6l-0.2 0.1l-3 0.5l-3 0.5l-3 0.5l-3 0.3l-3 0.3l-3 0.2l-3 0.2l-3 0.2l-3 0.1l-3 0.1l-0.9 0l-2.1 0l-3 0.1l-3 0l-3-0.1l-1.5 0l-1.5 0l-3-0.1l-3-0.2l-3-0.2l-3-0.4l-3-0.5l-3-0.8l-2-0.8l-1-0.5l-3-2.4l-0.1-0.1l-1.4-3l-0.1-3l0.6-3l1-3l1.1-3l1.4-3l0.5-0.9l1.2-2.1l1.8-2.4l0.5-0.6l2.5-2.4l0.7-0.6l2.3-1.8l2-1.2l1-0.6l3-1.5l2.1-0.9l0.9-0.4l3-1.1l3-1l2.2-0.5z" fill="none" stroke="#505050" stroke-opacity="0.4" stroke-width="0.5"/>
<path d="M54 59.4l3-0.6l3-0.5l3-0.3l3-0.3l3-0.1l3 0l3 0l3 0.1l3 0.2l3 0.4l3 0.4l3 0.5l3 0.7l0.5 0.1l2.5 0.8l3 1.1l2.3 1.1l0.7 0.5l3 2.5l1.7 3l0.5 3l-0.3 3l-1 3l-0.9 1.2l-1.4 1.8l-1.6 1.4l-2.3 1.6l-0.7 0.4l-3 1.4l-3 1.1l-0.2 0.1l-2.8 0.8l-3 0.8l-3 0.6l-3 0.4l-2.8 0.4l-0.2 0l-3 0.3l-3 0.3l-3 0.2l-3 0.1l-3 0l-3 0l-3-0.1l-3-0.2l-3-0.2l-3-0.3l-0.8-0.1l-2.2-0.3l-3-0.6l-3-0.8l-3-1.1l-0.4-0.2l-2.6-2l-0.9-1l-1.1-3l0.2-3l0.7-3l1.1-2.6l0.2-0.4l2-3l0.8-0.8l2.4-2.2l0.6-0.4l3-1.9l1.4-0.7l1.6-0.7l3-1.2l3-0.9l0.9-0.2z" fill="none" stroke="#505050" stroke-opacity="0.4" stroke-width="0.5"/>
<path d="M63 62.7l3-0.4l3-0.1l3-0.1l3 0.1l3 0.2l3 0.3l2.2 0.3l0.8 0.2l3 0.7l3 1l2.7 1.1l0.3 0.2l3 2.6l0.2 0.2l1.2 3l-0.2 3l-1.2 2.8l-0.1 0.2l-2.9 2.7l-0.4 0.3l-2.6 1.3l-3 1.3l-1.2 0.4l-1.8 0.5l-3 0.7l-3 0.5l-3 0.4l-3 0.3l-3 0.1l-3 0.1l-3-0.1l-3-0.1l-3-0.3l-3-0.4l-3-0.6l-3-0.8l-0.9-0.3l-2.1-1.1l-2.4-1.9l-0.6-1.2l-0.6-1.8l0.2-3l0.4-0.9l0.8-2.1l2.2-2.5l0.4-0.5l2.6-1.7l2.4-1.3l0.6-0.3l3-1l3-0.9l3-0.7l0.8-0.1z" fill="none" stroke="#505050" stroke-opacity="0.4" stroke-width="0.5"/>
<path d="M69 65.8l3 0l3 0.1l1.3 0.1l1.7 0.2l3 0.7l3 1.1l2.2 1l0.8 0.8l1.6 2.2l0 3l-1.6 2.8l-0.2 0.2l-2.8 1.7l-2.6 1.3l-0.4 0.1l-3 0.7l-3 0.6l-3 0.3l-3 0.2l-3 0l-3-0.2l-3-0.3l-3-0.7l-2.5-0.7l-0.5-0.3l-3-2.4l-0.2-0.3l-0.4-3l0.6-1.6l0.6-1.4l2.4-2l1.3-1l1.7-0.7l3-1l3-0.7l3-0.6l0.3 0z" fill="none" stroke="#505050" stroke-opacity="0.4" stroke-width="0.5"/>
</g>
<rect x="508.90" y="152.50" width="141.20" height="119.80" stroke="#333" stroke-width="0.9" fill="none"/>
<linearGradient id="cbg" x1="0" y1="1" x2="0" y2="0"><stop offset="0.0" stop-color="#0a0aff"/><stop offset="0.04" stop-color="#0f14fc"/><stop offset="0.09" stop-color="#2046f5"/><stop offset="0.17" stop-color="#4a96f0"/><stop offset="0.27" stop-color="#80f0ff"/><stop offset="0.36" stop-color="#80f8c8"/><stop offset="0.43" stop-color="#5af078"/><stop offset="0.5" stop-color="#2dec19"/><stop offset="0.6" stop-color="#64f023"/><stop offset="0.67" stop-color="#b4f037"/><stop offset="0.74" stop-color="#f0f040"/><stop offset="0.785" stop-color="#f0c040"/><stop offset="0.84" stop-color="#f89030"/><stop offset="0.91" stop-color="#ff5020"/><stop offset="1.0" stop-color="#ff2010"/></linearGradient><rect x="655.2" y="152.5" width="11.199999999999932" height="119.80000000000001" fill="url(#cbg)" stroke="#555" stroke-width="0.8"/>
<line x1="666.40" y1="152.50" x2="668.90" y2="152.50" stroke="#555" stroke-width="0.8"/>
<text x="670.40" y="155.10" font-size="7.4" text-anchor="start" fill="#111" font-weight="bold">1.5</text>
<line x1="666.40" y1="167.47" x2="668.90" y2="167.47" stroke="#555" stroke-width="0.8"/>
<text x="670.40" y="170.07" font-size="7.4" text-anchor="start" fill="#111" font-weight="bold">1.3</text>
<line x1="666.40" y1="182.45" x2="668.90" y2="182.45" stroke="#555" stroke-width="0.8"/>
<text x="670.40" y="185.05" font-size="7.4" text-anchor="start" fill="#111" font-weight="bold">1.1</text>
<line x1="666.40" y1="197.43" x2="668.90" y2="197.43" stroke="#555" stroke-width="0.8"/>
<text x="670.40" y="200.03" font-size="7.4" text-anchor="start" fill="#111" font-weight="bold">0.9</text>
<line x1="666.40" y1="212.40" x2="668.90" y2="212.40" stroke="#555" stroke-width="0.8"/>
<text x="670.40" y="215.00" font-size="7.4" text-anchor="start" fill="#111" font-weight="bold">0.7</text>
<line x1="666.40" y1="227.38" x2="668.90" y2="227.38" stroke="#555" stroke-width="0.8"/>
<text x="670.40" y="229.97" font-size="7.4" text-anchor="start" fill="#111" font-weight="bold">0.6</text>
<line x1="666.40" y1="242.35" x2="668.90" y2="242.35" stroke="#555" stroke-width="0.8"/>
<text x="670.40" y="244.95" font-size="7.4" text-anchor="start" fill="#111" font-weight="bold">0.4</text>
<line x1="666.40" y1="257.33" x2="668.90" y2="257.33" stroke="#555" stroke-width="0.8"/>
<text x="670.40" y="259.93" font-size="7.4" text-anchor="start" fill="#111" font-weight="bold">0.2</text>
<line x1="666.40" y1="272.30" x2="668.90" y2="272.30" stroke="#555" stroke-width="0.8"/>
<text x="670.40" y="274.90" font-size="7.4" text-anchor="start" fill="#111" font-weight="bold">0.0</text>
<line x1="508.90" y1="272.30" x2="508.90" y2="274.50" stroke="#5a5a5a" stroke-width="0.9"/>
<text x="508.90" y="284.60" font-size="10" text-anchor="middle" fill="#111" font-weight="bold">0</text>
<line x1="526.55" y1="272.30" x2="526.55" y2="273.70" stroke="#5a5a5a" stroke-width="0.9"/>
<line x1="544.20" y1="272.30" x2="544.20" y2="274.50" stroke="#5a5a5a" stroke-width="0.9"/>
<text x="544.20" y="284.60" font-size="10" text-anchor="middle" fill="#111" font-weight="bold">4</text>
<line x1="561.85" y1="272.30" x2="561.85" y2="273.70" stroke="#5a5a5a" stroke-width="0.9"/>
<line x1="579.50" y1="272.30" x2="579.50" y2="274.50" stroke="#5a5a5a" stroke-width="0.9"/>
<text x="579.50" y="284.60" font-size="10" text-anchor="middle" fill="#111" font-weight="bold">8</text>
<line x1="597.15" y1="272.30" x2="597.15" y2="273.70" stroke="#5a5a5a" stroke-width="0.9"/>
<line x1="614.80" y1="272.30" x2="614.80" y2="274.50" stroke="#5a5a5a" stroke-width="0.9"/>
<text x="614.80" y="284.60" font-size="10" text-anchor="middle" fill="#111" font-weight="bold">12</text>
<line x1="632.45" y1="272.30" x2="632.45" y2="273.70" stroke="#5a5a5a" stroke-width="0.9"/>
<line x1="650.10" y1="272.30" x2="650.10" y2="274.50" stroke="#5a5a5a" stroke-width="0.9"/>
<text x="650.10" y="284.60" font-size="10" text-anchor="middle" fill="#111" font-weight="bold">16</text>
<line x1="508.90" y1="272.30" x2="506.70" y2="272.30" stroke="#3a3a3a" stroke-width="0.9"/>
<text x="504.90" y="276.00" font-size="10" text-anchor="end" fill="#111" font-weight="bold">1</text>
<line x1="508.90" y1="252.33" x2="507.50" y2="252.33" stroke="#3a3a3a" stroke-width="0.9"/>
<line x1="508.90" y1="232.37" x2="506.70" y2="232.37" stroke="#3a3a3a" stroke-width="0.9"/>
<text x="504.90" y="236.07" font-size="10" text-anchor="end" fill="#111" font-weight="bold">2</text>
<line x1="508.90" y1="212.40" x2="507.50" y2="212.40" stroke="#3a3a3a" stroke-width="0.9"/>
<line x1="508.90" y1="192.43" x2="506.70" y2="192.43" stroke="#3a3a3a" stroke-width="0.9"/>
<text x="504.90" y="196.13" font-size="10" text-anchor="end" fill="#111" font-weight="bold">3</text>
<line x1="508.90" y1="172.47" x2="507.50" y2="172.47" stroke="#3a3a3a" stroke-width="0.9"/>
<line x1="508.90" y1="152.50" x2="506.70" y2="152.50" stroke="#3a3a3a" stroke-width="0.9"/>
<text x="504.90" y="156.20" font-size="10" text-anchor="end" fill="#111" font-weight="bold">4</text>
<text x="581.00" y="294.80" font-size="10.9" text-anchor="middle" fill="#111" font-weight="bold">k (Å<tspan font-size="6.5" dy="-4">-1</tspan><tspan dy="4">)</tspan></text>
<text x="497.30" y="214.00" font-size="10.5" text-anchor="middle" fill="#111" font-weight="bold" transform="rotate(-90 497.3 214.0)">R (Å)</text>
<text x="586.10" y="164.80" font-size="8.8" text-anchor="start" fill="#fff" font-weight="bold">hcp/fcc-Ru<tspan font-size="5.81" dy="2.82">1</tspan><tspan dy="-2.82">Co</tspan></text>
<text x="567.60" y="230.60" font-size="9" text-anchor="start" fill="#fff" font-weight="bold">Ru-Co</text>
<clipPath id="cliph"><rect x="0" y="0" width="141.2" height="119.8"/></clipPath>
<g transform="translate(508.9 301.3)" clip-path="url(#cliph)">
<rect x="0" y="0" width="141.2" height="119.8" fill="#0d0ffd"/>
<path d="M27 -3l3 0l3 0l3 0l3 0l3 0l3 0l3 0l3 0l3 0l3 0l3 0l3 0l3 0l3 0l3 0l3 0l3 0l3 0l3 0l3 0l3 0l3 0l3 0l3 0l3 0l3 0l0.7 0l2.3 0.9l3 0.9l3 0.3l3-0.5l3-1.4l0.3-0.2l2.7 0l3 0l3 0l3 0l3 0l3 0l3 0l3 0l0 3l0 3l0 3l0 3l0 3l0 3l0 3l0 3l0.1 3l0 3l0 3l0 3l0 3l0 3l0 3l0 3l0 3l0 3l0 3l0 3l0 3l0 3l0 3l0 3l-0.1 3l0 3l0 3l0 3l0 3l0 3l0 3l0 3l0 3l0 3l0 2.9l-0.5 0.1l-2.5 0.4l-3 0.4l-3 0.2l-3 0l-3 0l-3-0.1l-3-0.2l-3 0l-3 0l-3 0.1l-3 0.1l-3 0.2l-3 0.1l-3 0.2l-3 0.2l-3 0.1l-3 0.2l-3 0.1l-3 0.1l-3 0.1l-3 0.1l-3 0.1l-3 0.1l-3 0l-3 0.1l-3 0.1l-3 0l-3 0l-3 0.1l-3 0l-3 0l-3 0l-3-0.1l-3 0l-3 0l-3-0.1l-3 0l-3-0.1l-3-0.1l-3-0.1l-3-0.1l-3-0.1l-3-0.2l-3-0.1l-3-0.2l-3-0.1l-3-0.2l-3-0.1l-3-0.1l0-1.1l-0.1-3l0-3l0-3l0-3l0-3l0-3l0-3l0-3l0-3l0.1-3l0-3l0-3l0-2.4l3-0.3l0.4-0.3l2.6-1.8l0.9-1.2l2.1-2.6l0.3-0.4l2.2-3l0.5-0.6l1.9-2.4l1.1-1.2l1.6-1.8l1.4-1.6l1.3-1.4l1.7-2l1.2-1l1.8-1.9l3-0.9l3 1.4l1.5 1.4l1.5 0.4l3 0.7l3 0l3-0.6l1.1-0.5l1.9-2.1l0.7-0.9l-0.7-1l-3-2l-0.1 0l-2.9-0.9l-3-0.1l-3 0.4l-2.5 0.6l-0.5 0.2l-1.1-0.2l-1.6-3l0.2-3l-0.1-3l-0.4-3l0-0.2l-0.5-2.8l-0.5-3l-0.4-3l-0.2-3l0-3l0.4-3l0.7-3l0.5-1.5l0.6-1.5l1.7-3zM63 -1l-2.8 1l-0.2 0.1l-1.6 2.9l1.6 1.3l3 1.1l3-0.5l2.7-1.9l-1.8-3l-0.9-0.6zM63 28.8l-2.9 1.2l-0.1 0.5l-0.7 2.5l0.7 0.4l3 1.1l3 0.4l3-0.1l3-0.6l2.6-1.2l-0.5-3l-2.1-1l-3-0.6l-3 0zM30 107.8l3-0.1l3-0.1l3-0.2l3 0l3 0l3 0l3 0.1l3 0.2l3 0.2l0.8 0.1l2.2 0l3 0.1l3 0.1l3 0.1l3 0.1l3 0.1l3 0.1l3 0.1l3 0.1l3 0.1l3 0.1l3 0l3 0.1l3 0.1l3 0.1l3 0.1l3 0l3 0.1l3-0.1l3 0l3-0.2l3-0.2l3-0.2l3-0.3l3-0.1l3-0.1l3 0.1l3 0.3l3 0.3l0 2l0 3l0 3l0 3l0 3l-3 0l-3 0l-3 0l-3 0l-3 0l-3 0l-3 0l-3 0l-3 0l-3 0l-3 0l-3 0l-3 0l-3 0l-3 0l-3 0l-3 0l-3 0l-3 0l-3 0l-3 0l-3 0l-3 0l-3 0l-3 0l-3 0l-3 0l-3 0l-3 0l-3 0l-3 0l-3 0l-3 0l-3 0l-3 0l-3 0l-3 0l-3 0l-3 0l-3 0l-3 0l-3 0l-3 0l-3 0l-3 0l-3 0l-3 0l-3 0l-3 0l0-3l0-3l0-3l0-3l0-2.2l3-0.1l3 0l3-0.1l3-0.1l3-0.1l3-0.1l3 0l3-0.1l3-0.1l3-0.1l0.4 0z" fill="#172af9"/>
<path d="M42 2.9l3-1.2l3-0.4l3 0.4l1.3 1.3l1.7 1.1l2 1.9l1 0.6l3 1.3l3 0.4l3-0.1l3-0.6l3-1.2l1.2-0.4l1.8-0.9l3 0.2l1.5 0.7l1.5 0.9l2.7 2.1l0.3 0.3l2.5 2.7l0.5 0.7l1.7 2.3l1.3 1.9l0.9 1.1l2.1 1.8l2.1 1.2l0.9 0.3l3 0.6l3 0.2l3 0l3-0.2l3-0.4l3-0.5l3-0.9l3-1l2.8-1.1l0.2-0.1l3-1.5l3-1.2l0.8-0.2l2.2-0.7l3-0.3l3 0.4l1.5 0.6l1.5 0.6l3 1.8l0 0.6l0 3l0 3l0 3l0 3l0 3l0 3l0 3l0 3l0 3l0 3l0 3l0 3l0 3l0 3l0 3l0 3l0 3l0 3l0 3l0 3l0 3l0 1.9l-0.3 1.1l0 3l0.3 0.7l0 2.3l0 3l0 3l0 0.1l-3 2l-1.9 0.9l-1.1 0.2l-3 0.5l-3 0.2l-3 0.2l-3 0l-3 0l-3 0.1l-3 0.2l-3 0.2l-3 0.2l-3 0.3l-3 0.2l-3 0.3l-3 0.2l-3 0.2l-0.8 0l-2.2 0.1l-3 0.2l-3 0.2l-3 0.1l-3 0.2l-3 0.1l-3 0.1l-3 0.1l-3 0l-3 0.1l-3 0l-3 0.1l-3 0l-3 0l-3 0l-3 0l-3-0.1l-3 0l-3-0.1l-3-0.1l-3-0.1l-3-0.1l-3-0.2l-3-0.1l-3-0.2l-3-0.2l-1.3-0.1l-1.7-0.1l-3-0.2l-3-0.2l-3-0.3l-3-0.2l-3-0.2l-3-0.2l0-1.6l-0.1-3l0-3l0-3l0-3l0-3l0-3l0.1-3l0-3l0-3l0-0.1l3-1.2l2.8-1.7l0.2-0.1l2.7-2.9l0.3-0.4l1.7-2.6l1.3-2l0.6-1l2.2-3l0.2-0.3l2.5-2.7l0.5-0.6l2.9-2.4l0.1-0.1l3-2.2l1.2-0.7l1.8-1.2l3-1.1l3-0.4l3-0.1l1.2-0.2l1.8-0.1l3-0.6l3-1l2.3-1.3l0.7-1l1.9-2l0.4-3l0.5-3l0.1-3l-2.9-2.5l-0.3-0.5l-2.7-2.2l-0.7-0.8l-2.3-2.2l-0.6-0.8l-1.9-3l-0.5-1.5l-0.5-1.5l-0.2-3l0.7-2.8l0-0.2l1.8-3l1.2-1.2l2.8-1.8zM60 26.6l-1.3 0.4l-1.7 0.4l-3 1l-3 1.4l-2.8 0.2l1.3 3l1.5 0.1l3 1.1l3 1.2l2.2 0.6l0.8 0.2l3 0.4l3 0.2l3-0.2l3-0.5l0.4-0.1l2.6-0.8l3-1.5l1.1-0.7l0.9-3l-2-1.9l-3-1.1l-3-0.9l-3-0.4l-3 0l-3 0.3zM-3 113.2l3-0.1l3-0.2l3-0.1l3-0.2l3-0.1l3-0.2l3-0.2l3-0.1l3-0.1l3-0.2l3 0l3-0.1l3 0l3 0l3 0l3 0l3 0.1l3 0.1l3 0.1l3 0.1l3 0.1l3 0.2l3 0.1l3 0.2l3 0.1l3 0.2l3 0.2l3 0.1l3 0.2l3 0.1l3 0.2l3 0.1l3 0.2l0.9 0l2.1 1.7l2.1 1.3l-2.1 0.1l-3 0.1l-3 0.1l-3 0.2l-3 0.1l-3 0.1l-3 0.1l-3 0.1l-3 0.2l-3 0.1l-3 0.1l-3 0.1l-3 0.1l-3 0.1l-3 0.1l-3 0l-3 0.1l-3 0.1l-3 0l-3 0.1l-3 0l-3 0l-3 0l-3 0l-3 0l-3-0.1l-3 0l-3-0.1l-3-0.1l-3-0.1l-3-0.1l-3-0.1l-3-0.2l-3-0.1l-3-0.1l0-1l0-3zM120 113.8l3-0.5l3-0.5l3-0.5l3-0.4l3 0l3 0.2l3 0.5l3 0.7l0 0.7l0 3l0 1.2l-3 0.7l-3 0.5l-3 0.2l-3-0.1l-3-0.3l-3-0.5l-3-0.6l-3-0.6l-3-0.4l-1.8-0.1l1.8-1.4l1.1-1.6z" fill="#2754f4"/>
<path d="M129 24l3-0.4l3 0.2l0.7 0.2l2.3 1l2.1 2l0.9 1.3l0.8 1.7l0.7 3l0.2 3l-0.1 3l-0.2 3l-0.2 3l-0.3 3l-0.3 3l-0.4 3l-0.2 1.4l-0.3 1.6l-0.6 3l-0.8 3l-1 3l-0.3 1l-0.5 2l-0.6 3l-0.5 3l-0.7 3l-0.7 2l-0.3 1l-1.4 3l-1 3l0.6 3l0.3 3l-1.2 1l-3 1.6l-1.1 0.4l-1.9 0.3l-3 0.5l-3 0.5l-3 0.5l-3 0.5l-3 0.5l-1.4 0.2l-1.6 0.2l-3 0.4l-3 0.3l-3 0.3l-3 0.2l-3 0.2l-3 0.2l-3 0.2l-3 0.2l-3 0.1l-3 0.2l-3 0.1l-3 0.1l-3 0l-3 0.1l-3 0l-3 0.1l-3 0l-3 0l-3 0l-3-0.1l-3 0l-3-0.1l-3-0.1l-3-0.1l-3-0.1l-3-0.2l-3-0.2l-3-0.2l-3-0.2l-3-0.3l-3-0.3l-3-0.3l-3-0.3l-3-0.3l-0.6-0.1l-2.4-0.4l-3-0.4l-3-0.5l0-1.7l0-3l0-3l0-3l0-3l0-3l0-3l0-0.9l3-1.8l0.4-0.3l2.6-1.7l1.4-1.3l1.6-1.6l1.2-1.4l1.8-2.4l0.4-0.6l1.9-3l0.7-1l1.4-2l1.6-2l1-1l2-1.8l1.8-1.2l1.2-0.8l3-1.5l2-0.7l1-0.5l3-1.1l3-0.9l1.7-0.5l1.3-0.3l3-0.9l3-1.2l1.3-0.6l1.7-0.7l3-1.6l1.6-0.7l1.4-0.9l3-1.1l3-0.6l3-0.3l1.7-0.1l1.3-0.1l3-0.1l3-0.2l3-0.4l3-0.5l3-0.8l3-0.9l3-1.2l3-1l3-0.7l0.6-0.1l2.4-0.7l3-0.7l3-0.6l3-0.6l2.5-0.4l0.5-0.1l3-0.6l3-0.6l3-0.6l3-0.7l1.6-0.4l1.4-0.4l3-0.9l3-0.9l3-0.8z" fill="#3d7ef2"/>
<path d="M120 33l3-0.3l3-0.2l3 0.2l0.9 0.3l2.1 1.8l0.6 1.2l0.2 3l-0.6 3l-0.2 0.9l-0.6 2.1l-0.6 3l0.1 3l0.5 3l0.5 3l0.1 1l0.2 2l0 3l-0.2 2.4l0 0.6l-0.4 3l-0.4 3l-0.5 3l-0.7 3l-1 2l-0.5 1l-2.4 3l-0.1 0.2l-2.4 2.8l-0.6 1.2l-1.1 1.8l-1.9 2.5l-0.5 0.5l-2.5 1.2l-3 1.2l-1.7 0.6l-1.3 0.3l-3 0.6l-3 0.6l-3 0.4l-3 0.5l-3 0.4l-1.2 0.2l-1.8 0.2l-3 0.2l-3 0.2l-3 0.3l-3 0.1l-3 0.2l-3 0.1l-3 0.2l-3 0.1l-3 0l-3 0.1l-3 0l-3 0l-3 0l-3 0l-3-0.1l-3-0.1l-3-0.1l-3-0.1l-3-0.1l-3-0.2l-3-0.2l-3-0.3l-3-0.3l-2.4-0.2l-0.6-0.1l-3-0.4l-3-0.5l-3-0.5l-3-0.6l-3-0.6l-1.4-0.3l-1.6-0.6l-3-1.2l-2.6-1.2l-0.3-3l1.6-3l0.6-3l0.7-2.1l0.2-0.9l2.1-3l0.7-0.6l2.1-2.4l0.9-0.8l1.9-2.2l1.1-1.3l1.3-1.7l1.7-2.5l0.4-0.5l1.9-3l0.7-0.9l1.7-2.1l1.3-1.4l2-1.6l1-0.7l3-1.6l1.9-0.7l1.1-0.5l3-1l3-0.8l2.8-0.7l0.2-0.1l3-1.2l3-1.2l1.1-0.5l1.9-0.9l3-1.3l2.2-0.8l0.8-0.3l3-1.1l3-0.7l3-0.5l2.7-0.4l0.3 0l3-0.5l3-0.4l3-0.4l3-0.4l3-0.5l3-0.5l2-0.3l1-0.2l3-0.7l3-0.6l3-0.6l3-0.6l1.9-0.3l1.1-0.2l3-0.6l3-0.5l3-0.5l3-0.3l3-0.3l3-0.3l2.5-0.3zM81 89.7l-2.4 0.3l-0.6 1.7l-0.4 1.3l0.4 0.2l3 0.7l3 0.3l3-0.1l3-0.4l2.1-0.7l-1.6-3l-0.5-0.1l-3-0.2l-3-0.1l-3 0.1" fill="#53a6f3"/>
<path d="M105 38.9l3 0l0.6 0.1l2.4 0.3l3 1l2.4 1.7l0.6 1l0.8 2l1 3l1.2 2.4l0.3 0.6l2.3 3l0.4 0.4l1.9 2.6l1.1 2.2l0.4 0.8l0.7 3l0.2 3l-0.2 3l-0.3 3l-0.4 3l-0.4 1.3l-0.5 1.7l-1.8 3l-0.7 0.8l-2.2 2.2l-0.8 0.8l-2.5 2.2l-0.5 0.5l-2.8 2.5l-0.2 0.2l-3 2.2l-1.2 0.6l-1.8 0.6l-3 0.8l-3 0.7l-2.2 0.9l-0.8 0.1l-3 0.3l-3 0.2l-3 0.3l-3 0.3l-3 0.6l-3 0.6l-3 0.5l-1 0.1l-2 0.1l-3 0.2l-3 0.1l-3 0.1l-3 0l-3 0.1l-3 0l-3 0l-3-0.1l-3-0.1l-3-0.1l-3-0.1l-3-0.2l-0.4 0l-2.6-0.2l-3-0.2l-3-0.4l-3-0.3l-3-0.4l-3-0.5l-3-0.6l-2.1-0.4l-0.9-0.3l-3-1.1l-3-1.3l-0.6-0.3l-1.4-3l-0.3-3l-0.7-1.8l-0.4-1.2l-0.4-3l0.8-2.1l0.3-0.9l2-3l0.7-0.8l1.7-2.2l1.3-1.7l0.9-1.3l2-3l0.1-0.1l2-2.9l1-1.2l1.7-1.8l1.3-1.1l3-1.8l0.2-0.1l2.8-1.3l3-1l2.8-0.7l0.2-0.1l3-0.9l3-1l3-1l0.1 0l2.9-1.4l3-1.2l1.1-0.4l1.9-0.8l3-1l3-0.8l2.3-0.4l0.7-0.2l3-0.5l3-0.5l3-0.4l3-0.4l3-0.3l3-0.4l3-0.3l3-0.5l3-0.4l3-0.5l3-0.4l3-0.4l3-0.4l3-0.3l2-0.1zM78 89.6l-2.3 0.4l-0.7 1.7l-0.5 1.3l0.5 0.3l3 1.2l3 0.6l3 0.3l3 0.1l3 0l3-0.2l3-0.4l2.2-1.9l-2.2-1.7l-1.1-1.3l-1.9-0.3l-3-0.4l-3-0.2l-3 0l-3 0.1l-3 0.4" fill="#6acbf9"/>
<path d="M75 44.6l3-0.3l3-0.3l3-0.3l3-0.3l3-0.2l3-0.2l3-0.1l3 0l3 0.2l3 0.6l2.9 1.3l0.1 0.1l2.7 2.9l0.3 0.3l2.1 2.7l0.9 0.8l2.2 2.2l0.8 0.7l2.4 2.3l0.6 0.8l1.7 2.2l1.2 3l0.1 0.4l0.5 2.6l-0.1 3l-0.2 3l-0.2 1.4l-0.2 1.6l-0.9 3l-1.9 2.7l-0.2 0.3l-2.8 2.6l-0.5 0.4l-2.5 2l-1.6 1l-1.4 1l-3 1.4l-3 0.5l-3 0.1l-3-0.3l-3-0.4l-3-0.3l-3-0.3l-3-0.1l-3 0l-3 0.2l-3 0.3l-3 0.5l-1.8 0.4l-1.2 2.6l-0.2 0.4l0.2 0.3l3 1.9l3 0.7l0.5 0.1l-0.5 0.1l-3 0.9l-3 0.5l-3 0.4l-3 0.3l-3 0.1l-3 0.1l-3 0l-3 0l-3-0.1l-3-0.1l-3-0.2l-3-0.1l-3-0.3l-3-0.2l-3-0.4l-3-0.4l-3-0.4l-1.1-0.2l-1.9-0.5l-3-1l-3-1l-1.1-0.5l-1.9-2.1l-0.6-0.9l-1.9-3l-0.5-0.5l-1.8-2.5l-1.2-2.7l-0.1-0.3l0.1-0.6l0.3-2.4l1.7-3l1-1.4l1.1-1.6l1.9-2.6l0.3-0.4l2-3l0.7-1l1.5-2l1.5-1.5l1.8-1.5l1.2-0.8l3-1.6l1.6-0.6l1.4-0.5l3-1l3-0.8l2.4-0.7l0.6-0.2l3-1.1l3-1.1l1.6-0.6l1.4-0.6l3-1.3l3-0.9l0.9-0.2l2.1-0.7l3-0.7l3-0.5l3-0.4l3-0.4l3-0.3l0.2 0z" fill="#80f0fe"/>
<path d="M63 47.7l3-0.5l3-0.4l3-0.3l3-0.3l3-0.3l3-0.2l3-0.1l3-0.1l3-0.1l3 0.1l3 0.2l3 0.6l3 1.1l1.1 0.6l1.9 1.1l2.2 1.9l0.8 0.6l3 2.4l3 2.3l0.8 0.7l2.2 2.2l0.7 0.8l1.7 3l0.6 2.4l0.2 0.6l0.1 3l-0.2 3l-0.1 0.7l-0.3 2.3l-1 3l-1.7 2.3l-0.5 0.7l-2.5 2.1l-1.2 0.9l-1.8 1.2l-3 1.6l-0.6 0.2l-2.4 0.9l-3 0.5l-3 0.1l-3-0.1l-3-0.1l-3-0.2l-3 0l-3 0l-3 0.2l-3 0.3l-3 0.4l-3 0.7l-1.1 0.3l-1.8 3l1.4 3l-1.5 0.3l-3 0.4l-3 0.3l-3 0.1l-3 0.1l-3-0.1l-3 0l-3-0.2l-3-0.1l-3-0.3l-3-0.3l-2.1-0.2l-0.9-0.2l-3-0.5l-3-0.8l-3-0.8l-2.2-0.7l-0.8-0.6l-2.8-2.4l-0.2-0.1l-3-2.9l-3-2.2l-0.8-0.8l-2.1-3l-0.1-3l1.4-3l1.6-2.4l0.4-0.6l2-3l0.6-0.8l1.5-2.2l1.5-1.9l1-1.1l2-1.7l1.9-1.3l1.1-0.6l3-1.4l3-1l0.1 0l2.9-1l3-0.9l3-0.9l0.7-0.2l2.3-0.9l3-1.2l2.7-0.9l0.3-0.1l3-1.1l3-0.9l3-0.6l1.6-0.3z" fill="#80f4e5"/>
<path d="M72 47.9l3-0.3l3-0.2l3-0.1l3-0.1l3 0l3 0.2l3 0.4l1 0.2l2 0.4l3 1.1l2.7 1.5l0.3 0.1l3 1.8l1.5 1.1l1.5 1l2.8 2l0.2 0.1l3 2.7l0.2 0.2l2.1 3l0.7 2.2l0.2 0.8l0.2 3l-0.1 3l-0.3 2.3l-0.1 0.7l-1.1 3l-1.8 2.3l-0.6 0.7l-2.4 1.9l-1.7 1.1l-1.3 0.7l-3 1.4l-3 0.8l-0.6 0.1l-2.4 0.4l-3 0.1l-3 0l-3 0l-3 0l-3 0.1l-3 0.2l-3 0.3l-3 0.4l-3 0.6l-3 0.8l-0.4 0.1l-2.6 3l-3 2.2l-3 0.5l-3 0.2l-3 0l-3-0.1l-3-0.2l-3-0.4l-3-0.3l-3-0.5l-3-0.7l-3-0.7l-0.1 0l-2.9-1.6l-2-1.4l-1-0.5l-3-2l-0.6-0.5l-2.4-1.2l-2.8-1.8l-0.2-0.2l-2.9-2.8l-0.1-0.7l-0.4-2.3l0.4-1.1l0.7-1.9l1.8-3l0.5-0.7l1.6-2.3l1.4-2l0.7-1l2.3-2.5l0.5-0.5l2.5-1.9l2-1.1l1-0.5l3-1.2l3-0.9l1.1-0.4l1.9-0.6l3-1l3-1l1.3-0.4l1.7-0.7l3-1.1l3-0.9l0.9-0.3l2.1-0.7l3-0.7l3-0.6l3-0.4l3-0.4l2.5-0.2z" fill="#80f7cc"/>
<path d="M60 50.9l3-0.6l3-0.5l3-0.4l3-0.3l3-0.2l3-0.2l3 0l3 0l3 0.1l3 0.4l3 0.6l3 1l0.4 0.2l2.6 1.1l3 1.7l0.3 0.2l2.7 1.5l2.2 1.5l0.8 0.6l3 2.4l2.4 3l0.6 1.5l0.6 1.5l0.2 3l0 3l-0.5 3l-0.3 0.9l-0.9 2.1l-2.1 2.5l-0.5 0.5l-2.5 1.7l-2.2 1.3l-0.8 0.4l-3 1.1l-3 0.7l-3 0.4l-3 0.2l-3 0.1l-2.8 0.1l-0.2 0l-3 0.1l-3 0.2l-3 0.3l-3 0.3l-3 0.6l-3 0.6l-3 0.9l-0.1 0l-2.9 2.3l-1.5 0.7l-1.5 0.6l-3 0.4l-3 0.1l-3-0.1l-3-0.2l-3-0.4l-2.8-0.4l-0.2-0.1l-3-1l-3-1.4l-1-0.5l-2-0.9l-3-1.5l-1-0.6l-2-0.7l-3-1.3l-1.8-1l-1.2-0.7l-2.9-2.3l-0.1-0.3l-1-2.7l0.9-3l0.1-0.2l1.6-2.8l1.4-2l0.6-1l2.3-3l0.1-0.1l2.9-2.9l0.1 0l3-1.9l2.2-1.1l0.8-0.3l3-1.1l3-1l1.8-0.6l1.2-0.4l3-1.1l3-1l1.6-0.5l1.4-0.5l3-1.1l3-0.8l2.7-0.6z" fill="#6df49f"/>
<path d="M66 51l3-0.4l3-0.3l3-0.2l3-0.2l3 0l3 0.1l3 0.3l3 0.6l0.4 0.1l2.6 0.7l3 1.1l2.4 1.2l0.6 0.3l3 1.6l1.8 1.1l1.2 0.8l3 2.2l2.7 3l0.3 0.6l1 2.4l0.4 3l-0.1 3l-0.4 3l-0.9 2.1l-0.4 0.9l-2.6 2.7l-0.3 0.3l-2.7 1.7l-2.7 1.3l-0.3 0.1l-3 0.9l-3 0.6l-3 0.4l-3 0.2l-3 0.2l-3 0.1l-3 0.3l-2.3 0.2l-0.7 0.1l-3 0.3l-3 0.4l-3 0.6l-3 0.7l-3 0.7l-0.8 0.2l-2.2 1.1l-3 0.8l-3 0.2l-3-0.2l-3-0.4l-3-0.8l-2.2-0.7l-0.8-0.2l-3-1l-3-1.2l-1.2-0.6l-1.8-0.5l-3-1l-3-1.2l-0.6-0.3l-2.4-1.2l-2.9-1.8l-0.1-0.2l-1.5-2.8l0.6-3l0.9-1.7l0.7-1.3l2-3l0.3-0.4l2.1-2.6l0.9-0.9l2.4-2.1l0.6-0.3l3-1.7l2.3-1l0.7-0.3l3-1l3-1l2-0.7l1-0.3l3-1.1l3-1l2-0.6l1-0.4l3-0.9l3-0.7l3-0.6l2.9-0.4z" fill="#55f06e"/>
<path d="M57 53.9l3-0.8l3-0.6l3-0.5l3-0.3l3-0.3l3-0.2l3-0.1l3 0.1l3 0.2l3 0.3l3 0.7l3 0.9l1.5 0.7l1.5 0.6l3 1.5l1.6 0.9l1.4 0.9l3 2l0.1 0.1l2.9 2.9l0.1 0.1l1.5 3l0.4 3l0 3l-0.5 3l-1.4 3l-0.1 0.1l-3 2.8l-0.1 0.1l-2.9 1.6l-3 1.3l-0.4 0.1l-2.6 0.6l-3 0.5l-3 0.4l-3 0.2l-3 0.2l-3 0.3l-3 0.3l-3 0.3l-1.5 0.2l-1.5 0.2l-3 0.5l-3 0.5l-3 0.6l-3 0.5l-3 0.3l-3 0.1l-3-0.2l-3-0.5l-3-0.7l-3-0.9l-1-0.4l-2-0.5l-3-0.8l-3-0.9l-2.2-0.8l-0.8-0.3l-3-1.2l-2.7-1.5l-0.3-0.3l-2-2.7l0.3-3l1.5-3l0.2-0.3l1.8-2.7l1.2-1.5l1.3-1.5l1.7-1.5l2-1.5l1-0.6l3-1.4l2.4-1l0.6-0.2l3-1.1l3-1l2.1-0.7l0.9-0.3l3-1.1l3-0.9l2.5-0.7z" fill="#3aed35"/>
<path d="M63 53.5l3-0.5l3-0.3l3-0.3l3-0.1l3-0.1l3 0.1l3 0.3l3 0.5l3 0.8l0.4 0.1l2.6 0.9l3 1.4l1.4 0.7l1.6 0.9l3 1.9l0.3 0.2l2.7 2.5l0.5 0.5l1.6 3l0.5 3l0 3l-0.4 3l-1.6 3l-0.6 0.6l-2.9 2.4l-0.1 0l-3 1.5l-3 1.1l-1.4 0.4l-1.6 0.3l-3 0.5l-3 0.3l-3 0.2l-3 0.3l-3 0.3l-3 0.3l-3 0.3l-3 0.4l-0.8 0.1l-2.2 0.3l-3 0.4l-3 0.3l-3 0.1l-3-0.1l-3-0.4l-2.8-0.6l-0.2 0l-3-0.5l-3-0.7l-3-0.7l-3-0.9l-0.5-0.2l-2.5-0.8l-3-1.1l-2.5-1.1l-0.5-0.4l-2.5-2.6l0-3l1.4-3l1.1-1.6l1-1.4l2-2.4l0.5-0.6l2.5-1.9l1.6-1.1l1.4-0.7l3-1.3l2.4-1l0.6-0.2l3-1.1l3-1l2.1-0.7l0.9-0.3l3-1l3-0.8l3-0.8l0.7-0.1z" fill="#38ed1b"/>
<path d="M69 53.7l3-0.3l3-0.1l3 0l3 0.1l3 0.4l1.1 0.2l1.9 0.4l3 0.9l3 1.1l1.3 0.6l1.7 0.9l3 1.8l0.5 0.3l2.5 2.1l1 0.9l1.8 3l0.2 1.3l0.3 1.7l0 3l-0.3 1.9l-0.2 1.1l-1.7 3l-1.1 0.9l-2.8 2.1l-0.2 0.1l-3 1.2l-3 1l-2.8 0.7l-0.2 0l-3 0.4l-3 0.3l-3 0.3l-3 0.3l-3 0.2l-3 0.4l-3 0.3l-3 0.2l-3 0.3l-3 0.1l-3-0.1l-3-0.2l-3-0.3l-3-0.5l-3-0.6l-3-0.7l-1.6-0.4l-1.4-0.3l-3-0.9l-3-1l-2-0.8l-1-0.6l-2.8-2.4l-0.2-1.4l-0.2-1.6l0.2-0.4l1.2-2.6l1.8-2.8l0.1-0.2l2.7-3l0.2-0.1l3-2.1l1.2-0.8l1.8-0.8l3-1.3l2.3-0.9l0.7-0.3l3-1l3-1l2.2-0.7l0.8-0.3l3-0.8l3-0.8l3-0.6l3-0.4l0.5-0.1z" fill="#4fee1f"/>
<path d="M57 56.9l3-0.8l3-0.6l3-0.5l3-0.3l3-0.3l3-0.1l3 0.1l3 0.2l3 0.4l3 0.7l3 0.9l0.9 0.4l2.1 0.9l3 1.6l0.8 0.5l2.2 1.8l1.4 1.2l1.6 2.4l0.3 0.6l0.6 3l0.1 3l-0.6 3l-0.4 0.7l-1.4 2.3l-1.6 1.2l-2.9 1.8l-0.1 0.1l-3 1l-3 0.9l-3 0.6l-1.9 0.4l-1.1 0.1l-3 0.3l-3 0.3l-3 0.2l-3 0.3l-3 0.2l-3 0.2l-3 0.1l-3 0.1l-3-0.1l-3-0.3l-3-0.4l-3-0.5l-2.2-0.5l-0.8-0.2l-3-0.6l-3-0.8l-3-0.9l-1.4-0.5l-1.6-0.9l-3-2.1l-0.7-3l0.7-1.9l0.4-1.1l2-3l0.6-0.6l2.2-2.4l0.8-0.5l3-2l0.9-0.5l2.1-0.9l3-1.2l2.2-0.9l0.8-0.3l3-1l3-1l2.5-0.7z" fill="#69f024"/>
<path d="M63 56.5l3-0.5l3-0.3l3-0.2l3-0.1l3 0l3 0.3l3 0.5l3 0.7l0.2 0.1l2.8 1.1l3 1.4l0.9 0.5l2.1 1.5l1.9 1.5l1.1 1.6l0.9 1.4l0.6 3l0.1 3l-0.6 3l-1 1.5l-1.1 1.5l-1.9 1.3l-3 1.7l-0.1 0l-2.9 0.9l-3 0.7l-3 0.6l-3 0.5l-2.3 0.3l-0.7 0.1l-3 0.2l-3 0.2l-3 0.2l-3 0.1l-3 0l-3 0l-3-0.2l-3-0.3l-1.8-0.3l-1.2-0.2l-3-0.5l-3-0.6l-3-0.7l-3-0.9l-0.4-0.1l-2.6-1.2l-3-1.8l-1.2-3l1-3l0.2-0.3l1.8-2.7l1.2-1.3l1.7-1.7l1.3-0.8l3-1.8l0.6-0.4l2.4-1l3-1.2l2.1-0.8l0.9-0.3l3-0.9l3-0.9l3-0.8l0.5-0.1z" fill="#98f030"/>
<path d="M66 57l3-0.3l3-0.2l3-0.1l3 0.1l3 0.3l0.9 0.2l2.1 0.4l3 0.9l3 1.3l0.9 0.4l2.1 1.4l2.2 1.6l0.8 1l1.4 2l0.7 3l0 3l-0.7 3l-1.4 2l-0.8 1l-2.2 1.3l-3 1.4l-0.7 0.3l-2.3 0.6l-3 0.7l-3 0.5l-3 0.4l-3 0.3l-3 0.2l-3 0.2l-3 0.1l-3-0.1l-3-0.1l-3-0.2l-3-0.4l-3-0.4l-3-0.6l-3-0.6l-2.2-0.6l-0.8-0.3l-3-1.2l-2.9-1.5l-0.1-0.2l-1.4-2.8l0.8-3l0.6-0.9l1.3-2.1l1.7-1.7l1.3-1.3l1.7-1l3-1.7l0.5-0.3l2.5-1l3-1.2l2.3-0.8l0.7-0.2l3-0.9l3-0.7l3-0.7l3-0.5z" fill="#c3f039"/>
<path d="M57 59.9l3-0.7l3-0.6l3-0.5l3-0.4l3-0.2l3 0l3 0.2l3 0.4l3 0.7l3 1l0.6 0.2l2.4 1.4l2.5 1.6l0.5 0.7l1.8 2.3l0.7 3l0 3l-0.7 3l-1.8 2.2l-0.8 0.8l-2.2 1.1l-3 1.3l-1.7 0.6l-1.3 0.3l-3 0.5l-3 0.5l-3 0.3l-3 0.2l-3 0.2l-3 0l-3 0l-3-0.2l-3-0.3l-3-0.3l-3-0.5l-3-0.6l-0.5-0.1l-2.5-0.8l-3-1.1l-2.4-1.1l-0.6-0.8l-1.5-2.2l0.6-3l0.9-1.4l1-1.6l2-1.9l1.1-1.1l1.9-1.1l3-1.7l0.4-0.2l2.6-1l3-1.1l2.8-0.9z" fill="#e7f03f"/>
<path d="M63 59.6l3-0.4l3-0.4l3-0.1l3 0l3 0.2l3 0.5l2.5 0.6l0.5 0.2l3 1.4l2.5 1.4l0.5 0.6l2 2.4l0.7 3l0 3l-0.8 3l-1.9 2.1l-1 0.9l-2 0.9l-3 1.1l-3 0.8l-0.8 0.2l-2.2 0.3l-3 0.4l-3 0.2l-3 0.1l-3 0.1l-3-0.1l-3-0.2l-3-0.3l-3-0.4l-0.9-0.1l-2.1-0.5l-3-0.8l-3-1.1l-1.6-0.6l-1.4-1.4l-1.3-1.6l0.4-3l0.9-1.5l0.9-1.5l2.1-2l1.1-1l1.9-1.1l3-1.6l0.7-0.3l2.3-0.8l3-1l3-0.9l1.2-0.3z" fill="#f0cf40"/>
<path d="M69 59.9l3-0.1l3 0.1l1.5 0.1l1.5 0.2l3 0.7l3 1.1l2.1 1l0.9 0.8l2 2.2l0.8 3l0 3l-1 3l-1.8 1.7l-1.6 1.3l-1.4 0.5l-3 0.9l-3 0.7l-3 0.5l-3 0.4l-0.3 0l-2.7 0.1l-3 0l-3-0.1l-0.8 0l-2.2-0.2l-3-0.4l-3-0.6l-3-0.8l-3-0.8l-0.4-0.2l-2.6-2.2l-0.8-0.8l0.2-3l0.6-1.1l1.1-1.9l1.9-1.8l1.3-1.2l1.7-0.9l3-1.5l1.3-0.6l1.7-0.5l3-0.9l3-0.7l3-0.6l2.4-0.3z" fill="#f4a838"/>
<path d="M60 62.9l3-0.6l3-0.6l3-0.3l3-0.1l3 0.1l3 0.5l3 0.8l0.9 0.3l2.1 1.6l1.6 1.4l0.8 3l0 3l-1.1 3l-1.3 1l-3 2l-3 0.7l-3 0.6l-3 0.3l-3 0.2l-3 0.1l-3-0.2l-3-0.3l-3-0.4l-3-0.6l-1.4-0.4l-1.6-0.9l-2.8-2.1l-0.2-3l1.7-3l1.3-1.2l2-1.8l1-0.5l3-1.4l2.7-1.1z" fill="#f9832d"/>
<path d="M69 62.9l3-0.1l2.3 0.2l0.7 0.1l3 1l3 1.6l0.4 0.3l1.1 3l-0.1 3l-1.3 3l-0.1 0l-3 1.6l-3 1.2l-0.7 0.2l-2.3 0.3l-3 0.2l-3 0l-3-0.1l-3-0.3l-0.3-0.1l-2.7-0.9l-3-1.5l-1-0.6l-0.6-3l1.5-3l0.1-0.1l3-2.6l0.4-0.3l2.6-1l3-1l3-0.7l1.7-0.3z" fill="#fe5d23"/>
<path d="M66 65.7l3-0.3l3 0.1l2.6 0.5l0.4 0.3l2 2.7l-0.1 3l-1.9 2.8l-0.2 0.2l-2.8 0.7l-3 0.5l-3 0l-3-0.4l-3-0.7l-0.3-0.1l-1.4-3l1.4-3l0.3-0.2l3-2l1.6-0.8z" fill="#ff411b"/>
<path d="M-3 81.7l0.3-0.7l2.7-2.8l0.1-0.2l2.9-2.3l0.6-0.7l2.4-2.3l0.7-0.7l2.3-2.7l0.2-0.3l2-3l0.8-1.2l1.2-1.8l1.8-2.5l0.4-0.5l2.6-2.7l0.4-0.3l2.6-1.9l2.3-1.1l0.7-0.4l3-1.2l3-0.9l2.1-0.5l0.9-0.3l3-1.1l3-1.1l1.3-0.5l1.7-0.7l3-1.3l2.3-1l0.7-0.4l3-1.2l3-1l2-0.4l1-0.3l3-0.5l3-0.5l3-0.3l3-0.4l3-0.4l3-0.4l1.3-0.2l1.7-0.3l3-0.7l3-0.7l3-0.6l3-0.6l0.4-0.1l2.6-0.7l3-0.6l3-0.7l3-0.5l2.5-0.5l0.5-0.1l3-0.5l3-0.5l3-0.5l3-0.5l3-0.6l1.5-0.3l1.5-0.3l3-0.6l3-0.4l3 0.1l2.8 1.2l0.2 0.1l1.8 2.9l0.6 3l-0.1 3l-0.4 3l-0.6 3l-0.6 3l-0.3 3l-0.2 3l-0.1 3l-0.1 0.9l-0.1 2.1l-0.3 3l-0.4 3l-0.5 3l-0.5 3l-0.5 3l-0.7 3l0 0.1l-1.2 2.9l-1.8 2.7l-0.3 0.3l-1.9 3l-0.8 2.5l-0.2 0.5l-1.5 3l-1.3 0.6l-3 1.3l-3 1.1l-0.1 0l-2.9 0.7l-3 0.6l-3 0.6l-3 0.5l-3 0.4l-1.2 0.2l-1.8 0.2l-3 0.3l-3 0.3l-3 0.2l-3 0.2l-3 0.2l-3 0.2l-3 0.1l-3 0.1l-3 0.1l-3 0.1l-3 0.1l-3 0.1l-3 0l-3 0l-3 0l-3-0.1l-3 0l-3-0.1l-3-0.1l-3-0.1l-3-0.1l-3-0.2l-3-0.2l-3-0.2l-3-0.2l-3-0.3l-3-0.3l-2.5-0.3l-0.5-0.1l-3-0.4l-3-0.5l-3-0.6l-3-0.6l-3-0.6l-1.2-0.2l-1.8-0.7M81 89.9l-0.7 0.1l-0.9 3l1.6 0.4l3 0.3l3-0.1l3-0.6l-1.7-3l-1.3-0.1l-3-0.1l-3 0.1" fill="none" stroke="#505050" stroke-opacity="0.4" stroke-width="0.5"/>
<path d="M66 47.5l3-0.4l3-0.3l3-0.3l3-0.3l3-0.2l3-0.1l3-0.1l3 0l3 0.1l3 0.4l3 0.7l2.5 1l0.5 0.2l3 1.9l1.1 0.9l1.9 1.3l2.1 1.7l0.9 0.6l3 2.4l3 3l1.8 3l0.8 3l0.1 3l-0.2 3l-0.4 3l-1 3l-1.1 1.5l-1.2 1.5l-1.8 1.6l-1.9 1.4l-1.1 0.7l-3 1.7l-1.7 0.6l-1.3 0.5l-3 0.6l-3 0.2l-3-0.1l-3-0.1l-3-0.1l-3 0l-3 0l-3 0.2l-3 0.3l-3 0.4l-3 0.7l-1.5 0.4l-1.5 2.3l-0.6 0.7l0.5 3l-2.9 0.4l-3 0.3l-3 0.2l-3 0l-3 0l-3-0.1l-3-0.1l-3-0.2l-3-0.2l-2.6-0.3l-0.4-0.1l-3-0.5l-3-0.6l-3-0.7l-3-0.9l-0.6-0.2l-2.4-1.7l-1.5-1.3l-1.5-1.1l-2-1.9l-1-0.6l-3-2.4l-2.3-3l-0.1-3l1.2-3l1.2-1.7l0.8-1.3l2.1-3l0.1-0.2l1.9-2.8l1.1-1.3l1.5-1.7l1.5-1.3l2.5-1.7l0.5-0.3l3-1.4l3-1l0.9-0.3l2.1-0.7l3-0.9l3-0.9l1.4-0.5l1.6-0.6l3-1.2l3-1l0.6-0.2l2.4-0.9l3-0.9l3-0.7l3-0.5l0.2 0z" fill="none" stroke="#505050" stroke-opacity="0.4" stroke-width="0.5"/>
<path d="M63 53.5l3-0.5l3-0.3l3-0.3l3-0.1l3-0.1l3 0.1l3 0.3l3 0.5l3 0.8l0.4 0.1l2.6 0.9l3 1.4l1.4 0.7l1.6 0.9l3 1.9l0.3 0.2l2.7 2.5l0.5 0.5l1.6 3l0.5 3l0 3l-0.4 3l-1.6 3l-0.6 0.6l-2.9 2.4l-0.1 0l-3 1.5l-3 1.1l-1.4 0.4l-1.6 0.3l-3 0.5l-3 0.3l-3 0.2l-3 0.3l-3 0.3l-3 0.3l-3 0.3l-3 0.4l-0.8 0.1l-2.2 0.3l-3 0.4l-3 0.3l-3 0.1l-3-0.1l-3-0.4l-2.8-0.6l-0.2 0l-3-0.5l-3-0.7l-3-0.7l-3-0.9l-0.5-0.2l-2.5-0.8l-3-1.1l-2.5-1.1l-0.5-0.4l-2.5-2.6l0-3l1.4-3l1.1-1.6l1-1.4l2-2.4l0.5-0.6l2.5-1.9l1.6-1.1l1.4-0.7l3-1.3l2.4-1l0.6-0.2l3-1.1l3-1l2.1-0.7l0.9-0.3l3-1l3-0.8l3-0.8l0.7-0.1z" fill="none" stroke="#505050" stroke-opacity="0.4" stroke-width="0.5"/>
<path d="M57 59.7l3-0.7l3-0.6l3-0.5l3-0.4l3-0.2l3 0l3 0.1l3 0.4l3 0.7l3 1l1.3 0.5l1.7 1l3 2l2.3 3l0.7 2.9l0 0.1l0 3l0 0.2l-0.7 2.8l-2.3 2.9l-0.1 0.1l-2.9 1.5l-3 1.2l-0.8 0.3l-2.2 0.5l-3 0.5l-3 0.4l-3 0.4l-3 0.2l-3 0.2l-3 0l-3 0l-3-0.2l-3-0.2l-3-0.4l-3-0.5l-3-0.6l-1.5-0.3l-1.5-0.5l-3-1.1l-3-1.3l-0.1-0.1l-2-3l0.7-3l1.4-2.3l0.5-0.7l2.5-2.5l0.5-0.5l2.5-1.4l2.8-1.6l0.2-0.1l3-1.1l3-1.1l2.1-0.7z" fill="none" stroke="#505050" stroke-opacity="0.4" stroke-width="0.5"/>
<path d="M63 62.8l3-0.5l3-0.3l3-0.1l3 0.2l3 0.5l1.6 0.4l1.4 0.7l3 2.2l0.1 0.1l0.8 3l0 3l-0.9 2.4l-0.3 0.6l-2.7 1.8l-2.3 1.2l-0.7 0.2l-3 0.5l-3 0.4l-3 0.2l-3 0l-3-0.1l-3-0.3l-3-0.5l-2-0.4l-1-0.5l-3-1.8l-1-0.7l-0.3-3l1.3-2.5l0.3-0.5l2.7-2.5l0.6-0.5l2.4-1.1l3-1.2l2.1-0.7z" fill="none" stroke="#505050" stroke-opacity="0.4" stroke-width="0.5"/>
</g>
<rect x="508.90" y="301.30" width="141.20" height="119.80" stroke="#333" stroke-width="0.9" fill="none"/>
<linearGradient id="cbh" x1="0" y1="1" x2="0" y2="0"><stop offset="0.0" stop-color="#0a0aff"/><stop offset="0.04" stop-color="#0f14fc"/><stop offset="0.09" stop-color="#2046f5"/><stop offset="0.17" stop-color="#4a96f0"/><stop offset="0.27" stop-color="#80f0ff"/><stop offset="0.36" stop-color="#80f8c8"/><stop offset="0.43" stop-color="#5af078"/><stop offset="0.5" stop-color="#2dec19"/><stop offset="0.6" stop-color="#64f023"/><stop offset="0.67" stop-color="#b4f037"/><stop offset="0.74" stop-color="#f0f040"/><stop offset="0.785" stop-color="#f0c040"/><stop offset="0.84" stop-color="#f89030"/><stop offset="0.91" stop-color="#ff5020"/><stop offset="1.0" stop-color="#ff2010"/></linearGradient><rect x="655.2" y="301.3" width="11.199999999999932" height="119.80000000000001" fill="url(#cbh)" stroke="#555" stroke-width="0.8"/>
<line x1="666.40" y1="301.30" x2="668.90" y2="301.30" stroke="#555" stroke-width="0.8"/>
<text x="670.40" y="303.90" font-size="7.4" text-anchor="start" fill="#111" font-weight="bold">5.2</text>
<line x1="666.40" y1="316.28" x2="668.90" y2="316.28" stroke="#555" stroke-width="0.8"/>
<text x="670.40" y="318.88" font-size="7.4" text-anchor="start" fill="#111" font-weight="bold">4.5</text>
<line x1="666.40" y1="331.25" x2="668.90" y2="331.25" stroke="#555" stroke-width="0.8"/>
<text x="670.40" y="333.85" font-size="7.4" text-anchor="start" fill="#111" font-weight="bold">3.9</text>
<line x1="666.40" y1="346.23" x2="668.90" y2="346.23" stroke="#555" stroke-width="0.8"/>
<text x="670.40" y="348.83" font-size="7.4" text-anchor="start" fill="#111" font-weight="bold">3.2</text>
<line x1="666.40" y1="361.20" x2="668.90" y2="361.20" stroke="#555" stroke-width="0.8"/>
<text x="670.40" y="363.80" font-size="7.4" text-anchor="start" fill="#111" font-weight="bold">2.6</text>
<line x1="666.40" y1="376.18" x2="668.90" y2="376.18" stroke="#555" stroke-width="0.8"/>
<text x="670.40" y="378.78" font-size="7.4" text-anchor="start" fill="#111" font-weight="bold">1.9</text>
<line x1="666.40" y1="391.15" x2="668.90" y2="391.15" stroke="#555" stroke-width="0.8"/>
<text x="670.40" y="393.75" font-size="7.4" text-anchor="start" fill="#111" font-weight="bold">1.3</text>
<line x1="666.40" y1="406.12" x2="668.90" y2="406.12" stroke="#555" stroke-width="0.8"/>
<text x="670.40" y="408.73" font-size="7.4" text-anchor="start" fill="#111" font-weight="bold">0.6</text>
<line x1="666.40" y1="421.10" x2="668.90" y2="421.10" stroke="#555" stroke-width="0.8"/>
<text x="670.40" y="423.70" font-size="7.4" text-anchor="start" fill="#111" font-weight="bold">0.0</text>
<line x1="508.90" y1="421.10" x2="508.90" y2="423.30" stroke="#5a5a5a" stroke-width="0.9"/>
<text x="508.90" y="434.50" font-size="10" text-anchor="middle" fill="#111" font-weight="bold">0</text>
<line x1="526.55" y1="421.10" x2="526.55" y2="422.50" stroke="#5a5a5a" stroke-width="0.9"/>
<line x1="544.20" y1="421.10" x2="544.20" y2="423.30" stroke="#5a5a5a" stroke-width="0.9"/>
<text x="544.20" y="434.50" font-size="10" text-anchor="middle" fill="#111" font-weight="bold">4</text>
<line x1="561.85" y1="421.10" x2="561.85" y2="422.50" stroke="#5a5a5a" stroke-width="0.9"/>
<line x1="579.50" y1="421.10" x2="579.50" y2="423.30" stroke="#5a5a5a" stroke-width="0.9"/>
<text x="579.50" y="434.50" font-size="10" text-anchor="middle" fill="#111" font-weight="bold">8</text>
<line x1="597.15" y1="421.10" x2="597.15" y2="422.50" stroke="#5a5a5a" stroke-width="0.9"/>
<line x1="614.80" y1="421.10" x2="614.80" y2="423.30" stroke="#5a5a5a" stroke-width="0.9"/>
<text x="614.80" y="434.50" font-size="10" text-anchor="middle" fill="#111" font-weight="bold">12</text>
<line x1="632.45" y1="421.10" x2="632.45" y2="422.50" stroke="#5a5a5a" stroke-width="0.9"/>
<line x1="650.10" y1="421.10" x2="650.10" y2="423.30" stroke="#5a5a5a" stroke-width="0.9"/>
<text x="650.10" y="434.50" font-size="10" text-anchor="middle" fill="#111" font-weight="bold">16</text>
<line x1="508.90" y1="421.10" x2="506.70" y2="421.10" stroke="#3a3a3a" stroke-width="0.9"/>
<text x="504.90" y="424.80" font-size="10" text-anchor="end" fill="#111" font-weight="bold">1</text>
<line x1="508.90" y1="401.13" x2="507.50" y2="401.13" stroke="#3a3a3a" stroke-width="0.9"/>
<line x1="508.90" y1="381.17" x2="506.70" y2="381.17" stroke="#3a3a3a" stroke-width="0.9"/>
<text x="504.90" y="384.87" font-size="10" text-anchor="end" fill="#111" font-weight="bold">2</text>
<line x1="508.90" y1="361.20" x2="507.50" y2="361.20" stroke="#3a3a3a" stroke-width="0.9"/>
<line x1="508.90" y1="341.23" x2="506.70" y2="341.23" stroke="#3a3a3a" stroke-width="0.9"/>
<text x="504.90" y="344.93" font-size="10" text-anchor="end" fill="#111" font-weight="bold">3</text>
<line x1="508.90" y1="321.27" x2="507.50" y2="321.27" stroke="#3a3a3a" stroke-width="0.9"/>
<line x1="508.90" y1="301.30" x2="506.70" y2="301.30" stroke="#3a3a3a" stroke-width="0.9"/>
<text x="504.90" y="305.00" font-size="10" text-anchor="end" fill="#111" font-weight="bold">4</text>
<text x="580.30" y="444.50" font-size="10.9" text-anchor="middle" fill="#111" font-weight="bold">k (Å<tspan font-size="6.5" dy="-4">-1</tspan><tspan dy="4">)</tspan></text>
<text x="497.30" y="362.80" font-size="10.5" text-anchor="middle" fill="#111" font-weight="bold" transform="rotate(-90 497.3 362.80000000000007)">R (Å)</text>
<text x="604.00" y="312.60" font-size="8.8" text-anchor="start" fill="#fff" font-weight="bold">fcc-Ru<tspan font-size="5.81" dy="2.82">1</tspan><tspan dy="-2.82">Co</tspan></text>
<text x="566.30" y="374.30" font-size="9" text-anchor="start" fill="#fff" font-weight="bold">Ru-Co</text>
<clipPath id="clipi"><rect x="0" y="0" width="141.2" height="119.4"/></clipPath>
<g transform="translate(508.9 451.3)" clip-path="url(#clipi)">
<rect x="0" y="0" width="141.2" height="119.4" fill="#0d0ffd"/>
<path d="M51 -3l3 0l3 0l3 0l3 0l3 0l3 0l3 0l3-0.1l3 0l3 0l3 0l3 0l3 0l3 0l3 0l3 0l3 0l3 0l3 0l3 0l3 0l3 0l3 0.1l3 0l3 0l3 0l3 0l0.1 0l0.4 3l0.4 3l0.3 3l0.3 3l0.2 3l0.3 3l0.2 3l0.3 3l0.4 3l0.1 1.3l0.3 1.7l0.6 3l0.6 3l1.2 3l0.3 0.4l2.4-0.4l0.6-0.2l1.2-2.8l0.7-3l0.8-3l0.3-1.2l0 1.2l0 3l0 3l0 3l0 3l0 3l0.1 3l0 3l0 3l0 3l0 3l0 3l0 3l0 3l0 3l0 3l0 3l0 3l0 3l0 3l-0.1 3l0 3l0 3l0 3l0 3l0 3l0 3l0 3l0 3l0 3l0 1.4l-3 0.2l-3 0.3l-3 0.2l-3 0.2l-3 0.2l-3 0.1l-3 0.2l-3 0.1l-3 0.1l-0.5 0l-2.5 0.1l-3 0.1l-3 0.1l-3 0.1l-3 0l-3-0.1l-3-0.1l-3-0.1l-0.8-0.1l-2.2-0.1l-3-0.1l-3-0.2l-3-0.2l-3-0.3l-3-0.4l-3-0.4l-3-0.4l-3-0.6l-1.6-0.3l-1.4-0.1l-3-0.4l-3-0.3l-3-0.4l-3-0.4l-3-0.4l-3-0.4l-3-0.4l-1.9-0.2l-1.1-0.1l-3-0.3l-3-0.2l-3-0.3l-3-0.2l-3-0.3l-3-0.2l-3-0.1l-3-0.2l-3-0.2l-3-0.1l-3-0.1l-3-0.2l-3-0.1l-3-0.1l0-0.3l0-3l0-3l0-3l0-3l0-0.5l3 0l3 0l3-0.1l3 0l3 0l3 0l3 0l3-0.1l3 0l3-0.1l3-0.1l3 0l3-0.1l3-0.1l3-0.1l3-0.2l3-0.1l3-0.1l3-0.2l3-0.2l3-0.2l3-0.2l3-0.2l3-0.2l2.6-0.2l-2.6-0.2l-3-0.2l-3-0.2l-3-0.3l-3-0.2l-3-0.3l-3-0.3l-3-0.4l-3-0.3l-3-0.4l-1.2-0.2l-1.8-0.1l-3-0.2l-3-0.1l-3-0.2l-3-0.1l-3-0.2l-3-0.1l-3-0.2l-3-0.1l-3 0l-3-0.1l-3 0l-3 0l-3-0.1l-3 0l0-1.5l0-3l0-3l-0.1-3l0-3l0-3l0-3l0-3l0-3l0-3l0-3l0-3l0.1-3l0-3l0-3l0-1l3-0.1l3 0l3-0.1l3-0.1l3-0.1l3-0.2l3-0.3l3-0.2l3-0.3l3-0.4l1.8-0.2l1.2-0.2l3-0.5l3-0.5l3-0.5l3-0.5l3-0.6l1.3-0.2l1.7-1.7l1.3-1.3l-1.3-0.4l-3-0.9l-3-0.8l-3-0.6l-1.3-0.3l-1.7-0.3l-3-0.4l-3-0.4l-3-0.5l-3-0.4l-3-0.3l-3-0.4l-2.4-0.3l-0.6-0.1l-3-0.6l-3-0.6l-3-0.7l-3-0.7l-1.4-0.3l-1.6-2.4l-0.4-0.6l0.4-0.4l1.7-2.6l1.3-0.9l2.2-2.1l0.8-0.4l3-1.9l0.9-0.7l2.1-1l3-1.5l1-0.5l2-0.9l3-1.3l2.1-0.8l0.9-0.4l3-1.3l3-1l0.9-0.3l2.1-1l3-1.2l2.6-0.8l0.4-0.3l3-1.5l2.5-1.2l0.5-0.4l3-2.2l0.5-0.4z" fill="#172af9"/>
<path d="M72 -3l3 0l3 0l3 0l3 0l3-0.1l3 0l3 0l3 0l3 0l3 0l3 0l3 0.1l3 0l3 0l3 0l3 0l1.8 0l1.2 1.7l0.8 1.3l1.7 3l0.5 1l0.8 2l1 3l0.8 3l0.4 1.4l0.3 1.6l0.5 3l0.5 3l0.4 3l0.5 3l0.3 3l0.3 3l0.2 1l0.4 2l1.7 3l0.9 1.1l2.4 1.9l0.6 0.5l3 0.4l3-0.9l0 3l0 3l0.1 3l0 3l0 3l0 3l0 3l0 3l0 3l0 3l0 3l0 3l-0.1 3l0 3l0 3l0 1l-3 0.4l-3 0.4l-3 0.5l-3 0.4l-2.8 0.3l-0.2 0l-3 0.6l-3 0.4l-3 0.3l-3 0.2l-3 0.2l-3 0.1l-3 0.1l-3 0l-3 0l-3 0l-3 0l-3-0.1l-3 0l-3-0.1l-3-0.1l-3-0.2l-3-0.1l-3-0.2l-3-0.2l-3-0.3l-3-0.2l-3-0.3l-0.7-0.1l-2.3-0.1l-3-0.2l-3-0.1l-3-0.2l-3-0.2l-3-0.2l-3-0.2l-3-0.2l-3-0.3l-3-0.3l-3-0.2l-3-0.3l-3-0.3l-1.6-0.2l-1.4-0.2l-3-0.5l-3-0.5l-3-0.4l-3-0.4l-3-0.4l-3-0.4l-1.2-0.2l-1.8-0.4l-3-0.7l0-1.9l0-3l0-3l-0.1-3l0-3l0-3l0-3l0.1-3l0-3l0-3l0-2.7l0.9-0.3l2.1-0.6l3-0.7l3-0.7l3-0.5l1.9-0.5l1.1-0.2l3-0.6l3-0.7l3-0.7l3-0.6l0.9-0.2l2.1-0.4l3-0.6l3-0.5l3-0.5l3-0.5l3-0.5l0.1 0l2.9-0.6l3-0.7l3-0.6l3-0.6l2.1-0.5l0.9-0.8l2.5-2.2l-2.5-1.3l-3-1.3l-1.2-0.4l-1.8-0.5l-3-0.7l-3-0.6l-3-0.6l-2.9-0.6l-0.1 0l-3-0.8l-3-0.8l-3-0.9l-1.7-0.5l-1.3-0.7l-3-1.8l-0.7-0.5l-1.7-3l0.7-3l1.7-1.5l1.9-1.5l1.1-0.5l3-1.1l3-0.9l2.8-0.5l0.2 0l3-0.4l3-0.2l3-0.2l3-0.1l3-0.2l3-0.4l3-0.7l2-0.8l1-0.5l3-2.2l0.4-0.3l2.6-2.9l0.1-0.1l2.4-3l0.5-0.6l2-2.4zM66 95.9l3-0.2l3-0.1l3-0.1l3-0.2l3-0.1l3-0.1l3-0.1l3-0.2l3 0l3-0.1l3-0.1l3 0l3 0l3 0l3 0.1l3 0.1l3 0.1l3 0.1l3 0.2l3 0.2l3 0.3l2.4 0.3l0.6 0.1l3 0.5l3 0.5l3 0.5l3 0.5l0 0.9l0 3l0 2.6l-1 0.4l-2 0.4l-3 0.6l-3 0.5l-3 0.5l-3 0.5l-3 0.4l-0.8 0.1l-2.2 0.2l-3 0.3l-3 0.3l-3 0.2l-3 0.2l-3 0.1l-3 0.2l-3 0.1l-3 0.1l-3 0.1l-3 0l-3 0l-3 0l-3 0l-3 0l-3-0.1l-3-0.1l-3-0.1l-3-0.2l-3-0.2l-3-0.2l-3-0.2l-3-0.2l-3-0.3l-2.8-0.2l-0.2 0l-3-0.3l-3-0.3l-3-0.4l-3-0.3l-3-0.3l-3-0.3l-3-0.4l-3-0.3l-3-0.4l-0.3 0l-2.7-0.6l-3-0.8l-3-0.8l-3-0.8l-0.1 0l0.1-0.1l3-1.9l1.8-1l1.2-0.1l3-0.2l3-0.3l3-0.2l3-0.2l3-0.2l3-0.2l3-0.1l3-0.2l3-0.2l3-0.2l3-0.2l3-0.1l3-0.2l3-0.2l3-0.2l0.8 0z" fill="#2754f4"/>
<path d="M84 -3l3 0l3 0l3 0l3 0l3 0l3 0l3 0l3 0l3 0l0.6 0l2.4 2.2l0.7 0.8l2.3 2.8l0.1 0.2l2 3l0.9 1.6l0.8 1.4l1.3 3l0.9 2.3l0.3 0.7l0.9 3l0.9 3l0.7 3l0.2 0.8l0.4 2.2l0.3 3l0.2 3l0.9 3l1.2 1.5l1 1.5l2 2l0.9 1l2.1 1.9l1.4 1.1l1.6 1.2l3 1.2l3 0.4l0 0.2l0 3l0 3l0 3l0.1 3l0 3l0 3l0 3l-0.1 3l0 3l0 3l0 3l0 0.2l-3 1.6l-2.5 1.2l-0.5 0.2l-3 1.3l-3 1l-2 0.5l-1 0.2l-3 0.6l-3 0.4l-3 0.4l-3 0.3l-3 0.2l-3 0.2l-3 0.1l-3 0.1l-3 0.1l-3 0.1l-3 0l-3 0.1l-3 0l-3 0l-3-0.1l-3 0l-3-0.1l-3-0.1l-3 0l-3-0.2l-3-0.1l-3-0.1l-3-0.2l-3-0.2l-3-0.1l-3-0.3l-3-0.2l-3-0.3l-3-0.3l-3-0.3l-2.1-0.2l-0.9-0.1l-3-0.5l-3-0.6l-3-0.6l-3-0.7l-2.1-0.5l-0.9-0.3l-3-0.9l-3-1.1l-2.2-0.7l-0.8-0.2l-3-0.8l-3-0.6l-3-0.8l-2-0.6l-1-0.3l-3-1l0-1.7l0-3l0-3l0-3l0-3l0-3l0-1.6l3-1.1l1-0.3l2-0.7l3-0.9l3-0.8l1.9-0.6l1.1-0.4l3-1.4l2.3-1.2l0.7-0.3l3-1.4l3-1.2l0.2-0.1l2.8-0.9l3-0.8l3-0.8l2.1-0.5l0.9-0.2l3-0.6l3-0.6l3-0.6l3-0.5l3-0.5l3-0.7l3-0.7l3-0.7l3-0.7l0.7-0.2l2.3-2l1.2-1l-1.2-1l-2.9-2l-0.1 0l-3-1.2l-3-1l-3-0.8l-3-1.1l-3-0.9l-3-0.9l-0.4-0.1l-2.6-1.5l-3-1.5l0-0.1l-1.5-2.9l1.5-1.2l3-1.4l1.9-0.4l1.1-0.1l3-0.2l3-0.2l3-0.2l3-0.4l3-0.6l3-0.9l0.8-0.4l2.2-1.2l2.4-1.8l0.6-0.6l2.1-2.4l0.9-1.1l1.4-1.9l1.6-2l0.8-1l2.2-2.6l0.4-0.4l2.6-2.5l0.6-0.5zM63 99l3-0.2l3-0.1l3-0.1l3 0l3-0.1l3 0l3-0.1l3 0.1l3 0l3 0.1l3 0.1l3 0.1l3 0.2l0.3 0l2.7 1.2l3 1.5l0.5 0.3l-0.5 0.1l-3 0.7l-3 0.5l-3 0.5l-3 0.3l-3 0.3l-3 0.3l-3 0.1l-3 0.1l-3 0.1l-3-0.1l-3-0.1l-3-0.2l-3-0.2l-3-0.3l-3-0.4l-3-0.4l-3-0.5l-3-0.5l-1.7-0.3l1.7-0.6l3-0.9l3-0.9l2.2-0.6z" fill="#3d7ef2"/>
<path d="M90 -1l3-1l3-0.4l3 0.2l3 0.7l3 1.3l0.4 0.2l2.6 1.7l1.4 1.3l1.6 1.6l1.2 1.4l1.8 2.7l0.2 0.3l1.6 3l1.2 2.8l0.1 0.2l1.1 3l0.8 3l0.7 3l0.3 2.1l0.1 0.9l0.1 3l-0.1 3l0.9 3l2 1.6l1.5 1.4l1.5 0.8l3 2.1l0.1 0.1l2.9 2.3l0.8 0.7l2.2 2l1.2 1l1.8 1.7l2.1 1.3l0.9 0.7l3 2l0 0.3l0 3l0 3l0 3l0 3l0 3l0 3l0 2.6l-0.3 0.4l-2.7 2.6l-0.5 0.4l-2.5 1.8l-1.8 1.2l-1.2 0.7l-3 1.6l-1.8 0.7l-1.2 0.5l-3 0.9l-3 0.7l-3 0.5l-2.3 0.4l-0.7 0.1l-3 0.4l-3 0.3l-3 0.3l-3 0.2l-3 0.1l-3 0.2l-3 0.1l-3 0l-3 0.1l-3 0l-3 0l-3 0l-3-0.1l-3-0.1l-3-0.1l-3-0.1l-3-0.1l-3-0.2l-3-0.1l-3-0.3l-3-0.2l-3-0.2l-2.7-0.3l-0.3 0l-3-0.4l-3-0.5l-3-0.5l-3-0.5l-3-0.7l-1.7-0.4l-1.3-0.4l-3-1l-3-1.1l-1.3-0.5l-1.7-0.7l-3-1.2l-2.8-1.1l-0.2-0.1l-3-1.1l-3-0.9l-3-0.8l-0.2-0.1l-2.8-1.1l-3-1.3l-1-0.6l-2-2.1l0-0.9l0-3l0-0.6l2.6-2.4l0.4-0.2l3-1.4l3-1.1l0.7-0.3l2.3-0.7l3-1.1l2.4-1.2l0.6-0.3l3-1.7l1.6-1l1.4-0.9l3-1.7l0.7-0.4l2.3-1.2l3-1.3l1.4-0.5l1.6-0.5l3-0.9l3-0.8l3-0.7l0.5-0.1l2.5-0.5l3-0.6l3-0.6l3-0.6l3-0.5l1.3-0.2l1.7-0.4l3-0.8l3-0.7l3-0.8l1.2-0.3l1.8-1.5l1.7-1.5l-1.7-2l-1-1l-2-1.2l-3-1.6l-0.6-0.2l-2.4-1.8l-2.1-1.2l-0.2-3l2.3-1.3l2.8-1.7l0.2-0.1l3-1.8l1.5-1.1l1.5-1.2l1.8-1.8l1.2-1.4l1.3-1.6l1.7-2.3l0.5-0.7l2.4-3l0.1-0.2l2.8-2.8l0.2-0.2l3-2.3l1-0.5z" fill="#53a6f3"/>
<path d="M90 5.5l3-1.3l3-0.5l3 0.2l3 1l2 1.1l1 0.6l2.5 2.4l0.5 0.6l1.7 2.4l1.3 2.3l0.4 0.7l1.1 3l0.9 3l0.6 2.9l0 0.1l0.3 3l-0.2 3l-0.1 0.4l-0.5 2.6l0.5 3l3 2.4l0.8 0.6l2.2 0.9l3 1.4l1.2 0.7l1.8 0.8l3 1.8l0.5 0.4l2.5 2l1.1 1l1.9 2l1.1 1l1.9 2.3l0.8 0.7l2.1 3l0.1 0.2l1.3 2.8l0.6 3l0 3l-0.5 3l-1.4 2.9l0 0.1l-2.2 3l-0.8 0.8l-2.5 2.2l-0.5 0.4l-3 2l-1.2 0.6l-1.8 0.9l-3 1.2l-3 0.9l-0.1 0l-2.9 0.8l-3 0.6l-3 0.5l-3 0.5l-3 0.3l-3 0.3l-3 0.2l-3 0.2l-3 0.2l-3 0.1l-3 0.1l-3 0l-3 0l-3 0l-3 0l-3-0.1l-3-0.1l-3-0.1l-3-0.1l-3-0.2l-2.7-0.2l-0.3 0l-3-0.3l-3-0.3l-3-0.3l-3-0.4l-3-0.5l-3-0.6l-3-0.6l-3-0.8l-3-0.9l-3-1.1l-0.5-0.2l-2.5-1l-3-1.2l-1.7-0.8l-1.3-0.6l-3-1.4l-2.1-1l-0.9-0.5l-3-1.6l-2-0.9l-1-0.8l-3-2.1l-0.1-0.1l0.1-0.6l0.3-2.4l2.7-1.7l1.7-1.3l1.3-0.6l3-1.8l0.8-0.6l2.2-1.3l2.5-1.7l0.5-0.3l3-2.1l0.9-0.6l2.1-1.3l3-1.7l3-1.4l3-1.2l1.2-0.4l1.8-0.5l3-0.9l3-0.7l3-0.7l1-0.2l2-0.4l3-0.6l3-0.6l3-0.5l3-0.6l1.8-0.3l1.2-0.3l3-0.8l3-0.8l3-0.8l1.2-0.3l1.8-1.4l2-1.6l-2-2.9l-0.1-0.1l-2.9-2.3l-1-0.7l-2-3l1-3l2-2.2l0.7-0.8l2.3-2.6l0.3-0.4l2.4-3l0.3-0.4l1.9-2.6l1.1-1.3l1.6-1.7l1.4-1.4l2.2-1.6z" fill="#6acbf9"/>
<path d="M93 11.3l3-0.7l3 0.3l2.4 1.1l0.6 0.4l2.6 2.6l0.4 0.5l1.4 2.5l1.1 3l0.5 1.9l0.2 1.1l0.2 3l-0.4 2l-0.2 1l-1.4 3l-0.1 3l1.7 1l3 2l3 1.1l3 1.2l1.5 0.7l1.5 0.5l3 1.2l2.6 1.3l0.4 0.2l3 1.8l1.2 1l1.8 1.6l1.4 1.4l1.6 2.1l0.7 0.9l1.8 3l0.5 1.6l0.6 1.4l0.6 3l0 3l-0.5 3l-0.7 1.6l-0.6 1.4l-2.3 3l-0.1 0.1l-3 2.6l-0.4 0.3l-2.6 1.6l-3 1.3l-0.2 0.1l-2.8 1.1l-3 0.9l-3 0.7l-1.2 0.3l-1.8 0.4l-3 0.5l-3 0.5l-3 0.4l-3 0.3l-3 0.2l-3 0.2l-3 0.2l-3 0.1l-3 0.1l-3 0l-3 0l-3 0l-3-0.1l-3-0.1l-3-0.1l-3-0.2l-3-0.2l-3-0.3l-3-0.3l-3-0.4l-3-0.4l-3-0.5l-1.8-0.3l-1.2-0.2l-3-0.7l-3-0.9l-3-0.9l-0.8-0.3l-2.2-0.8l-3-1.2l-2.3-1l-0.7-0.3l-3-1.5l-2.3-1.2l-0.7-0.5l-3-2l-0.9-0.5l-2.1-2.5l-0.5-0.5l0.2-3l0.3-0.3l2.3-2.7l0.7-0.5l2.9-2.5l0.1 0l3-2.3l0.9-0.7l2.1-1.5l2.2-1.5l0.8-0.5l3-1.7l1.6-0.8l1.4-0.6l3-1.3l3-1l0.3-0.1l2.7-0.8l3-0.7l3-0.7l3-0.6l0.9-0.2l2.1-0.4l3-0.6l3-0.6l3-0.5l3-0.6l1.9-0.3l1.1-0.3l3-0.8l3-0.8l3-0.7l1.6-0.4l1.4-1l3-1.9l0.3-0.1l-0.3-0.4l-1.6-2.6l-1.4-1.1l-2.3-1.9l-0.7-1.4l-0.8-1.6l0.8-2.6l0.1-0.4l2-3l0.9-1.2l1.4-1.8l1.6-2l1-1l2-1.9l1.7-1.1z" fill="#80f0fe"/>
<path d="M93 22.1l3-1l3 1.9l0.6 1l0.2 3l-0.8 1.2l-2.9 1.8l-0.1 0l-0.2 0l-2.8-0.4l-3-2.5l-0.1-0.1l0.1-0.2l1-2.8zM93 38.6l3-0.4l3 0.2l2.6 0.6l0.4 0l3 0.6l3 0.7l3 1l1.8 0.7l1.2 0.3l3 1l3 1.2l1.2 0.5l1.8 0.8l3 1.5l1.1 0.7l1.9 1.3l1.8 1.7l1.2 1.3l1.3 1.7l1.6 3l0.1 0.2l1 2.8l0.4 3l0 3l-0.5 3l-0.9 1.9l-0.5 1.1l-2.5 3l-3 2.3l-1.1 0.7l-1.9 1l-3 1.2l-2.2 0.8l-0.8 0.3l-3 0.9l-3 0.7l-3 0.7l-2.6 0.4l-0.4 0.1l-3 0.4l-3 0.4l-3 0.3l-3 0.3l-3 0.1l-3 0.2l-3 0.1l-3 0l-3 0l-3 0l-3-0.1l-3-0.1l-3-0.1l-3-0.2l-3-0.3l-3-0.3l-3-0.3l-3-0.4l-0.4-0.1l-2.6-0.4l-3-0.6l-3-0.7l-3-0.9l-1.4-0.4l-1.6-0.5l-3-1l-3-1.2l-0.6-0.3l-2.4-1.1l-3-1.6l-0.6-0.3l-2.4-1.6l-1.9-1.4l-1.1-1.4l-1.2-1.6l0-3l1.2-1.7l0.8-1.3l2.2-2.1l0.9-0.9l2.1-1.6l1.7-1.4l1.3-0.9l3-2.1l0.1 0l2.9-1.7l2.7-1.3l0.3-0.1l3-1.2l3-1.1l2.1-0.6l0.9-0.2l3-0.8l3-0.7l3-0.6l3-0.6l0.6-0.1l2.4-0.5l3-0.5l3-0.6l3-0.5l3-0.6l2-0.3l1-0.3l3-0.7l3-0.7l3-0.6l3-0.5l1.8-0.2z" fill="#80f4e5"/>
<path d="M84 42l3-0.6l3-0.4l3-0.3l3-0.1l3 0.1l3 0.4l3 0.6l1.2 0.3l1.8 0.4l3 0.7l3 0.9l2.6 1l0.4 0.1l3 1.2l3 1.3l0.7 0.4l2.3 1.3l2.3 1.7l0.7 0.7l2 2.3l1 1.6l0.8 1.4l0.9 3l0.4 3l-0.1 3l-0.6 3l-1.4 2.8l-0.1 0.2l-2.8 3l-0.1 0l-3 2l-1.9 1l-1.1 0.5l-3 1.2l-3 1l-1.1 0.3l-1.9 0.5l-3 0.7l-3 0.6l-3 0.5l-3 0.5l-2.1 0.2l-0.9 0.1l-3 0.3l-3 0.2l-3 0.2l-3 0.1l-3 0.1l-3 0l-3-0.1l-3 0l-3-0.2l-3-0.1l-3-0.2l-3-0.3l-0.8-0.1l-2.2-0.2l-3-0.5l-3-0.4l-3-0.6l-3-0.7l-2.2-0.6l-0.8-0.2l-3-0.9l-3-1l-2.3-0.9l-0.7-0.3l-3-1.4l-2.5-1.3l-0.5-0.3l-3-2.1l-0.8-0.6l-2.2-3l-0.1-3l0.1-0.1l1.6-2.9l1.4-1.4l1.4-1.6l1.6-1.3l2.1-1.7l0.9-0.7l3-2l0.5-0.3l2.5-1.3l3-1.4l0.6-0.3l2.4-0.9l3-1l3-0.9l0.7-0.2l2.3-0.6l3-0.6l3-0.7l3-0.5l3-0.6l0.3 0l2.7-0.5l3-0.6l3-0.5l3-0.5l3-0.5l2.9-0.4z" fill="#80f7cc"/>
<path d="M75 44.5l3-0.5l3-0.5l3-0.4l3-0.3l3-0.3l3-0.2l3 0l3 0.1l3 0.3l3 0.5l3 0.7l3 0.8l0.9 0.3l2.1 0.6l3 1.1l3 1.3l3 1.5l2.4 1.5l0.6 0.4l2.7 2.6l0.3 0.4l1.6 2.6l1 3l0.3 3l-0.1 3l-0.7 3l-1.7 3l-0.4 0.4l-2.9 2.6l-0.1 0l-3 1.8l-2.6 1.2l-0.4 0.2l-3 1.1l-3 0.9l-3 0.7l-0.2 0.1l-2.8 0.6l-3 0.6l-3 0.5l-3 0.4l-3 0.3l-3 0.2l-3 0.2l-3 0.1l-3 0.1l-1.2 0l-1.8 0l-1.6 0l-1.4 0l-3-0.1l-3-0.1l-3-0.2l-3-0.3l-3-0.3l-3-0.3l-3-0.5l-3-0.6l-2.9-0.6l-0.1 0l-3-0.8l-3-0.8l-3-1l-1.1-0.4l-1.9-0.8l-3-1.3l-1.7-0.9l-1.3-0.8l-3-2.1l-0.1-0.1l-2.2-3l-0.2-3l1.5-3l1-1.1l1.7-1.9l1.3-1.1l2.2-1.9l0.8-0.5l3-2l0.9-0.5l2.1-1.1l3-1.4l1.3-0.5l1.7-0.6l3-1l3-0.8l2.3-0.6l0.7-0.2l3-0.6l3-0.6l3-0.6l3-0.5l3-0.5z" fill="#6df49f"/>
<path d="M81 44.6l3-0.4l3-0.3l3-0.2l3-0.2l3 0.1l3 0.2l3 0.3l3 0.6l1.5 0.3l1.5 0.3l3 0.8l3 1l2.3 0.9l0.7 0.3l3 1.4l2.4 1.3l0.6 0.4l3 2.3l0.3 0.3l2.2 3l0.5 1.5l0.5 1.5l0.3 3l-0.2 3l-0.6 2.3l-0.2 0.7l-2 3l-0.8 0.7l-2.9 2.3l-0.1 0l-3 1.6l-3 1.3l-0.3 0.1l-2.7 0.9l-3 0.9l-3 0.7l-2.7 0.5l-0.3 0.1l-3 0.5l-3 0.4l-3 0.4l-3 0.2l-3 0.2l-3 0.2l-3 0.1l-3 0l-3-0.1l-3 0l-3-0.2l-3-0.2l-3-0.3l-3-0.3l-3-0.4l-3-0.6l-0.2 0l-2.8-0.6l-3-0.6l-3-0.9l-3-0.9l-3-1.2l-3-1.3l-1.1-0.5l-1.9-1.2l-2.6-1.8l-0.4-0.5l-1.9-2.5l-0.2-3l1.3-3l0.8-1l1.7-2l1.3-1.1l2.2-1.9l0.8-0.5l3-1.9l1.1-0.6l1.9-0.9l3-1.3l2-0.8l1-0.3l3-1l3-0.8l3-0.7l1-0.2l2-0.4l3-0.6l3-0.5l3-0.5l3-0.5l3-0.4l0.4-0.1z" fill="#55f06e"/>
<path d="M90 44.8l3 0l3 0l2.1 0.2l0.9 0.1l3 0.3l3 0.5l3 0.7l3 0.9l1.4 0.5l1.6 0.6l3 1.2l2.4 1.2l0.6 0.4l3 2.1l0.7 0.5l2.3 2.8l0.2 0.2l1.1 3l0.3 3l-0.2 3l-0.9 3l-0.5 0.7l-1.8 2.3l-1.2 1l-3 2l-3 1.4l-3 1.2l-1.2 0.4l-1.8 0.6l-3 0.7l-3 0.7l-3 0.5l-3 0.5l-0.3 0l-2.7 0.3l-3 0.3l-3 0.3l-3 0.1l-3 0.1l-3 0l-3 0l-3-0.1l-3-0.2l-3-0.2l-3-0.3l-2.4-0.3l-0.6-0.1l-3-0.4l-3-0.6l-3-0.6l-3-0.8l-1.8-0.5l-1.2-0.4l-3-1.1l-3-1.2l-0.6-0.3l-2.4-1.5l-2.3-1.5l-0.7-0.8l-1.7-2.2l-0.3-3l1.2-3l0.8-1l1.6-2l1.4-1.2l2.1-1.8l0.9-0.5l3-1.8l1.2-0.7l1.8-0.8l3-1.2l2.7-1l0.3-0.1l3-0.9l3-0.7l3-0.7l2.8-0.6l0.2 0l3-0.6l3-0.5l3-0.5l3-0.4l3-0.4l3-0.3l3-0.3l0.6 0z" fill="#3aed35"/>
<path d="M72 47.8l3-0.4l3-0.5l3-0.3l3-0.3l3-0.3l3-0.1l3 0l3 0l3 0.3l3 0.4l3 0.6l3 0.7l0.2 0.1l2.8 0.9l3 1.1l2.2 1l0.8 0.4l3 1.9l1 0.7l2 2.1l0.8 0.9l1.3 3l0.3 3l-0.2 3l-1.1 3l-1.1 1.4l-1.4 1.6l-1.6 1.1l-3 1.9l-3 1.3l-3 1l-2.2 0.7l-0.8 0.2l-3 0.7l-3 0.6l-3 0.5l-3 0.4l-3 0.3l-3 0.2l-1.5 0.1l-1.5 0.1l-3 0.1l-3 0l-3 0l-3-0.1l-1-0.1l-2-0.1l-3-0.3l-3-0.3l-3-0.4l-3-0.5l-3-0.6l-3-0.7l-0.5-0.1l-2.5-0.8l-3-1l-3-1.2l-0.1 0l-2.9-1.7l-2.1-1.3l-0.9-1.1l-1.6-1.9l-0.4-3l1.1-3l0.9-1.2l1.4-1.8l1.6-1.3l2-1.7l1-0.6l3-1.7l1.3-0.7l1.7-0.7l3-1.1l3-1.1l0.5-0.1l2.5-0.7l3-0.7l3-0.6l3-0.6l2.1-0.4z" fill="#38ed1b"/>
<path d="M78 47.9l3-0.4l3-0.3l3-0.2l3-0.1l3 0l3 0.1l3 0.3l3 0.5l1.1 0.2l1.9 0.4l3 0.8l3 1l2 0.8l1 0.5l3 1.6l1.3 0.9l1.7 1.6l1.4 1.4l1.4 3l0.2 1.5l0.2 1.5l-0.2 1.6l-0.1 1.4l-1.2 3l-1.7 1.9l-1.1 1.1l-1.9 1.3l-3 1.6l-0.1 0.1l-2.9 1.1l-3 1l-3 0.8l-0.6 0.1l-2.4 0.5l-3 0.5l-3 0.4l-3 0.4l-3 0.2l-3 0.2l-3 0.1l-3 0l-3 0l-3-0.2l-3-0.1l-3-0.3l-3-0.4l-3-0.4l-3-0.5l-1.7-0.4l-1.3-0.3l-3-0.8l-3-1l-2.5-0.9l-0.5-0.2l-3-1.7l-1.9-1.1l-1.1-1.2l-1.5-1.8l-0.5-3l0.9-3l1.1-1.4l1.2-1.6l1.8-1.5l1.9-1.5l1.1-0.7l3-1.6l1.5-0.7l1.5-0.6l3-1.1l3-0.9l1.4-0.4l1.6-0.4l3-0.7l3-0.6l3-0.5l3-0.5l2.2-0.3z" fill="#4fee1f"/>
<path d="M90 47.9l3 0.1l0.8 0l2.2 0.1l3 0.3l3 0.5l3 0.7l3 0.9l1.5 0.5l1.5 0.6l3 1.5l1.6 0.9l1.4 1.2l1.9 1.8l1.1 2l0.5 1l0.4 3l-0.4 3l-0.5 1.2l-0.8 1.8l-2.2 2.3l-0.8 0.7l-2.2 1.3l-3 1.5l-0.4 0.2l-2.6 0.9l-3 0.8l-3 0.8l-2.8 0.5l-0.2 0l-3 0.5l-3 0.3l-3 0.3l-3 0.2l-3 0.1l-3 0l-3 0l-3-0.2l-3-0.2l-3-0.3l-3-0.3l-2.3-0.4l-0.7-0.1l-3-0.7l-3-0.7l-3-0.9l-1.9-0.6l-1.1-0.5l-3-1.5l-1.7-1l-1.3-1.3l-1.5-1.7l-0.6-3l0.8-3l1.3-1.7l0.9-1.3l2.1-1.7l1.7-1.3l1.3-0.7l3-1.5l1.7-0.8l1.3-0.5l3-0.9l3-0.9l2.7-0.7l0.3-0.1l3-0.6l3-0.6l3-0.4l3-0.5l3-0.3l3-0.3l3-0.2l0.4 0z" fill="#69f024"/>
<path d="M72 50.7l3-0.5l3-0.4l3-0.4l3-0.2l3-0.2l3-0.1l3 0.1l3 0.2l3 0.4l3 0.5l3 0.7l0.6 0.2l2.4 0.8l3 1.3l1.7 0.9l1.3 1l2.4 2l0.6 1l1.1 2l0.4 3l-0.4 3l-1.1 2.5l-0.3 0.5l-2.7 2.6l-0.5 0.4l-2.5 1.3l-3 1.3l-0.9 0.4l-2.1 0.6l-3 0.8l-3 0.6l-3 0.5l-3 0.4l-0.9 0.1l-2.1 0.2l-3 0.2l-3 0.1l-3 0l-3 0l-3-0.2l-3-0.2l-0.9-0.1l-2.1-0.2l-3-0.5l-3-0.5l-3-0.7l-3-0.8l-1-0.3l-2-0.8l-3-1.4l-1.5-0.8l-1.5-1.4l-1.5-1.6l-0.7-3l0.7-3l1.5-2l0.7-1l2.3-1.8l1.6-1.2l1.4-0.7l3-1.4l2.1-0.9l0.9-0.3l3-0.9l3-0.8l3-0.7l1.4-0.3z" fill="#98f030"/>
<path d="M78 50.7l3-0.3l3-0.3l3-0.1l3-0.1l3 0.1l3 0.3l3 0.4l1.7 0.3l1.3 0.3l3 0.9l3 1.1l1.6 0.7l1.4 0.9l2.8 2.1l0.2 0.2l1.7 2.8l0.4 3l-0.4 3l-1.5 3l-0.2 0.2l-3 2.5l-0.4 0.3l-2.6 1.2l-3 1.2l-1.8 0.6l-1.2 0.3l-3 0.7l-3 0.5l-3 0.4l-3 0.3l-3 0.2l-3 0.2l-3 0l-3-0.1l-3-0.1l-3-0.3l-3-0.4l-3-0.4l-3-0.6l-2.8-0.7l-0.2-0.1l-3-1.1l-3-1.2l-1.1-0.6l-1.9-1.6l-1.5-1.4l-0.8-3l0.7-3l1.6-2.3l0.5-0.7l2.5-1.9l1.6-1.1l1.4-0.6l3-1.3l2.7-1.1l0.3-0.1l3-0.8l3-0.7l3-0.7l3-0.5l1.1-0.2z" fill="#c3f039"/>
<path d="M87 51l3 0l1.3 0l1.7 0.1l3 0.3l3 0.5l3 0.7l3 0.9l1.3 0.5l1.7 0.9l3 2l0.1 0.1l2.1 3l0.5 3l-0.5 3l-1.7 3l-0.5 0.4l-3 2.3l-0.5 0.3l-2.5 1l-3 1.1l-3 0.8l-0.3 0.1l-2.7 0.5l-3 0.4l-3 0.4l-3 0.2l-3 0.1l-3 0l-3-0.1l-3-0.1l-3-0.3l-3-0.4l-3-0.5l-0.9-0.2l-2.1-0.6l-3-1l-3-1.1l-0.7-0.3l-2.3-1.8l-1.3-1.2l-1-3l0.6-3l1.7-2.4l0.4-0.6l2.6-1.8l1.8-1.2l1.2-0.5l3-1.2l3-1.1l0.7-0.2l2.3-0.6l3-0.6l3-0.6l3-0.4l3-0.4l3-0.3l2.3-0.1z" fill="#e7f03f"/>
<path d="M72 53.8l3-0.5l3-0.5l3-0.4l3-0.2l3-0.1l3 0l3 0.1l3 0.4l3 0.5l3 0.8l0.4 0.1l2.6 1.2l3 1.6l0.2 0.2l2.4 3l0.4 2.2l0.1 0.8l-0.1 0.8l-0.4 2.2l-1.9 3l-0.7 0.5l-3 2l-0.9 0.5l-2.1 0.8l-3 0.9l-3 0.7l-3 0.5l-0.4 0.1l-2.6 0.3l-3 0.2l-3 0.1l-3 0.1l-3-0.1l-3-0.2l-3-0.3l-0.5-0.1l-2.5-0.4l-3-0.7l-3-0.9l-2.9-1l-0.1-0.1l-3-2l-1.1-0.9l-1.1-3l0.5-3l1.7-2.4l0.4-0.6l2.6-1.7l2.1-1.3l0.9-0.4l3-1l3-1l2.2-0.6z" fill="#f0cf40"/>
<path d="M78 53.8l3-0.3l3-0.2l3-0.1l3 0l3 0.2l3 0.4l1.2 0.2l1.8 0.5l3 1.1l3 1.4l2.8 3l0.2 0.8l0.4 2.2l-0.4 2.1l-0.2 0.9l-2.1 3l-0.7 0.4l-3 1.8l-1.8 0.8l-1.2 0.4l-3 0.7l-3 0.6l-3 0.5l-3 0.2l-3 0.2l-3 0l-3-0.1l-3-0.3l-3-0.4l-3-0.6l-3-0.7l-1.6-0.5l-1.4-0.7l-3-1.9l-0.6-0.4l-1.4-3l0.4-3l1.6-2.2l0.6-0.8l2.4-1.4l2.8-1.6l0.2-0.1l3-1l3-0.8l3-0.7l2-0.4z" fill="#f4a838"/>
<path d="M72 56.4l3-0.7l3-0.5l3-0.5l3-0.3l3-0.1l3 0.1l3 0.3l3 0.6l3 0.8l2.3 0.9l0.7 0.5l2.8 2.5l0.2 1l0.4 2l-0.4 2l-0.2 1l-2.5 3l-0.3 0.2l-3 1.4l-3 1.2l-0.6 0.2l-2.4 0.5l-3 0.4l-3 0.3l-3 0.2l-3 0l-3-0.2l-3-0.3l-3-0.4l-2.4-0.5l-0.6-0.2l-3-1.3l-2.8-1.5l-0.2-0.3l-1.5-2.7l0.3-3l1.2-1.6l1.1-1.4l1.9-1l3-1.5l1-0.5z" fill="#f9832d"/>
<path d="M78 56.5l3-0.4l3-0.3l3 0l3 0.1l3 0.4l3 0.6l0.4 0.1l2.6 1.4l2.2 1.6l0.8 2.6l0.1 0.4l-0.1 0.4l-0.7 2.6l-2.3 2.3l-0.8 0.7l-2.2 0.9l-3 1l-3 0.7l-2.9 0.4l-0.1 0l-3 0.2l-3-0.1l-2.7-0.1l-0.3 0l-3-0.5l-3-0.8l-3-1.1l-1.3-0.6l-1.7-2.1l-0.6-0.9l0.1-3l0.5-0.6l2.1-2.4l0.9-0.4l3-1.4l3-1.1l0.4-0.1z" fill="#fe5d23"/>
<path d="M75 59.3l3-0.9l3-0.6l3-0.4l3-0.1l3 0.3l3 0.8l3 1.2l0.7 0.4l1.3 3l-1 3l-1 0.9l-3 2l-0.2 0.1l-2.8 0.7l-3 0.4l-3 0.2l-3 0l-3-0.3l-3-0.6l-1.5-0.4l-1.5-1.1l-1.9-1.9l-0.1-3l2-2.1l1-0.9z" fill="#ff411b"/>
<path d="M84 59.8l3 0l1.6 0.2l1.4 0.7l2.3 2.3l-1.6 3l-0.7 0.3l-3 1l-3 0.3l-3-0.2l-3-0.8l-1.1-0.6l-0.7-3l1.8-1.3l3-1.6l0.5-0.1z" fill="#ff2b14"/>
<path d="M104.8 -3l0.2 0.1l3 1.7l1.5 1.2l1.5 1.3l1.6 1.7l1.4 1.7l0.9 1.3l1.9 3l0.2 0.5l1.3 2.5l1.2 3l0.5 1.5l0.5 1.5l0.9 3l0.7 3l0.6 3l0.2 3l0.1 3l0 0.2l0.9 2.8l2.1 1.9l1 1.1l2 1.4l1.7 1.6l1.3 1.1l2.1 1.9l0.9 0.9l2.7 2.1l0.3 0.3l3 1.7l2.6 1l0.4 0.2M-3 62.1l3-1.5l1.3-0.6l1.7-0.6l3-1l3-0.8l1.6-0.6l1.4-0.5l3-1.5l1.9-1l1.1-0.6l3-1.8l1.1-0.6l1.9-0.9l3-1.4l1.7-0.7l1.3-0.4l3-0.9l3-0.8l3-0.7l0.7-0.2l2.3-0.5l3-0.6l3-0.6l3-0.5l3-0.5l1.5-0.3l1.5-0.4l3-0.7l3-0.7l3-0.8l1.7-0.4l1.3-1.1l2.2-1.9l-2.2-2.2l-1-0.8l-2-1.1l-3-1.3l-1.7-0.6l-1.3-0.8l-3-1.4l-2.3-0.8l-0.7-1l-2.1-2l2.1-1.4l3-1.3l0.6-0.3l2.4-0.6l3-1l3-1.3l0.1-0.1l2.9-1.8l1.5-1.2l1.5-1.4l1.4-1.6l1.6-2l0.7-1l2.3-3l2.5-3l0.5-0.5l2.8-2.5l0.2-0.2l3-2l1.6-0.8M144 77.3l-0.8 0.7l-2.2 1.6l-2.2 1.4l-0.8 0.5l-3 1.7l-1.8 0.8l-1.2 0.5l-3 1.1l-3 0.7l-3 0.6l-0.5 0.1l-2.5 0.4l-3 0.4l-3 0.3l-3 0.3l-3 0.2l-3 0.2l-3 0.1l-3 0.1l-3 0.1l-3 0l-3 0.1l-3 0l-3 0l-3-0.1l-3 0l-3-0.1l-3-0.1l-3-0.1l-3-0.1l-3-0.2l-3-0.2l-3-0.2l-3-0.2l-3-0.2l-3-0.3l-3-0.3l-1.2-0.1l-1.8-0.2l-3-0.5l-3-0.5l-3-0.6l-3-0.7l-2.1-0.5l-0.9-0.3l-3-1l-3-1.1l-1.6-0.6l-1.4-0.5l-3-1.1l-3-1.1l-1.1-0.3l-1.9-0.5l-3-0.8l-3-0.8l-2.5-0.9l-0.5-0.2l-3-1.5" fill="none" stroke="#505050" stroke-opacity="0.4" stroke-width="0.5"/>
<path d="M81 41.3l3-0.6l3-0.7l3-0.4l3-0.4l3-0.1l3 0l3 0.3l3 0.6l3 0.8l3 1l0.6 0.2l2.4 0.7l3 1l3 1.2l0.3 0.1l2.7 1.1l3 1.6l0.5 0.3l2.5 1.8l1.3 1.2l1.7 1.9l0.9 1.1l1.6 3l0.5 1.6l0.5 1.4l0.4 3l0 3l-0.5 3l-0.4 0.8l-1 2.2l-2 2.4l-0.6 0.6l-2.4 1.9l-1.9 1.1l-1.1 0.6l-3 1.3l-3 1l-0.2 0.1l-2.8 0.9l-3 0.8l-3 0.6l-3 0.5l-1.2 0.2l-1.8 0.3l-3 0.4l-3 0.3l-3 0.2l-3 0.2l-3 0.2l-3 0.1l-3 0l-3 0l-3 0l-3-0.1l-3-0.1l-3-0.1l-3-0.2l-3-0.3l-3-0.3l-3-0.3l-1.9-0.3l-1.1-0.2l-3-0.5l-3-0.6l-3-0.7l-3-0.9l-0.4-0.1l-2.6-0.8l-3-1.1l-2.7-1.1l-0.3-0.1l-3-1.5l-2.8-1.4l-0.2-0.2l-3-2.1l-1.1-0.7l-1.9-2.6l-0.3-0.4l0-3l0.3-0.4l1.6-2.6l1.4-1.3l1.7-1.7l1.3-1.1l2.4-1.9l0.6-0.4l3-2.1l0.8-0.5l2.2-1.3l3-1.5l0.5-0.2l2.5-1l3-1.1l3-0.9l0.1 0l2.9-0.8l3-0.7l3-0.6l3-0.6l1.8-0.3l1.2-0.2l3-0.6l3-0.6l3-0.5l3-0.5l3-0.6l0.3 0z" fill="none" stroke="#505050" stroke-opacity="0.4" stroke-width="0.5"/>
<path d="M72 47.8l3-0.4l3-0.5l3-0.3l3-0.3l3-0.3l3-0.1l3 0l3 0l3 0.3l3 0.4l3 0.6l3 0.7l0.2 0.1l2.8 0.9l3 1.1l2.2 1l0.8 0.4l3 1.9l1 0.7l2 2.1l0.8 0.9l1.3 3l0.3 3l-0.2 3l-1.1 3l-1.1 1.4l-1.4 1.6l-1.6 1.1l-3 1.9l-3 1.3l-3 1l-2.2 0.7l-0.8 0.2l-3 0.7l-3 0.6l-3 0.5l-3 0.4l-3 0.3l-3 0.2l-1.5 0.1l-1.5 0.1l-3 0.1l-3 0l-3 0l-3-0.1l-1-0.1l-2-0.1l-3-0.3l-3-0.3l-3-0.4l-3-0.5l-3-0.6l-3-0.7l-0.5-0.1l-2.5-0.8l-3-1l-3-1.2l-0.1 0l-2.9-1.7l-2.1-1.3l-0.9-1.1l-1.6-1.9l-0.4-3l1.1-3l0.9-1.2l1.4-1.8l1.6-1.3l2-1.7l1-0.6l3-1.7l1.3-0.7l1.7-0.7l3-1.1l3-1.1l0.5-0.1l2.5-0.7l3-0.7l3-0.6l3-0.6l2.1-0.4z" fill="none" stroke="#505050" stroke-opacity="0.4" stroke-width="0.5"/>
<path d="M84 50.9l3-0.1l3-0.1l3 0.2l1.6 0.1l1.4 0.1l3 0.5l3 0.7l3 0.9l2 0.8l1 0.5l3 2l0.7 0.5l2 3l0.3 1.7l0.2 1.3l-0.2 1.3l-0.3 1.7l-1.6 3l-1.1 0.9l-2.8 2.1l-0.2 0.1l-3 1.2l-3 1l-2.3 0.7l-0.7 0.2l-3 0.5l-3 0.4l-3 0.4l-3 0.2l-3 0.1l-3 0l-3-0.1l-3-0.1l-3-0.3l-3-0.4l-3-0.5l-2-0.4l-1-0.3l-3-1l-3-1.1l-1.4-0.6l-1.6-1.3l-2-1.7l-0.9-3l0.6-3l2.1-3l0.2-0.1l3-2.2l1.1-0.7l1.9-0.8l3-1.2l2.8-1l0.2-0.1l3-0.7l3-0.6l3-0.6l3-0.5l3-0.3l1.9-0.2z" fill="none" stroke="#505050" stroke-opacity="0.4" stroke-width="0.5"/>
<path d="M72 57l3-0.7l3-0.6l3-0.4l3-0.3l3-0.1l3 0.1l3 0.3l3 0.6l3 0.9l0.5 0.2l2.5 1.8l1.4 1.2l0.7 3l-0.7 3l-1.4 1.7l-1.3 1.3l-1.7 0.9l-3 1.1l-3 1l-3 0.4l-3 0.3l-3 0.2l-3 0l-3-0.2l-3-0.3l-2.8-0.4l-0.2-0.1l-3-1l-3-1.3l-1.1-0.6l-1.9-3l0-0.3l0.2-2.7l2.4-3l0.4-0.2l3-1.5l2.9-1.3z" fill="none" stroke="#505050" stroke-opacity="0.4" stroke-width="0.5"/>
</g>
<rect x="508.90" y="451.30" width="141.20" height="119.40" stroke="#333" stroke-width="0.9" fill="none"/>
<linearGradient id="cbi" x1="0" y1="1" x2="0" y2="0"><stop offset="0.0" stop-color="#0a0aff"/><stop offset="0.04" stop-color="#0f14fc"/><stop offset="0.09" stop-color="#2046f5"/><stop offset="0.17" stop-color="#4a96f0"/><stop offset="0.27" stop-color="#80f0ff"/><stop offset="0.36" stop-color="#80f8c8"/><stop offset="0.43" stop-color="#5af078"/><stop offset="0.5" stop-color="#2dec19"/><stop offset="0.6" stop-color="#64f023"/><stop offset="0.67" stop-color="#b4f037"/><stop offset="0.74" stop-color="#f0f040"/><stop offset="0.785" stop-color="#f0c040"/><stop offset="0.84" stop-color="#f89030"/><stop offset="0.91" stop-color="#ff5020"/><stop offset="1.0" stop-color="#ff2010"/></linearGradient><rect x="655.2" y="451.3" width="11.199999999999932" height="119.40000000000003" fill="url(#cbi)" stroke="#555" stroke-width="0.8"/>
<line x1="666.40" y1="451.30" x2="668.90" y2="451.30" stroke="#555" stroke-width="0.8"/>
<text x="670.40" y="453.90" font-size="7.4" text-anchor="start" fill="#111" font-weight="bold">12.1</text>
<line x1="666.40" y1="466.23" x2="668.90" y2="466.23" stroke="#555" stroke-width="0.8"/>
<text x="670.40" y="468.83" font-size="7.4" text-anchor="start" fill="#111" font-weight="bold">10.6</text>
<line x1="666.40" y1="481.15" x2="668.90" y2="481.15" stroke="#555" stroke-width="0.8"/>
<text x="670.40" y="483.75" font-size="7.4" text-anchor="start" fill="#111" font-weight="bold">9.1</text>
<line x1="666.40" y1="496.08" x2="668.90" y2="496.08" stroke="#555" stroke-width="0.8"/>
<text x="670.40" y="498.68" font-size="7.4" text-anchor="start" fill="#111" font-weight="bold">7.6</text>
<line x1="666.40" y1="511.00" x2="668.90" y2="511.00" stroke="#555" stroke-width="0.8"/>
<text x="670.40" y="513.60" font-size="7.4" text-anchor="start" fill="#111" font-weight="bold">6.1</text>
<line x1="666.40" y1="525.93" x2="668.90" y2="525.93" stroke="#555" stroke-width="0.8"/>
<text x="670.40" y="528.53" font-size="7.4" text-anchor="start" fill="#111" font-weight="bold">4.5</text>
<line x1="666.40" y1="540.85" x2="668.90" y2="540.85" stroke="#555" stroke-width="0.8"/>
<text x="670.40" y="543.45" font-size="7.4" text-anchor="start" fill="#111" font-weight="bold">3.0</text>
<line x1="666.40" y1="555.78" x2="668.90" y2="555.78" stroke="#555" stroke-width="0.8"/>
<text x="670.40" y="558.38" font-size="7.4" text-anchor="start" fill="#111" font-weight="bold">1.5</text>
<line x1="666.40" y1="570.70" x2="668.90" y2="570.70" stroke="#555" stroke-width="0.8"/>
<text x="670.40" y="573.30" font-size="7.4" text-anchor="start" fill="#111" font-weight="bold">0.0</text>
<line x1="508.90" y1="570.70" x2="508.90" y2="572.90" stroke="#5a5a5a" stroke-width="0.9"/>
<text x="508.90" y="581.50" font-size="10" text-anchor="middle" fill="#111" font-weight="bold">0</text>
<line x1="526.55" y1="570.70" x2="526.55" y2="572.10" stroke="#5a5a5a" stroke-width="0.9"/>
<line x1="544.20" y1="570.70" x2="544.20" y2="572.90" stroke="#5a5a5a" stroke-width="0.9"/>
<text x="544.20" y="581.50" font-size="10" text-anchor="middle" fill="#111" font-weight="bold">4</text>
<line x1="561.85" y1="570.70" x2="561.85" y2="572.10" stroke="#5a5a5a" stroke-width="0.9"/>
<line x1="579.50" y1="570.70" x2="579.50" y2="572.90" stroke="#5a5a5a" stroke-width="0.9"/>
<text x="579.50" y="581.50" font-size="10" text-anchor="middle" fill="#111" font-weight="bold">8</text>
<line x1="597.15" y1="570.70" x2="597.15" y2="572.10" stroke="#5a5a5a" stroke-width="0.9"/>
<line x1="614.80" y1="570.70" x2="614.80" y2="572.90" stroke="#5a5a5a" stroke-width="0.9"/>
<text x="614.80" y="581.50" font-size="10" text-anchor="middle" fill="#111" font-weight="bold">12</text>
<line x1="632.45" y1="570.70" x2="632.45" y2="572.10" stroke="#5a5a5a" stroke-width="0.9"/>
<line x1="650.10" y1="570.70" x2="650.10" y2="572.90" stroke="#5a5a5a" stroke-width="0.9"/>
<text x="650.10" y="581.50" font-size="10" text-anchor="middle" fill="#111" font-weight="bold">16</text>
<line x1="508.90" y1="570.70" x2="506.70" y2="570.70" stroke="#3a3a3a" stroke-width="0.9"/>
<text x="504.90" y="574.40" font-size="10" text-anchor="end" fill="#111" font-weight="bold">1</text>
<line x1="508.90" y1="550.80" x2="507.50" y2="550.80" stroke="#3a3a3a" stroke-width="0.9"/>
<line x1="508.90" y1="530.90" x2="506.70" y2="530.90" stroke="#3a3a3a" stroke-width="0.9"/>
<text x="504.90" y="534.60" font-size="10" text-anchor="end" fill="#111" font-weight="bold">2</text>
<line x1="508.90" y1="511.00" x2="507.50" y2="511.00" stroke="#3a3a3a" stroke-width="0.9"/>
<line x1="508.90" y1="491.10" x2="506.70" y2="491.10" stroke="#3a3a3a" stroke-width="0.9"/>
<text x="504.90" y="494.80" font-size="10" text-anchor="end" fill="#111" font-weight="bold">3</text>
<line x1="508.90" y1="471.20" x2="507.50" y2="471.20" stroke="#3a3a3a" stroke-width="0.9"/>
<line x1="508.90" y1="451.30" x2="506.70" y2="451.30" stroke="#3a3a3a" stroke-width="0.9"/>
<text x="504.90" y="455.00" font-size="10" text-anchor="end" fill="#111" font-weight="bold">4</text>
<text x="579.00" y="591.30" font-size="10.9" text-anchor="middle" fill="#111" font-weight="bold">k (Å<tspan font-size="6.5" dy="-4">-1</tspan><tspan dy="4">)</tspan></text>
<text x="497.30" y="512.60" font-size="10.5" text-anchor="middle" fill="#111" font-weight="bold" transform="rotate(-90 497.3 512.6)">R (Å)</text>
<text x="621.00" y="461.20" font-size="8.8" text-anchor="start" fill="#fff" font-weight="bold">Ru foil</text>
<text x="580.00" y="518.90" font-size="9" text-anchor="start" fill="#fff" font-weight="bold">Ru-Ru</text>
</svg></body></html>
